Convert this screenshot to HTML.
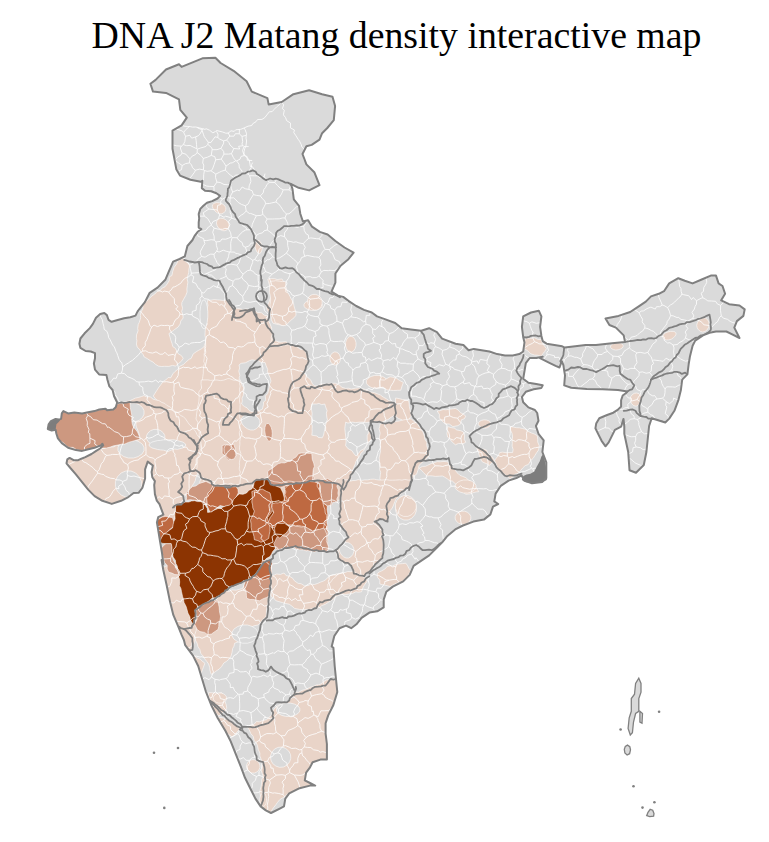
<!DOCTYPE html>
<html><head><meta charset="utf-8"><style>
html,body{margin:0;padding:0;background:#fff;width:769px;height:842px;overflow:hidden}
#t{position:absolute;width:769px;text-align:center;font-family:"Liberation Serif",serif;font-size:37.8px;line-height:1;color:#000;top:16.5px;left:12px;white-space:nowrap}
svg{position:absolute;left:0;top:0}
</style></head><body>
<svg width="769" height="842" viewBox="0 0 769 842">
<defs><clipPath id="ind"><path d="M176.4,169.6 L172.5,148.8 L172.5,130.6 L181.6,125.4 L186.8,117.6 L180.3,109.8 L179,99.4 L166,92.9 L153,91.6 L150.4,83.8 L155.6,79.9 L166,69.5 L179,64.3 L181.6,66.9 L202.4,58.3 L215.4,57.8 L220.6,63 L233.6,70.8 L246.6,81.2 L251.8,91.6 L267.4,98.1 L268.7,104.6 L281.7,102 L293.4,94.2 L309.1,90.3 L322.1,94.2 L332.5,96.8 L335.1,105.9 L333.8,120.2 L327.3,128 L322.1,133.2 L319.5,139.7 L311.7,144.9 L306.4,146.2 L302.5,154 L306.4,164.4 L314.3,172.2 L319.5,185.2 L309.1,190.4 L298.6,187.8 L290.8,183.9 L292.5,189 L293.8,199.4 L299,205.9 L300.3,213.7 L302.9,221.5 L308.1,220.2 L312,226.7 L319.8,231.9 L327.6,234.5 L335.4,241 L344.5,247.5 L353.6,252.7 L348.4,259.2 L340.6,265.7 L335.4,273.5 L335.4,282.6 L331.5,291.7 L338,295.6 L343.2,296.9 L348.4,300.8 L356.2,306 L364,309.9 L371.8,312.5 L377,316.4 L384.8,319.1 L395.2,323 L401.7,328.2 L410.8,329.5 L421.2,330.8 L429.1,328.2 L436.9,332.1 L442.1,338.6 L455.6,343.7 L463.4,345 L468.6,350.2 L473.8,348.9 L481.6,350.2 L489.4,351.5 L497.2,354.1 L505,355.4 L512.8,355.4 L519.3,354.1 L523.2,351.5 L524.5,342.4 L523.2,337.2 L521.9,326.8 L523.2,316.4 L531,312.5 L538.8,310.7 L541.4,316.4 L540.1,326.8 L541.4,335.9 L542.7,341.1 L546.6,343.7 L554.4,345 L562.2,346.3 L564.8,347.6 L575.2,346.3 L585.6,345 L596,345 L612,343.2 L625,341.9 L623.7,335.4 L615.9,327.6 L609.4,325 L605.5,318.5 L612,317.2 L618.5,315.9 L630.2,312 L638,306.8 L645.8,301.6 L651,296.4 L658.8,293.8 L664,291.2 L669.2,283.4 L678.3,278.2 L684.8,280.8 L692.6,283.4 L701.7,279.5 L710.8,275.6 L716,275.6 L718.6,283.4 L722.5,286 L725.1,293.8 L721.2,300.3 L729.1,304.2 L739.5,305.5 L744.7,309.4 L743.4,315.9 L736.9,321.1 L734.3,327.6 L739.5,338 L731.7,334.1 L726.4,331.5 L716,331.5 L709.5,332.8 L703,335.4 L695.2,340.6 L692.6,345.8 L690,356.2 L688.7,364 L687.4,374.4 L682.2,379.6 L680.9,390 L678.3,400.4 L674.4,410.8 L669.2,418.6 L665.3,422.5 L651.7,418.2 L649.1,426 L646.4,452 L643.8,465 L636,472.8 L629.5,470.2 L628.2,452 L624.3,433.8 L624.3,426.7 L623.5,418.9 L621.1,426.7 L614.9,429.9 L611.8,436.1 L608.7,442.4 L605.5,446.3 L601.6,440.8 L598.5,434.6 L595.4,428.3 L596.2,423.6 L599.3,418.2 L607.1,415 L613.3,412.7 L618,409.6 L621.1,406.5 L621.1,400.2 L622.7,395.5 L625.8,393.2 L627.4,391.6 L618,390.1 L602.4,389.3 L586.8,389 L571.2,387.7 L564.2,385.4 L565,375.3 L564.2,370.6 L563.4,365.1 L561.8,361.2 L559.5,367.5 L555.6,365.9 L549.4,362.8 L540,358.1 L542.7,356.7 L536.2,358 L529.7,358 L525.8,363.2 L524.5,371 L523.2,378.8 L528.4,382.7 L536.2,384 L542.7,385.3 L541.4,387.9 L533.6,389.2 L525.8,391.8 L521.9,397 L523.2,402.2 L528.4,407.4 L534.9,410 L537.2,413 L538.5,420.8 L535.9,426 L538.5,433.8 L543.7,440.3 L542.4,452 L546.3,462.4 L546.3,478 L542.4,481.9 L532,483.2 L524.2,480.6 L521.6,475.4 L516.4,478 L508.6,480.6 L500.8,485.8 L495.6,493.6 L494.3,501.4 L498.2,504 L493,506.6 L490.4,514.4 L483.9,519.6 L473.4,521.6 L463,525.5 L455.2,529.4 L447.4,535.9 L442.2,542.4 L437,547.6 L429.2,555.4 L421.4,560.6 L413.6,565.8 L409.7,574.9 L403.2,581.4 L392.8,586.6 L386.3,591.8 L383.7,599.6 L383.7,607.4 L377.2,611.3 L369.4,612.6 L361.6,617.8 L356.4,624.3 L351.2,628.2 L346,625.6 L339.5,628.2 L334.3,636 L331.7,646.4 L333.4,647.8 L334.7,666 L336,679 L337.3,692 L333.4,705 L328.2,715.4 L325.6,723.2 L325.6,733.6 L326.9,744 L326.9,759.6 L320.4,759.6 L312.6,762.2 L310,767.4 L306.1,772.6 L304.8,780.4 L310,783 L315.2,785.6 L310,785.6 L299.6,788.2 L289.2,793.4 L285.3,798.6 L284,806.4 L278.8,809.1 L271,813 L265.8,810.4 L260.6,806.4 L255.4,798.6 L250.2,788.2 L245,777.8 L241.1,767.4 L235.9,754.4 L230.7,741.4 L225.5,731 L217.7,718 L211.2,705 L206,692 L202.1,679 L198.2,666 L193,655.6 L189.1,650.4 L185.2,645.2 L183.9,640 L181.6,634.9 L178.3,626.6 L173.3,614.9 L170,601.6 L166.6,585 L163.3,570 L161.6,560 L163.4,564 L162.1,553.6 L160.8,545.8 L159.5,538 L158.2,530.2 L156.9,522.4 L158.2,517.2 L163.4,514.6 L159.5,504.2 L156.8,500.6 L154.9,494.1 L154.2,485 L154.9,481.1 L152.3,477.2 L151.6,472 L152.9,465.5 L147.7,461.6 L145.1,469.4 L145.1,478.5 L142.5,487.6 L138.6,492.8 L133.6,493 L127.4,497.7 L121.1,500.8 L111.8,503.9 L102.4,500.8 L94.6,496.1 L88.4,489.9 L82.1,482.1 L75.9,474.3 L70.4,468 L66.5,463.3 L67.3,459.4 L69.6,457.9 L73.6,460.2 L78.2,460.2 L81.4,458.7 L85.3,457.1 L91.5,454 L96.2,450.9 L100.1,448.5 L103.2,445.4 L102.4,443.8 L100.9,445.4 L94.6,447.7 L88.4,449.3 L82.1,450.9 L75.9,450.1 L68.1,447.7 L61.8,443.1 L57.9,438.4 L56.4,433.7 L55.6,429.8 L51.7,430.6 L47.8,429 L48.6,424.3 L50.9,421.2 L55.6,418.9 L58.7,419.6 L61.1,418.9 L61.8,413.4 L63.4,411.1 L68.1,413.4 L74.3,412.6 L82.1,413.4 L86.8,412.6 L94.6,411.1 L99.3,409.5 L105.5,408.7 L107.1,410.3 L113.3,409.5 L115.7,407.2 L117.2,402.5 L114.1,396.2 L112.6,390 L109.4,386.4 L107.5,380 L106.4,374.9 L99.1,374.4 L95,369.7 L93.9,363.5 L95,358.3 L95,353.1 L90.8,351.5 L85.6,351 L80.4,347.9 L79.4,343.7 L80.4,338.5 L84.6,333.3 L89.8,328.1 L92.9,323.9 L96,317.7 L100.2,314 L104.3,313 L106.9,315.1 L108.5,319.8 L111.6,321.8 L116.8,320.3 L124.1,318.2 L130.3,317.2 L135.5,315.6 L137.6,311.4 L140.7,307.3 L144.9,302.1 L149.7,292.8 L157.5,287.6 L165.3,279.8 L169.2,270.7 L173.1,261.6 L179.6,259 L184.8,256.4 L187.4,246 L192.5,240 L194.6,235.9 L197.7,231.8 L201.3,229.2 L198.7,227.6 L198.7,222.4 L199.2,218.3 L198.7,214.1 L200.3,208.9 L203.4,205.8 L207,202.7 L212.2,201.1 L217.5,198.5 L220.1,195.9 L216.4,193.3 L211.2,191.2 L205,190.7 L201.8,188.1 L202.4,180.8 L200.8,181.8 L190.4,179.8 L180,175.6Z"/></clipPath></defs>
<path d="M176.4,169.6 L172.5,148.8 L172.5,130.6 L181.6,125.4 L186.8,117.6 L180.3,109.8 L179,99.4 L166,92.9 L153,91.6 L150.4,83.8 L155.6,79.9 L166,69.5 L179,64.3 L181.6,66.9 L202.4,58.3 L215.4,57.8 L220.6,63 L233.6,70.8 L246.6,81.2 L251.8,91.6 L267.4,98.1 L268.7,104.6 L281.7,102 L293.4,94.2 L309.1,90.3 L322.1,94.2 L332.5,96.8 L335.1,105.9 L333.8,120.2 L327.3,128 L322.1,133.2 L319.5,139.7 L311.7,144.9 L306.4,146.2 L302.5,154 L306.4,164.4 L314.3,172.2 L319.5,185.2 L309.1,190.4 L298.6,187.8 L290.8,183.9 L292.5,189 L293.8,199.4 L299,205.9 L300.3,213.7 L302.9,221.5 L308.1,220.2 L312,226.7 L319.8,231.9 L327.6,234.5 L335.4,241 L344.5,247.5 L353.6,252.7 L348.4,259.2 L340.6,265.7 L335.4,273.5 L335.4,282.6 L331.5,291.7 L338,295.6 L343.2,296.9 L348.4,300.8 L356.2,306 L364,309.9 L371.8,312.5 L377,316.4 L384.8,319.1 L395.2,323 L401.7,328.2 L410.8,329.5 L421.2,330.8 L429.1,328.2 L436.9,332.1 L442.1,338.6 L455.6,343.7 L463.4,345 L468.6,350.2 L473.8,348.9 L481.6,350.2 L489.4,351.5 L497.2,354.1 L505,355.4 L512.8,355.4 L519.3,354.1 L523.2,351.5 L524.5,342.4 L523.2,337.2 L521.9,326.8 L523.2,316.4 L531,312.5 L538.8,310.7 L541.4,316.4 L540.1,326.8 L541.4,335.9 L542.7,341.1 L546.6,343.7 L554.4,345 L562.2,346.3 L564.8,347.6 L575.2,346.3 L585.6,345 L596,345 L612,343.2 L625,341.9 L623.7,335.4 L615.9,327.6 L609.4,325 L605.5,318.5 L612,317.2 L618.5,315.9 L630.2,312 L638,306.8 L645.8,301.6 L651,296.4 L658.8,293.8 L664,291.2 L669.2,283.4 L678.3,278.2 L684.8,280.8 L692.6,283.4 L701.7,279.5 L710.8,275.6 L716,275.6 L718.6,283.4 L722.5,286 L725.1,293.8 L721.2,300.3 L729.1,304.2 L739.5,305.5 L744.7,309.4 L743.4,315.9 L736.9,321.1 L734.3,327.6 L739.5,338 L731.7,334.1 L726.4,331.5 L716,331.5 L709.5,332.8 L703,335.4 L695.2,340.6 L692.6,345.8 L690,356.2 L688.7,364 L687.4,374.4 L682.2,379.6 L680.9,390 L678.3,400.4 L674.4,410.8 L669.2,418.6 L665.3,422.5 L651.7,418.2 L649.1,426 L646.4,452 L643.8,465 L636,472.8 L629.5,470.2 L628.2,452 L624.3,433.8 L624.3,426.7 L623.5,418.9 L621.1,426.7 L614.9,429.9 L611.8,436.1 L608.7,442.4 L605.5,446.3 L601.6,440.8 L598.5,434.6 L595.4,428.3 L596.2,423.6 L599.3,418.2 L607.1,415 L613.3,412.7 L618,409.6 L621.1,406.5 L621.1,400.2 L622.7,395.5 L625.8,393.2 L627.4,391.6 L618,390.1 L602.4,389.3 L586.8,389 L571.2,387.7 L564.2,385.4 L565,375.3 L564.2,370.6 L563.4,365.1 L561.8,361.2 L559.5,367.5 L555.6,365.9 L549.4,362.8 L540,358.1 L542.7,356.7 L536.2,358 L529.7,358 L525.8,363.2 L524.5,371 L523.2,378.8 L528.4,382.7 L536.2,384 L542.7,385.3 L541.4,387.9 L533.6,389.2 L525.8,391.8 L521.9,397 L523.2,402.2 L528.4,407.4 L534.9,410 L537.2,413 L538.5,420.8 L535.9,426 L538.5,433.8 L543.7,440.3 L542.4,452 L546.3,462.4 L546.3,478 L542.4,481.9 L532,483.2 L524.2,480.6 L521.6,475.4 L516.4,478 L508.6,480.6 L500.8,485.8 L495.6,493.6 L494.3,501.4 L498.2,504 L493,506.6 L490.4,514.4 L483.9,519.6 L473.4,521.6 L463,525.5 L455.2,529.4 L447.4,535.9 L442.2,542.4 L437,547.6 L429.2,555.4 L421.4,560.6 L413.6,565.8 L409.7,574.9 L403.2,581.4 L392.8,586.6 L386.3,591.8 L383.7,599.6 L383.7,607.4 L377.2,611.3 L369.4,612.6 L361.6,617.8 L356.4,624.3 L351.2,628.2 L346,625.6 L339.5,628.2 L334.3,636 L331.7,646.4 L333.4,647.8 L334.7,666 L336,679 L337.3,692 L333.4,705 L328.2,715.4 L325.6,723.2 L325.6,733.6 L326.9,744 L326.9,759.6 L320.4,759.6 L312.6,762.2 L310,767.4 L306.1,772.6 L304.8,780.4 L310,783 L315.2,785.6 L310,785.6 L299.6,788.2 L289.2,793.4 L285.3,798.6 L284,806.4 L278.8,809.1 L271,813 L265.8,810.4 L260.6,806.4 L255.4,798.6 L250.2,788.2 L245,777.8 L241.1,767.4 L235.9,754.4 L230.7,741.4 L225.5,731 L217.7,718 L211.2,705 L206,692 L202.1,679 L198.2,666 L193,655.6 L189.1,650.4 L185.2,645.2 L183.9,640 L181.6,634.9 L178.3,626.6 L173.3,614.9 L170,601.6 L166.6,585 L163.3,570 L161.6,560 L163.4,564 L162.1,553.6 L160.8,545.8 L159.5,538 L158.2,530.2 L156.9,522.4 L158.2,517.2 L163.4,514.6 L159.5,504.2 L156.8,500.6 L154.9,494.1 L154.2,485 L154.9,481.1 L152.3,477.2 L151.6,472 L152.9,465.5 L147.7,461.6 L145.1,469.4 L145.1,478.5 L142.5,487.6 L138.6,492.8 L133.6,493 L127.4,497.7 L121.1,500.8 L111.8,503.9 L102.4,500.8 L94.6,496.1 L88.4,489.9 L82.1,482.1 L75.9,474.3 L70.4,468 L66.5,463.3 L67.3,459.4 L69.6,457.9 L73.6,460.2 L78.2,460.2 L81.4,458.7 L85.3,457.1 L91.5,454 L96.2,450.9 L100.1,448.5 L103.2,445.4 L102.4,443.8 L100.9,445.4 L94.6,447.7 L88.4,449.3 L82.1,450.9 L75.9,450.1 L68.1,447.7 L61.8,443.1 L57.9,438.4 L56.4,433.7 L55.6,429.8 L51.7,430.6 L47.8,429 L48.6,424.3 L50.9,421.2 L55.6,418.9 L58.7,419.6 L61.1,418.9 L61.8,413.4 L63.4,411.1 L68.1,413.4 L74.3,412.6 L82.1,413.4 L86.8,412.6 L94.6,411.1 L99.3,409.5 L105.5,408.7 L107.1,410.3 L113.3,409.5 L115.7,407.2 L117.2,402.5 L114.1,396.2 L112.6,390 L109.4,386.4 L107.5,380 L106.4,374.9 L99.1,374.4 L95,369.7 L93.9,363.5 L95,358.3 L95,353.1 L90.8,351.5 L85.6,351 L80.4,347.9 L79.4,343.7 L80.4,338.5 L84.6,333.3 L89.8,328.1 L92.9,323.9 L96,317.7 L100.2,314 L104.3,313 L106.9,315.1 L108.5,319.8 L111.6,321.8 L116.8,320.3 L124.1,318.2 L130.3,317.2 L135.5,315.6 L137.6,311.4 L140.7,307.3 L144.9,302.1 L149.7,292.8 L157.5,287.6 L165.3,279.8 L169.2,270.7 L173.1,261.6 L179.6,259 L184.8,256.4 L187.4,246 L192.5,240 L194.6,235.9 L197.7,231.8 L201.3,229.2 L198.7,227.6 L198.7,222.4 L199.2,218.3 L198.7,214.1 L200.3,208.9 L203.4,205.8 L207,202.7 L212.2,201.1 L217.5,198.5 L220.1,195.9 L216.4,193.3 L211.2,191.2 L205,190.7 L201.8,188.1 L202.4,180.8 L200.8,181.8 L190.4,179.8 L180,175.6Z" fill="#dadada"/>
<g clip-path="url(#ind)">
<path d="M183.2,258.2 L185.4,261.5 L188.1,263.1 L189.7,266 L188.9,269 L188.7,272.5 L188.1,274.8 L187.1,279 L187.9,282.2 L187.4,285.4 L186.9,289 L187.1,292 L185.8,295.4 L183.6,299.3 L181.9,302.4 L181.7,304.8 L182.6,308.3 L181.7,311.4 L182.7,314.3 L183.2,318 L180.7,321.1 L180.2,324 L178,327.1 L174.6,329.5 L172.3,331.3 L168.9,333.6 L170.1,337.4 L170.7,339.7 L172,343.5 L172.8,346.6 L175.4,348.3 L176.6,350.9 L178.2,353.7 L181.4,355.6 L183.2,358.3 L181.3,361.3 L178.3,363.7 L175.4,366.1 L172.5,365.4 L168.9,366.4 L164.4,366.3 L161.8,366.5 L158.5,366.1 L155.4,364.3 L153,362 L150.2,360.6 L147.3,358.6 L144.2,357 L143.2,354.7 L141,352.1 L140.1,350.1 L137.2,347 L136.4,344 L136.9,340.8 L136.4,338.4 L136.5,334.9 L138.1,330.7 L137.7,328.4 L138.2,324.5 L139.1,322.7 L140.7,317.8 L140.3,315.4 L140.9,312.3 L142.8,308.7 L142.9,305 L144.8,302.9 L147.4,300.3 L149.4,298.4 L152,295.9 L154.8,294 L157.1,291.6 L159.6,291 L162.3,287.9 L165,286.8 L167.2,283.9 L169.2,280.6 L169.4,276.7 L171.9,275.6 L172.8,271.2 L174.1,267.4 L176.6,263.9 L178,260.8Z" fill="rgb(233, 212, 200)" stroke="#fff" stroke-opacity="0.7" stroke-width="0.8"/>
<path d="M205.3,308.9 L208.6,308.3 L212.3,308.6 L215.7,307.6 L218.1,310.1 L220.2,311.9 L221.7,313.1 L225.5,315.6 L227.4,318 L230.7,319.1 L234.1,320.1 L236.5,320.6 L240,317.9 L242.2,315 L245.6,312.8 L248.3,313.5 L251.2,315.4 L254.5,316.5 L257.3,318 L259,320.2 L262.7,323.1 L265.5,324.5 L267.8,327.1 L268.7,331.4 L270.8,334.5 L272.8,336.4 L273,340.1 L276.8,341.3 L280.4,342.3 L283.8,343.1 L287.3,344 L287.5,346.8 L288.9,349.9 L290,353.1 L291.2,355.7 L288.6,358 L285.3,360.1 L282.1,362.2 L278.7,362.6 L275.6,363.4 L272.7,364.1 L268.9,364.7 L266.4,364.8 L263.4,366.4 L261.1,368.4 L258.7,370.4 L256,372.6 L257.1,375.4 L259.9,379.1 L260.3,382.4 L262.5,385.6 L263,390 L264.3,392.8 L266.4,396 L264.1,396.9 L261.4,399.7 L258.8,401 L256,402.5 L254.4,405.5 L252,408.2 L250.1,410.7 L248.1,413.8 L245.6,416.9 L243.8,420.5 L243.8,424.3 L241.7,427.3 L242.4,430.8 L243.4,433.6 L244.7,435.7 L245.6,440 L242.6,439.5 L239.1,439.3 L235.6,439.5 L233.7,440.8 L230.2,440.5 L227,439 L224.2,440.2 L220.8,440.2 L218.2,439.6 L214.1,439.9 L211.7,439.8 L209.2,440.9 L205.4,440.3 L203.1,440.4 L200,439.8 L196.8,441 L193.8,439.7 L190.6,440.6 L187.4,439.7 L184.9,439.4 L181.3,440 L178,440 L175.7,437.7 L174.8,433.6 L173.3,431 L170.4,427.9 L169.8,425.7 L168.1,422.5 L166.3,419.5 L165.5,416.5 L164.8,413.8 L163.3,411.1 L161.6,407.6 L161.1,405.1 L159.3,402.2 L155.8,399.2 L153.3,396 L155,393.2 L156.9,390.3 L158.4,387.9 L161.1,384.3 L163.2,381.4 L165.7,380 L168.2,377.5 L170.7,377.8 L172.8,373.9 L174.8,371.7 L177.8,369.3 L179.7,366.3 L183.4,364.5 L185.8,362.2 L189.2,359.2 L191.1,358.5 L193.2,353.9 L196.2,351.8 L198.8,350.2 L201.8,348.6 L203.6,347 L206.6,345.3 L210.5,343.3 L210.4,340 L214.4,337.5 L212.3,335.2 L211.1,333.3 L210,330.1 L207.9,327.1 L206.7,324 L205.5,321.7 L204,318 L204.7,314.8 L205.5,312Z" fill="rgb(233, 212, 200)" stroke="#fff" stroke-opacity="0.7" stroke-width="0.8"/>
<path d="M267.8,279 L271.3,278.6 L274.7,278.7 L277.1,279.5 L282.1,279 L283.7,282.1 L285.2,285.7 L286.2,287.5 L287.3,292 L285.9,295.2 L285.5,298.8 L284.1,300.2 L282.1,303.7 L283.1,306.8 L286.3,309.9 L288.3,312.4 L289.7,315.4 L292.5,318 L289.2,320.8 L286.7,323.1 L283.4,325.8 L280.1,324.9 L276.8,324.3 L273,323.2 L271.4,319.8 L271.2,316.9 L269.5,314 L267.4,310.3 L266.4,307.6 L267.8,304.8 L269.4,301.1 L270.1,298.8 L271.7,295.9 L271.7,291.3 L270.4,288.9 L269.6,285.5 L268.8,283.2Z" fill="rgb(233, 212, 200)" stroke="#fff" stroke-opacity="0.7" stroke-width="0.8"/>
<path d="M207.8,300 L211,300.2 L214.1,299.6 L217.2,299.9 L219.5,300 L222.9,300.4 L226,300 L228.6,302.3 L231.9,305.7 L233.8,307.8 L237.5,308.5 L239.8,308.5 L242.8,309.6 L246,308.8 L248.9,309.3 L252,310.4 L255.2,310.8 L257.6,312.5 L261.3,312.7 L264.9,315.6 L267.6,315.6 L267.7,319.5 L269,321.4 L270.1,324 L271.7,328 L271.6,330.6 L272.8,333.8 L271.2,337.1 L271.5,339.9 L270.2,344.2 L273.1,343.8 L277,343.8 L279.3,342.3 L282.9,341.9 L285.8,341.6 L288.7,343.4 L292.7,344.3 L294.8,345.8 L297,346.8 L300.4,349.3 L304,349.4 L306.1,352.9 L307.4,355.1 L309.2,359.8 L308.3,363.9 L306.2,366.6 L305.7,368.8 L304,372.8 L306.5,376.1 L308.3,378 L310.6,379.8 L312.4,383.7 L314.4,385.8 L317.2,385.9 L321.1,383.9 L324.7,384 L328.4,383.5 L332.3,383.3 L335.2,383.2 L338.8,384.6 L342,387.3 L345.6,388.4 L348.8,388.2 L351.2,389 L355.3,388.2 L358.2,387.9 L361.2,388.4 L363.8,389 L367.7,390.6 L370.2,391.9 L374.2,392.6 L376.9,393.6 L380.5,395 L383.1,397 L386.2,398.7 L388.8,400.6 L392.5,401.4 L393.4,404.6 L394.4,408.2 L397,411.7 L397.7,414.4 L395,415.2 L391.1,417.3 L387.9,419.6 L385.3,420.6 L382.1,422.2 L379.1,421.7 L375.1,421.8 L372.6,422.4 L369.1,422.2 L369.9,425.9 L369.5,428.2 L370.7,430.9 L370.9,435.2 L371.7,437.8 L370.5,440.9 L368.2,442.9 L366.4,445.6 L365.2,448 L363.1,451.5 L361,453.1 L359.5,456.3 L358,458.7 L356,461.2 L355.4,463.5 L353.8,467.4 L352.9,469.7 L351.9,472.9 L351.6,475.9 L350.8,479.5 L349.4,483.3 L347.8,486 L346.5,487.7 L344.7,490.7 L343.8,493.6 L342.5,497.4 L340.4,500 L336.3,500.4 L335.1,499.6 L331.7,499.1 L328.3,499.2 L325.4,499.1 L320.8,500.2 L320.2,499.7 L316.4,500.1 L312.8,500.3 L310.7,499.4 L307.1,500.2 L303.1,500.8 L301.7,499.5 L298.5,500 L294.5,500.8 L291.7,500.2 L289.3,500.6 L285.9,499.3 L281.6,500.6 L278.9,500.1 L275.8,499.9 L272.6,500.8 L269.7,499.9 L267.1,500.6 L263.4,500 L260.9,500.3 L258.2,499.8 L255.1,499.8 L252.1,499.9 L248.5,500 L246,501.1 L242.5,500.2 L240.4,499 L235.8,499.4 L233.5,501.2 L230.7,500.6 L227.4,498.8 L223.3,500.5 L221.5,499.4 L218.9,499.2 L215.8,500.7 L211.8,499.4 L209.6,499.5 L206.5,499.4 L203.5,500 L200,500 L199.8,496.5 L200.1,493 L199.9,490.8 L200.3,487.3 L200.9,484.8 L199.4,482.6 L200.8,478.9 L199.6,475.9 L199.7,472.8 L200.8,470.1 L200.1,467.1 L200,464.3 L200.4,460.7 L200.1,459.1 L200.2,454.8 L201,451.9 L199.5,449.2 L199.6,445.6 L200.2,442.8 L199.6,439.6 L199.7,437.4 L199.6,433.5 L201,430.5 L200.7,428.5 L200,424.8 L200.1,421 L200.6,419 L201.1,415.7 L201.4,413.3 L200.4,410.3 L201.2,406.3 L201.2,404.4 L202,399.6 L201.8,397.3 L201.8,394.1 L201.4,391.7 L201.8,388.1 L202.2,384.9 L203,382.4 L202.5,378.7 L202.8,376.6 L203.3,373.2 L203.3,369.9 L203.7,366 L204.6,363.5 L203.7,361.5 L204.3,357.9 L204.1,354 L204.7,352.3 L204.3,349.4 L204.4,345.3 L205.4,342.6 L205.7,339.2 L205,335.6 L205.1,332.9 L205.2,330.6 L205.8,326.4 L207.5,323.9 L205.8,321.9 L207.2,317.7 L206.1,314.7 L207.6,312 L206.8,309.1 L208,305.4 L207.4,302.4Z" fill="rgb(233, 212, 200)" stroke="#fff" stroke-opacity="0.7" stroke-width="0.8"/>
<path d="M304,304.2 L305.4,302.3 L308.1,300.8 L311.3,300 L314.9,300 L318.1,300.8 L320.8,302.3 L322.2,304.2 L322.2,306.2 L320.8,308.1 L318.1,309.6 L314.9,310.4 L311.3,310.4 L308.1,309.6 L305.4,308.1 L304,306.2Z" fill="rgb(233, 212, 200)" stroke="#fff" stroke-opacity="0.7" stroke-width="0.8"/>
<path d="M345.6,342.6 L346.4,339.9 L347.9,337.6 L349.8,336.4 L351.8,336.4 L353.7,337.6 L355.2,339.9 L356,342.6 L356,345.8 L355.2,348.5 L353.7,350.8 L351.8,352 L349.8,352 L347.9,350.8 L346.4,348.5 L345.6,345.8Z" fill="rgb(233, 212, 200)" stroke="#fff" stroke-opacity="0.7" stroke-width="0.8"/>
<path d="M330,357.2 L330.8,354.9 L332.3,353 L334.2,352 L336.2,352 L338.1,353 L339.6,354.9 L340.4,357.2 L340.4,359.8 L339.6,362.1 L338.1,364 L336.2,365 L334.2,365 L332.3,364 L330.8,362.1 L330,359.8Z" fill="rgb(233, 212, 200)" stroke="#fff" stroke-opacity="0.7" stroke-width="0.8"/>
<path d="M366.4,380.6 L368,378.3 L371.1,376.4 L374.8,375.4 L378.9,375.4 L382.6,376.4 L385.7,378.3 L387.3,380.6 L387.3,383.2 L385.7,385.5 L382.6,387.4 L378.9,388.4 L374.8,388.4 L371.1,387.4 L368,385.5 L366.4,383.2Z" fill="rgb(233, 212, 200)" stroke="#fff" stroke-opacity="0.7" stroke-width="0.8"/>
<path d="M380,379.8 L384.3,380.1 L387,378.4 L390.1,376.8 L393,377.2 L396.6,378.3 L399.3,380.3 L403.4,382.4 L401.9,386.6 L400.8,390.2 L397.7,390.3 L393.4,390.5 L390.4,390.2 L386.9,389.9 L383,387.1 L380,387.6 L379.8,384.8Z" fill="rgb(233, 212, 200)" stroke="#fff" stroke-opacity="0.7" stroke-width="0.8"/>
<path d="M395.6,398 L399.1,398.6 L402.5,399.6 L405.6,399.7 L408.6,400.6 L409.2,403.8 L409.3,406.3 L410.2,410.4 L411,413.3 L411.2,416.2 L408.9,419.2 L406.1,420.2 L403.4,421.4 L401.8,419.7 L398.3,418.5 L395.6,416.2 L396.4,413.3 L395.8,410.2 L395,407.7 L395.5,403.2 L395.5,400.2Z" fill="rgb(233, 212, 200)" stroke="#fff" stroke-opacity="0.7" stroke-width="0.8"/>
<path d="M380,424 L382.6,423.5 L385.8,423.5 L388.6,422.6 L392.8,422.7 L395.6,421.4 L399.2,421 L401.9,420.3 L405.5,419.5 L408.3,419.3 L411.2,418.8 L413.9,421.3 L417.5,423.7 L419.1,426.7 L421.6,429.2 L423.2,432.7 L424.4,436.2 L424.8,439 L426.8,442.2 L426.8,445.6 L427.5,448.2 L428.7,452.7 L429.4,455.2 L427.1,458 L424.9,459.9 L421.6,463 L419,465.4 L418.3,468.8 L418,470.1 L416.6,474.2 L413.8,476 L412.7,478.8 L411.9,481.3 L408.9,483.9 L406.9,486.7 L406,489.1 L403.4,491.9 L401,493.8 L398.9,496.4 L395.6,499.5 L394.9,501.6 L393.6,505 L392.3,508 L390.1,510.7 L390.1,514.5 L388.2,516 L387.8,520 L383.5,519.9 L380,520 L379.7,516.6 L380.4,514.5 L380.4,510.5 L380,507.9 L379.3,505.4 L380.1,501.8 L380.7,499.4 L380.4,496.6 L380.4,492.4 L379.8,490.5 L379.6,487 L380.2,484.7 L380.7,481.5 L379.9,478.5 L380.3,474.9 L380.7,472.3 L379.6,469.6 L379.9,466.3 L379.2,463 L379.5,459.5 L379.1,458.1 L379.9,454.1 L380.6,450.9 L380.3,447.3 L380.1,444.8 L380.3,442.1 L379.3,438.1 L379.5,436.4 L380.2,433.2 L379,428.7 L379.7,426.8Z" fill="rgb(233, 212, 200)" stroke="#fff" stroke-opacity="0.7" stroke-width="0.8"/>
<path d="M437.2,411 L439.9,410.7 L443.2,409.5 L445.9,409.8 L449.4,409.2 L453.5,408.7 L455.4,408.4 L458.1,409.9 L460.4,412.6 L463.5,414.2 L465.8,416.2 L464.3,418.8 L461.4,419.8 L460.6,424 L457.9,425.7 L452.8,426.6 L449.3,424 L445.2,423.8 L442.4,421.4 L439.3,417.8 L439.4,414.5Z" fill="rgb(233, 212, 200)" stroke="#fff" stroke-opacity="0.7" stroke-width="0.8"/>
<path d="M447.6,426.6 L451.1,427.6 L455,428.2 L456.3,429.9 L460.8,430.7 L463.2,431.8 L464.6,435 L464.3,439.4 L465.8,442.2 L463.1,443.8 L458.6,443.4 L455.4,444.8 L452.2,442.1 L450.5,439.9 L447.6,437 L446.9,433.6 L447.6,430.1Z" fill="rgb(233, 212, 200)" stroke="#fff" stroke-opacity="0.7" stroke-width="0.8"/>
<path d="M478.3,424.5 L478.3,423 L479.5,421.4 L481.4,420.4 L484,419.8 L486.5,420 L488.8,420.8 L490.2,421.9 L490.8,423.5 L490.4,425 L489.3,426.6 L487.6,427.6 L485.6,428.2 L483.3,428 L481,427.2 L479.3,426.1Z" fill="rgb(233, 212, 200)" stroke="#fff" stroke-opacity="0.7" stroke-width="0.8"/>
<path d="M510,426.6 L513.1,427 L516.5,427.7 L519.5,427.8 L522.7,428.6 L525.6,429.2 L527.5,431.1 L531.3,432.9 L534.3,434 L537.3,435.7 L537.7,439.3 L537.7,442 L539.2,445.6 L538.6,450 L536.5,452.9 L534.9,455.5 L533.1,458.4 L530.8,460.4 L528.3,464.5 L525.1,465.7 L522.8,467.9 L520.4,470.8 L517.9,473.5 L514.8,474.3 L513,476.9 L510,478.6 L508.4,477.2 L504.9,474.5 L502.3,472.7 L499.6,470.8 L497.2,467.3 L496,463.8 L494.4,460.4 L495.9,458.6 L498.2,455.7 L499.6,452.6 L502.5,452.1 L506,452.7 L509.2,452.5 L512.6,452.6 L513.1,449.6 L512.1,446.1 L512.3,443.3 L512,440 L512.6,437 L512.1,433.5 L510.4,429.8Z" fill="rgb(233, 212, 200)" stroke="#fff" stroke-opacity="0.7" stroke-width="0.8"/>
<path d="M476.2,447.4 L479.7,448.5 L483.6,449.1 L486.6,450 L487.9,453.3 L490.6,455.4 L492.6,457.3 L494.4,460.4 L491.6,463.1 L489.2,465.6 L487.1,463.9 L482.4,462 L481.4,460.4 L480.3,457.8 L479.2,455.1 L478.2,451.3Z" fill="rgb(233, 212, 200)" stroke="#fff" stroke-opacity="0.7" stroke-width="0.8"/>
<path d="M419,468.2 L422.5,466.4 L425.5,466.3 L427.8,465.2 L431.3,463.6 L434.1,462.7 L437.2,461.7 L440.6,461.8 L444,461.4 L446.8,461.8 L450.2,463 L451.9,465.9 L454.1,468.1 L456.1,471.6 L458,473.4 L460,475.4 L462.4,476.3 L465.9,477.7 L468.5,480 L471,481.2 L472.4,483.8 L474.7,485.5 L476.8,488.7 L478.8,491.7 L476.2,491.9 L473.1,492.7 L470,493.9 L465.8,494.3 L463.4,492.1 L461.1,489.8 L458.9,486.3 L455.4,483.8 L452.2,480.9 L450,481.1 L447.8,479.2 L444.8,477.2 L442.4,476 L439.1,476.2 L435.3,476.4 L432.3,475.9 L429.6,475.8 L426.8,476 L423.7,472.8 L421.5,470.3Z" fill="rgb(233, 212, 200)" stroke="#fff" stroke-opacity="0.7" stroke-width="0.8"/>
<path d="M395.6,506.1 L397.2,502.1 L400.3,498.6 L403.9,496.9 L408.1,496.9 L411.7,498.6 L414.8,502.1 L416.4,506.1 L416.4,510.8 L414.8,514.8 L411.7,518.3 L408.1,520 L403.9,520 L400.3,518.3 L397.2,514.8 L395.6,510.8Z" fill="rgb(233, 212, 200)" stroke="#fff" stroke-opacity="0.7" stroke-width="0.8"/>
<path d="M525.6,338.2 L529.9,338.2 L531.5,338.4 L534.4,337.7 L537.9,339.4 L541.2,339.5 L542.2,342.5 L544.1,345.5 L546.4,348.6 L544.8,351.4 L543.1,353.4 L541.2,356.4 L538.2,355.3 L534.4,355 L530.8,353.8 L527.4,350.6 L524.3,348.6 L525,344.6 L524.7,341.1Z" fill="rgb(233, 212, 200)" stroke="#fff" stroke-opacity="0.7" stroke-width="0.8"/>
<path d="M190.4,622.4 L192.6,618.8 L192.7,615.8 L195.6,612 L199.7,611.6 L201.4,609.4 L204.9,608.5 L207.7,606.2 L211.1,605.8 L213.8,604.2 L214.7,601.4 L217,599 L218.7,596.8 L220.3,593.7 L221.6,591.2 L224.4,591.1 L229.2,591.3 L232,589.9 L236.2,590.2 L239.1,589.4 L242.4,588.6 L245,583.4 L247.6,582.4 L250.6,580.7 L254,579.3 L256.1,577.8 L260.3,576.9 L263.2,575.6 L265.6,578.4 L268.7,581.2 L271,583.4 L270.2,586.4 L270,589 L268.9,592.4 L268.8,596.6 L268.8,598.4 L268.4,601.6 L267.7,605.6 L266.9,607.8 L266.4,610.9 L266.3,614.6 L265.8,617.2 L262.5,619.8 L261.4,622.1 L258,625 L254,625.8 L250.2,627.6 L247.1,631 L247.3,634.3 L245,638 L240.6,639.9 L238.1,642 L234.6,643.2 L234,646.2 L232.7,648.5 L232,652.6 L231,656.2 L229.4,658.8 L226.6,661.3 L223.8,663 L221.5,666.7 L219,669.2 L215.8,671.3 L213.8,672.9 L211.2,674.4 L209.9,670 L209.8,667.8 L208.6,664 L206.6,661.2 L204.6,658.7 L202.5,655.2 L200.8,653.6 L199.9,649.6 L198,646.9 L197,643 L195.6,640.6 L195.3,637.9 L194.2,635.2 L192.6,629.9 L192.3,629.1 L191.8,625.2Z" fill="rgb(233, 212, 200)" stroke="#fff" stroke-opacity="0.7" stroke-width="0.8"/>
<path d="M271,575.6 L274.2,575.1 L276.6,574 L280.4,574.4 L284,573 L286.3,575.7 L289.2,576.1 L292.9,578.4 L294.4,580.8 L298.2,583.4 L301.1,583.7 L304.8,586 L308.6,585.4 L310.7,584.2 L314.4,584.5 L317.8,583.4 L320.3,582.2 L323.8,580.9 L326.3,579.3 L327.4,577.8 L330.8,575.6 L334.1,575 L336.5,573.8 L339.6,574 L342.7,573.1 L346.4,573 L349.2,573.3 L352.5,572.9 L356.5,572.8 L359.3,572.5 L362.1,573 L364,575.7 L365.7,578 L367.3,580.8 L364.2,583.3 L361.9,586.5 L360,588 L356.9,591.2 L354.2,591.7 L351.2,592.4 L347.2,593.9 L345.2,593.6 L341,594.6 L338.4,595.5 L336,596.4 L333.7,599.1 L330.6,601 L328.8,602 L325.6,604.2 L321.6,605.7 L319.7,607.5 L317,607.7 L314,607.8 L310,609.4 L306.6,609.3 L303.9,609.7 L299.6,609.4 L294.6,608.4 L292.2,606.3 L289.2,604.2 L285.5,603.5 L282.6,602.6 L278.8,601.6 L275.7,600.6 L273.8,598.1 L271,596.4 L271.4,592.7 L272,589.6 L271.2,586.2 L270.6,582 L271.1,579.3Z" fill="rgb(233, 212, 200)" stroke="#fff" stroke-opacity="0.7" stroke-width="0.8"/>
<path d="M208.6,692.6 L212.5,692.8 L214.6,692.9 L218.8,693.1 L221.6,692.6 L222.8,695.1 L224.3,698.5 L225,701.2 L226.2,704.7 L226.8,708.2 L224.8,711.7 L222.2,712.8 L219,716 L215.9,713.8 L214.1,712.7 L211.2,710.8 L210.9,707.9 L210.6,705.1 L210.8,701.7 L209.6,697.7 L208.4,695.3Z" fill="rgb(233, 212, 200)" stroke="#fff" stroke-opacity="0.7" stroke-width="0.8"/>
<path d="M216.4,716 L218.9,717.2 L223.2,717.9 L225.5,718.9 L228.9,719.9 L232,721.2 L234.8,724 L237.4,726.9 L239.8,729.1 L237.2,731.8 L235.5,734.3 L232,736.9 L229.8,735.2 L226.6,733.2 L224.2,731.7 L222.2,728.6 L220.8,725.2 L220.1,722.2 L218.5,719.3Z" fill="rgb(233, 212, 200)" stroke="#fff" stroke-opacity="0.7" stroke-width="0.8"/>
<path d="M343.4,480 L346.9,479.7 L349.6,481.3 L353,480.5 L355.8,480.4 L358.2,479.6 L362,480.4 L364.7,479.9 L367.8,479.9 L370.5,479.3 L374.1,479.1 L376.7,479.7 L379.7,480.1 L383.1,480 L385.9,479.6 L389.7,480.2 L392.3,480.2 L395.7,480.1 L399.5,479.8 L402,480.2 L404.7,479.4 L408.3,480.1 L411,480 L409.7,483.9 L408.4,487.8 L405.8,489.3 L403.3,490.8 L400.6,492.9 L398,495.6 L393.9,497.2 L390.2,498.2 L388.1,501.8 L386.3,506 L386.8,509 L386.6,512 L387.8,515.7 L387.6,517.9 L387.6,521.6 L384,519.6 L379.8,519 L374.6,521.6 L377.4,523.6 L380.7,525.9 L382.4,529.4 L383.2,532.9 L382,535.5 L383.9,539.3 L382.6,541.6 L383.7,545 L382.8,547.7 L382.7,552.4 L382.8,554.6 L382.4,558 L379.6,560.9 L377.5,562.7 L375.3,565.2 L372,568.4 L369.2,571.2 L367.6,573.4 L364.2,576.2 L360.8,576 L357.5,575 L353.8,573.6 L353,569.8 L351.2,565.8 L348.9,564.7 L346,563.4 L342.4,560.6 L341.5,559.7 L338.2,558 L336.5,554.3 L335.6,550.2 L338.7,547.3 L341.2,544.9 L343.4,542.4 L345.9,539.7 L348.6,537.2 L346,532 L344.4,528.8 L341.5,527.1 L339.5,524.2 L339,520.2 L340,517.8 L339.8,514.7 L339.6,512.9 L339.7,508.1 L339.6,504.9 L341.2,501.9 L340.9,498.5 L340.8,495.6 L342.2,492.5 L341.2,489.7 L342.1,486.5 L342.9,483.2Z" fill="rgb(233, 212, 200)" stroke="#fff" stroke-opacity="0.7" stroke-width="0.8"/>
<path d="M395.4,503.9 L397,500.3 L400.1,497.2 L403.7,495.6 L407.9,495.6 L411.5,497.2 L414.6,500.3 L416.2,503.9 L416.2,508.1 L414.6,511.7 L411.5,514.8 L407.9,516.4 L403.7,516.4 L400.1,514.8 L397,511.7 L395.4,508.1Z" fill="rgb(233, 212, 200)" stroke="#fff" stroke-opacity="0.7" stroke-width="0.8"/>
<path d="M455.2,485.2 L456.8,482.9 L459.9,481 L463.5,480 L467.7,480 L471.3,481 L474.4,482.9 L476,485.2 L476,487.8 L474.4,490.1 L471.3,492 L467.7,493 L463.5,493 L459.9,492 L456.8,490.1 L455.2,487.8Z" fill="rgb(233, 212, 200)" stroke="#fff" stroke-opacity="0.7" stroke-width="0.8"/>
<path d="M455.2,516.4 L456.4,514.1 L458.7,512.2 L461.4,511.2 L464.6,511.2 L467.3,512.2 L469.6,514.1 L470.8,516.4 L470.8,519 L469.6,521.3 L467.3,523.2 L464.6,524.2 L461.4,524.2 L458.7,523.2 L456.4,521.3 L455.2,519Z" fill="rgb(233, 212, 200)" stroke="#fff" stroke-opacity="0.7" stroke-width="0.8"/>
<path d="M377.2,573.6 L379.8,571.6 L381.6,570.9 L384.9,569 L387.3,566.3 L390.2,565.8 L392.6,565.9 L396,564.5 L398.8,563.9 L402.5,563.6 L405.8,563.2 L407.5,565.5 L408.9,568.4 L411,571 L409.2,573.5 L407.9,576.3 L405.2,578.4 L403.2,581.4 L400.4,582.2 L395.9,583.5 L393.7,584.7 L390.2,586.6 L387.3,585.7 L382.5,584.7 L379.8,584 L379.8,580.1 L377.4,577.3Z" fill="rgb(233, 212, 200)" stroke="#fff" stroke-opacity="0.7" stroke-width="0.8"/>
<path d="M327.8,584 L331,581.9 L332.8,578.9 L335.7,576.8 L338.2,573.6 L342.4,573 L345.1,572.4 L347.8,571.5 L350.3,571.7 L353.8,571 L355.9,573 L358.7,574.1 L361.5,575.5 L364.2,577.7 L366.8,578.8 L367,581.4 L364.3,585.2 L362.4,588.7 L361.6,591.8 L358,592.2 L355.9,591.8 L352.3,593.5 L348.6,594.1 L346,594.4 L343,594.2 L340.3,593.7 L336.9,594.2 L333,594.3 L330.4,594.4 L329.3,591.3 L327.9,587.3Z" fill="rgb(233, 212, 200)" stroke="#fff" stroke-opacity="0.7" stroke-width="0.8"/>
<path d="M45.2,452.8 L47.9,452.4 L50.5,451.1 L53.2,449.6 L57,448.5 L59.7,446.2 L62.2,446.7 L66,445 L69,445.3 L72.3,446.2 L74.4,446.8 L78.2,449.2 L80.1,449.2 L84,450.9 L85.2,450.7 L89.4,451.5 L92.6,450.1 L95.5,450.3 L98.6,449.3 L101.4,448.6 L104.5,448.4 L107,447 L110.2,447.1 L114,446.8 L116.6,445.2 L118.9,445.5 L122.5,443.5 L125.1,443.2 L128,441.9 L131.7,441.9 L134,440 L136.8,440 L140.1,439.3 L139.7,436.1 L139,433.4 L137.3,429 L136.3,426.7 L136,424.6 L136,421.5 L133.9,419.7 L133.8,415.4 L132.7,411.9 L132.4,409.8 L132.1,407.2 L130.9,404.4 L129.7,400.8 L132.4,399.5 L135.4,398.1 L138.2,397.5 L141.4,396.6 L144,395.6 L146,396.7 L150.6,396.9 L152.5,398.9 L155.2,399.8 L158.9,400.5 L161.9,402.5 L164.8,403.4 L166.7,405.3 L170.5,407.2 L172.8,409.5 L175.1,411.7 L178,412.6 L180.6,415.5 L183.4,416.7 L185.6,419 L187.8,422.3 L189.6,424.8 L192.1,426.8 L193.7,429.2 L195.9,431.9 L197,434.6 L199.2,437.4 L201.2,439.8 L201.4,442.5 L200.9,446.5 L201.4,449.6 L202.5,453.3 L201.2,456.4 L201.9,459.5 L200.3,462.6 L201.2,465.8 L199.9,469.8 L197.7,472.4 L197.2,475 L195.9,477.6 L195.3,480.5 L193.9,483.3 L191.9,486.2 L190.8,489.2 L188.5,491.7 L187.3,493.8 L183.7,497 L183.3,500.1 L180.4,502.2 L180.2,505.9 L178.3,508.3 L176.5,511 L177.2,513.6 L175,516.7 L175.2,520.4 L171.9,521 L169.6,521.1 L164.1,519.3 L161.4,520.9 L157.1,520.2 L154.4,520.4 L153.2,517.3 L152.3,514.4 L151.8,511.1 L150.6,508.9 L149.2,504.8 L145.3,503.4 L142.6,504 L138.8,502.2 L136.3,504.4 L133.5,505.9 L130.7,507.4 L128.6,508.9 L126.5,510.9 L122.9,512.4 L119.8,514.1 L118,515.2 L116.5,514.6 L112.5,513.5 L109.8,512.4 L106.8,511.7 L103.4,511 L100.7,509.2 L98.9,509.3 L94.1,508.9 L92,507.4 L89.9,505.4 L88.1,502.7 L84.2,501 L83.6,499.4 L81,496.6 L79.4,494.5 L76.9,492.6 L74.4,491.1 L72.3,488.2 L70.5,485.7 L68.8,484.4 L67.1,482.1 L64,480.1 L61.4,477.5 L60.2,475.6 L57.2,472.5 L55.6,471 L54.8,467.8 L51.4,464.4 L50.5,462.5 L48.7,459.5 L47.1,456.1Z" fill="rgb(233, 212, 200)" stroke="#fff" stroke-opacity="0.7" stroke-width="0.8"/>
<path d="M201.2,380 L205,379.9 L207.9,379.9 L210.6,380.4 L213.8,380.1 L217,380 L220.4,380.6 L223.9,380.1 L227.9,378.6 L229.8,378.7 L233.6,380.2 L237.1,380.2 L240,380 L239.6,384 L240.2,386 L239.5,389.4 L239.8,392 L240.1,395.4 L239.6,399 L239.5,400.9 L240.2,404.5 L240,407.3 L240,410.3 L239.2,414 L239.5,416.6 L240.4,419.8 L241.4,422.1 L239.6,425.9 L240.7,428.8 L239.3,432.6 L239.5,435 L240.4,437.8 L239.8,441.4 L239.9,444.4 L239.5,447.2 L239.5,449.6 L240.9,453.6 L240.5,456 L240,459.4 L239.3,462.9 L239.6,465.5 L239.2,469.2 L240.4,472 L239.5,474.6 L240.6,477.7 L240.1,481 L240,484 L236.4,484.8 L232.9,484.1 L230.8,483.2 L227.9,484.3 L224.8,483.6 L221.9,484.6 L218.7,484.9 L216,484.4 L213.2,483.7 L209.2,484.3 L206.4,484 L204.6,482.2 L202.8,478.9 L200.3,476.1 L197.9,473.4 L196,471 L197.1,467.5 L197.1,464.6 L197.7,461.1 L197.5,458.2 L199.1,454.9 L200.1,450.6 L201.8,448.4 L201.2,445 L200.7,440.9 L200.2,438.7 L199.1,435.4 L199.3,431.9 L197.6,429.5 L197.5,425.5 L197.9,422.4 L196,419 L196.4,416.2 L196.7,413.2 L197.3,409.7 L197.5,407.2 L198.3,404.4 L198.9,401.2 L199.1,397.9 L199.1,395.6 L198.7,392.2 L201.6,388.1 L201.2,385.2 L201,383.9Z" fill="rgb(233, 212, 200)" stroke="#fff" stroke-opacity="0.7" stroke-width="0.8"/>
<path d="M212.3,206.8 L212.5,204.8 L214.1,203.3 L216.4,202.6 L219.6,202.9 L222.3,203.9 L224.6,205.6 L225.8,207.6 L225.8,209.6 L225,211.5 L223.5,213 L221.6,213.8 L219.6,213.8 L217.4,212.9 L215,211.2 L213.3,209.1Z" fill="rgb(233, 212, 200)" stroke="#fff" stroke-opacity="0.7" stroke-width="0.8"/>
<path d="M216.4,222.9 L217,220.7 L218.5,219 L220.6,218.2 L223.2,218.5 L225.6,219.6 L227.7,221.5 L228.9,223.7 L229.2,226 L228.5,228.1 L227,229.8 L225,230.7 L222.7,230.7 L220.4,229.7 L218.3,227.8 L217,225.5Z" fill="rgb(233, 212, 200)" stroke="#fff" stroke-opacity="0.7" stroke-width="0.8"/>
<path d="M254.9,245 L255.3,242.8 L256.3,241.1 L257.5,240.3 L259.1,240.6 L260.4,241.8 L261.6,243.9 L262.2,246.3 L262.2,248.9 L261.7,251.1 L260.7,252.8 L259.6,253.6 L258.3,253.3 L257.1,252.1 L255.9,250 L255.2,247.6Z" fill="rgb(233, 212, 200)" stroke="#fff" stroke-opacity="0.7" stroke-width="0.8"/>
<path d="M270,281.4 L273.9,281 L275.6,280.7 L279.8,281.2 L282.5,281.6 L285.6,281.4 L285.8,285.2 L285.7,287.6 L285.6,291.8 L288.3,293.1 L290.1,296.7 L291.4,299.4 L293.4,302.2 L293.9,305.5 L294.6,308.2 L295.8,311.7 L296,315.2 L294.1,317.7 L290.5,320.6 L288.7,322.6 L285.6,325.6 L282,325.5 L278.2,323.5 L275.2,323 L274.4,319.4 L272.3,316.1 L272.8,314.2 L272,311.1 L270.3,308.2 L270,304.8 L270.6,301.1 L270.5,297.9 L270.1,295 L269.3,292.2 L269.6,288.1 L269.8,285Z" fill="rgb(233, 212, 200)" stroke="#fff" stroke-opacity="0.7" stroke-width="0.8"/>
<path d="M307.5,300.6 L308.2,297.9 L310.1,295.6 L312.7,294.4 L315.8,294.4 L318.6,295.6 L320.9,297.9 L322.1,300.6 L322.1,303.8 L321.1,306.5 L319.2,308.8 L316.9,310 L314.3,310 L311.8,308.8 L309.5,306.5 L308,303.8Z" fill="rgb(233, 212, 200)" stroke="#fff" stroke-opacity="0.7" stroke-width="0.8"/>
<path d="M246.6,726.4 L250.2,725.3 L254,724.3 L256.4,721.6 L259.7,721.8 L262.8,720.4 L266.5,719.7 L268.8,717.6 L271.5,715 L272.2,711.9 L273.8,709.4 L276.5,706.4 L280,704.5 L283.1,703 L286.2,702.1 L289.8,699.8 L293,696.9 L293.1,693.1 L296.5,692.3 L298.7,692.3 L301.5,690.5 L304.5,689.6 L307.4,688.7 L309.6,687.4 L313.1,686.5 L316.7,684.8 L318.5,684.8 L321.9,683.5 L323.4,681.8 L326.8,679.8 L330.5,679.9 L333.1,678.1 L334.6,680.1 L337.3,683.1 L339.1,686.8 L342.3,687.9 L343.9,691.8 L346.4,693.1 L346.8,695.8 L345.1,699.7 L343.6,701.7 L344.1,704.6 L342.5,707.2 L341.6,711.2 L340.8,713.1 L340.1,717.6 L339.7,719.7 L339.5,722.5 L339.3,726.1 L339,728 L338.8,731.9 L338.9,734.4 L338.7,737.9 L337.1,741.9 L337.4,744.5 L337.3,747.9 L337.7,751 L337.3,752.7 L335.8,756.7 L336.4,759.7 L333.5,762.3 L331.7,763.7 L328.8,766.2 L326.5,769.1 L324.9,772.2 L321.7,773.6 L319.8,776.3 L318.9,780.1 L316.6,781.8 L314.3,786.4 L313.1,789.6 L309.5,791.1 L306.5,790.7 L302.6,790.5 L299.4,791.2 L296.3,792.1 L293.2,792.9 L289.8,792.9 L286.6,794.7 L284.9,797.1 L282.2,798.1 L279.8,799.6 L277.4,802.5 L276,804.6 L273.6,807.6 L272.2,809.7 L269.9,812.9 L267,813.8 L264.2,815.8 L259.9,816.2 L259.7,812.6 L261.1,809.9 L260.2,806 L259.8,803.3 L260.2,799.1 L260.5,796.4 L259.9,792.9 L260.1,790.1 L261.1,786.7 L261.6,783.1 L261.7,779.8 L263.2,776.3 L262,773.1 L261,769.6 L262.1,766.6 L261.9,762.4 L261.6,760.5 L259.8,755.9 L259.9,753 L258.3,749.7 L257.3,745.1 L256.2,742.9 L254,740.2 L253.2,736.4 L250.8,733.6 L249.1,729.6Z" fill="rgb(233, 212, 200)" stroke="#fff" stroke-opacity="0.7" stroke-width="0.8"/>
<path d="M213.3,697.1 L214.3,695.4 L216.3,693.9 L218.6,693.1 L221.3,693.1 L223.6,693.9 L225.6,695.4 L226.6,697.1 L226.6,699.1 L225.6,700.9 L223.6,702.4 L221.3,703.1 L218.6,703.1 L216.3,702.4 L214.3,700.9 L213.3,699.1Z" fill="rgb(233, 212, 200)" stroke="#fff" stroke-opacity="0.7" stroke-width="0.8"/>
<path d="M246.6,765 L247.6,762.7 L249.6,760.7 L251.9,759.7 L254.6,759.7 L256.9,760.7 L258.9,762.7 L259.9,765 L259.9,767.7 L258.9,770 L256.9,772 L254.6,773 L251.9,773 L249.6,772 L247.6,770 L246.6,767.7Z" fill="rgb(233, 212, 200)" stroke="#fff" stroke-opacity="0.7" stroke-width="0.8"/>
<path d="M259.9,798.3 L260.4,795.9 L261.4,793.9 L262.5,792.9 L263.9,792.9 L265,793.9 L266,795.9 L266.5,798.3 L266.5,800.9 L266,803.3 L265,805.3 L263.9,806.3 L262.5,806.3 L261.4,805.3 L260.4,803.3 L259.9,800.9Z" fill="rgb(233, 212, 200)" stroke="#fff" stroke-opacity="0.7" stroke-width="0.8"/>
<path d="M610.6,346 L611.5,344.7 L613.4,343.6 L615.6,342.9 L618.1,342.7 L620.3,343.1 L622.2,344.1 L623.1,345.2 L623.1,346.7 L622.2,348 L620.3,349.1 L618.1,349.8 L615.6,350 L613.4,349.6 L611.5,348.6 L610.6,347.5Z" fill="rgb(233, 212, 200)" stroke="#fff" stroke-opacity="0.7" stroke-width="0.8"/>
<path d="M663,337.7 L662.9,336.1 L663.8,334.3 L665.5,332.9 L668,331.9 L670.6,331.4 L673.2,331.4 L675,331.9 L676,332.9 L676,334.3 L675.1,336.1 L673.5,337.7 L671.3,339.2 L668.8,339.9 L666.2,339.9 L664.3,339.2Z" fill="rgb(233, 212, 200)" stroke="#fff" stroke-opacity="0.7" stroke-width="0.8"/>
<path d="M696.7,325.3 L697.3,322.8 L698.9,320.3 L700.9,318.7 L703.4,317.8 L705.7,318.2 L707.7,319.8 L708.9,322 L709.1,324.9 L708.5,327.6 L706.9,330.1 L705,331.5 L702.6,332 L700.5,331.4 L698.4,329.8 L697.2,327.8Z" fill="rgb(233, 212, 200)" stroke="#fff" stroke-opacity="0.7" stroke-width="0.8"/>
<path d="M630.1,399 L630.7,396.7 L632.3,394.6 L634.3,393.3 L636.8,393 L638.9,393.7 L640.6,395.4 L641.3,397.6 L641.1,400.3 L640.2,402.7 L638.6,404.8 L636.9,406 L635.1,406.1 L633.3,405.4 L631.6,403.6 L630.6,401.5Z" fill="rgb(233, 212, 200)" stroke="#fff" stroke-opacity="0.7" stroke-width="0.8"/>
<path d="M160,566.7 L163.9,567.1 L166.4,565.9 L169.7,567 L173.2,567.6 L176.8,566.8 L180,566.7 L181,569.4 L181.6,572.7 L181.3,575.3 L183.7,579.1 L184.1,581.8 L184.7,586.1 L185.9,588.6 L187.4,591.9 L187.3,595.7 L188.3,598.3 L188.3,601.7 L189.6,604.2 L190.7,607.8 L192,611 L193,614.7 L194.7,617.5 L195.1,620.1 L195.1,623.8 L196.6,626.6 L196.2,630.4 L194.8,634.6 L194.7,636.6 L194.9,639.9 L194.6,642.5 L193,645.5 L191.7,648.9 L191.6,653.2 L194.3,655.3 L196.8,657.8 L200.3,659.2 L202.1,661.1 L204.9,663.2 L203.4,667.2 L202.5,669.7 L201,673.4 L199.9,676.5 L196.4,676.7 L193.2,677.2 L190.5,675.8 L186.5,676.9 L183.3,676.5 L182.3,674 L181.9,670.9 L180.9,667.8 L180.4,664 L178.9,661.3 L179.5,659 L178,656 L176.8,652.6 L176.7,649.9 L176.3,647.2 L174.7,644.1 L173.9,641.3 L173.9,639.5 L171.8,635.5 L171.9,632 L170.5,629.3 L170,626.6 L168.3,623.9 L169,620.6 L168.5,617.7 L169.2,614.7 L167.9,611.4 L167.2,608.5 L166.4,605.2 L165.6,602.9 L165.9,599.9 L164.7,596.8 L163.2,594.1 L164,590.8 L164.1,587.5 L163.5,584.5 L162.8,581.5 L162.2,579.4 L161.2,575.4 L160.8,572.9 L161.9,569.4Z" fill="rgb(233, 212, 200)" stroke="#fff" stroke-opacity="0.7" stroke-width="0.8"/>
<path d="M246.9,370 L249.3,369.2 L252.9,368.7 L257.1,368 L260.1,367 L263.8,367.4 L265.2,370.3 L267,374.4 L267.4,377 L269.1,380.4 L268.5,384 L266.9,386.9 L268,390.1 L266.4,393.4 L263.1,395.2 L258.9,397.4 L256,398.6 L254.2,396.1 L252.5,393.8 L249.2,391.1 L248.2,388.2 L247.7,385.3 L247.4,381.7 L248,379.1 L247.2,375.9 L247.2,373Z" fill="rgb(218, 218, 218)" stroke="#fff" stroke-opacity="0.7" stroke-width="0.8"/>
<path d="M239,365 L241.1,363.3 L245.4,362.8 L249.5,360.7 L252,359.8 L256.3,360.5 L258.8,360.9 L261.5,362.5 L265,362.4 L266,365.5 L267.7,369.5 L267.4,371.7 L269.2,375.8 L270.2,378 L271,381.1 L269.4,384.7 L269.3,387.2 L268.6,390.2 L267.6,393.6 L265.3,396.1 L265.7,400.3 L263.4,402.1 L263.5,404.4 L262.4,409.2 L259.3,410.6 L254,411.4 L252,411.8 L249.4,410.6 L247,407.8 L244.3,406.5 L241.6,404 L242.3,401 L242,398.1 L243.2,395.6 L243.7,391.5 L244.2,388.4 L242.2,385.4 L240.7,381.2 L239,378 L239.9,375.7 L238.8,371.1 L239.6,367.9Z" fill="rgb(218, 218, 218)" stroke="#fff" stroke-opacity="0.7" stroke-width="0.8"/>
<path d="M241.1,420.6 L241.7,417.9 L244.1,415.6 L247.3,414.4 L251.5,414.4 L255.1,415.6 L258.2,417.9 L259.8,420.6 L259.8,423.8 L258.6,426.5 L256.3,428.8 L253.6,430 L250.4,430 L247.3,428.8 L244.2,426.5 L242.1,423.8Z" fill="rgb(218, 218, 218)" stroke="#fff" stroke-opacity="0.7" stroke-width="0.8"/>
<path d="M311.8,404 L316.5,404 L318.9,403.4 L321.6,404.6 L324.8,404 L325.6,406.9 L327.1,410.7 L326.3,413.1 L326.8,417.2 L327.4,419.6 L326.2,422.7 L325.3,426.4 L324.8,429.2 L324.3,431.5 L323.5,435.3 L322.2,437.8 L318.2,437.4 L317.1,436 L311.8,435.2 L312.2,431.5 L312.1,428.7 L312.3,425.9 L311.3,423.4 L311.8,419.2 L311.9,416.1 L312.1,413.4 L311.7,410.7 L311.2,407.7Z" fill="rgb(218, 218, 218)" stroke="#fff" stroke-opacity="0.7" stroke-width="0.8"/>
<path d="M345.6,422.2 L348,423.1 L352.5,422.1 L355.4,422.6 L359,422.2 L363,422.1 L365.7,422.5 L369.1,422.2 L369.3,425.5 L368.5,429 L368.4,433.1 L367.2,435.6 L367.2,439.3 L367.6,442.3 L366.4,445.6 L364,448.9 L360.6,450.5 L358.4,453.5 L356,456 L353.6,453.2 L351.8,450.5 L348.2,448.8 L345.6,445.6 L346.1,442.3 L345.9,439.4 L345.7,436 L345.2,432.3 L344.8,428.5 L345.1,426.2Z" fill="rgb(218, 218, 218)" stroke="#fff" stroke-opacity="0.7" stroke-width="0.8"/>
<path d="M200,311.4 L200.6,306.4 L201.8,302.1 L203.1,300 L204.7,300 L206,302.1 L207.2,306.4 L207.8,311.4 L207.8,317.2 L207.2,322.2 L206,326.5 L204.7,328.6 L203.1,328.6 L201.8,326.5 L200.6,322.2 L200,317.2Z" fill="rgb(218, 218, 218)" stroke="#fff" stroke-opacity="0.7" stroke-width="0.8"/>
<path d="M232,632.3 L233.9,629.1 L237.9,626.4 L242.4,625 L247.6,625 L252.1,626.4 L256.1,629.1 L258,632.3 L258,635.9 L256.1,639.1 L252.1,641.8 L247.6,643.2 L242.4,643.2 L237.9,641.8 L233.9,639.1 L232,635.9Z" fill="rgb(218, 218, 218)" stroke="#fff" stroke-opacity="0.7" stroke-width="0.8"/>
<path d="M123.2,410.7 L124.8,407.5 L127.9,404.8 L131.5,403.4 L135.7,403.4 L139.3,404.8 L142.4,407.5 L144,410.7 L144,414.3 L142.4,417.5 L139.3,420.2 L135.7,421.6 L131.5,421.6 L127.9,420.2 L124.8,417.5 L123.2,414.3Z" fill="rgb(218, 218, 218)" stroke="#fff" stroke-opacity="0.7" stroke-width="0.8"/>
<path d="M146.6,435.6 L148,432.9 L150.7,430.6 L153.9,429.4 L157.5,429.4 L160.7,430.6 L163.4,432.9 L164.8,435.6 L164.8,438.8 L163.4,441.5 L160.7,443.8 L157.5,445 L153.9,445 L150.7,443.8 L148,441.5 L146.6,438.8Z" fill="rgb(218, 218, 218)" stroke="#fff" stroke-opacity="0.7" stroke-width="0.8"/>
<path d="M118,447.1 L120,443.9 L123.8,441.2 L128.4,439.8 L133.6,439.8 L138.1,441.2 L142.1,443.9 L144,447.1 L144,450.7 L142.1,453.9 L138.1,456.6 L133.6,458 L128.4,458 L123.8,456.6 L120,453.9 L118,450.7Z" fill="rgb(218, 218, 218)" stroke="#fff" stroke-opacity="0.7" stroke-width="0.8"/>
<path d="M115.4,481.4 L117.4,476.9 L121.2,472.9 L125.8,471 L131,471 L135.6,472.9 L139.4,476.9 L141.4,481.4 L141.4,486.6 L139.4,491.1 L135.6,495.1 L131,497 L125.8,497 L121.2,495.1 L117.4,491.1 L115.4,486.6Z" fill="rgb(218, 218, 218)" stroke="#fff" stroke-opacity="0.7" stroke-width="0.8"/>
<path d="M149.2,444 L151.9,442.1 L157.4,440.6 L160.4,440.4 L163.8,439.8 L167,439.8 L171,439.8 L174.2,439.8 L177.4,440.6 L182.9,442.1 L185.6,444 L185.6,446 L182.9,447.9 L177.4,449.4 L174.7,449 L171,450.2 L167.8,451.6 L163.8,450.2 L160.2,449.9 L157.4,449.4 L151.9,447.9 L149.2,446Z" fill="rgb(218, 218, 218)" stroke="#fff" stroke-opacity="0.7" stroke-width="0.8"/>
<path d="M339.2,548.6 L340,545.9 L341.9,543.6 L344.4,542.4 L347.6,542.4 L350.3,543.6 L352.6,545.9 L353.8,548.6 L353.8,551.8 L352.8,554.5 L350.9,556.8 L348.6,558 L346,558 L343.5,556.8 L341.2,554.5 L339.8,551.8Z" fill="rgb(218, 218, 218)" stroke="#fff" stroke-opacity="0.7" stroke-width="0.8"/>
<path d="M270.5,756 L271.8,752.4 L274.5,749.1 L277.9,747.4 L281.8,747 L285.4,748.3 L288.7,751 L290.5,754.4 L290.8,758.3 L289.6,761.9 L286.9,765.2 L283.5,767 L279.5,767.3 L275.9,766.1 L272.6,763.4 L270.9,760Z" fill="rgb(218, 218, 218)" stroke="#fff" stroke-opacity="0.7" stroke-width="0.8"/>
<path d="M276.5,708.4 L278.2,706.1 L281.7,704.1 L285.8,703.1 L290.5,703.1 L294.6,704.1 L298.1,706.1 L299.8,708.4 L299.8,711.1 L298.1,713.4 L294.6,715.4 L290.5,716.4 L285.8,716.4 L281.7,715.4 L278.2,713.4 L276.5,711.1Z" fill="rgb(218, 218, 218)" stroke="#fff" stroke-opacity="0.7" stroke-width="0.8"/>
<path d="M267.4,483.8 L267.7,480.7 L268.7,477.9 L270.3,473.6 L271,470.6 L272.6,468.2 L275.6,467.6 L278.7,465.6 L281.6,465.2 L283.9,464.4 L288.2,463 L291,460.2 L294,459.1 L295.9,458.9 L297.8,455.8 L301.2,455.2 L304.2,455.5 L308.2,456.7 L311.7,457.8 L311.9,461 L312.5,464.3 L313.2,468.2 L312.9,472.6 L313.2,475.5 L314.3,478.6 L309.1,481.2 L305.5,482.1 L302.8,483 L300,482.7 L296,483.8 L293.6,484.9 L287.8,484.9 L284.3,486.4 L280.4,487.7 L278.2,487.3 L273.5,485.5 L270,483.8Z" fill="rgb(205, 152, 128)" stroke="#fff" stroke-opacity="0.7" stroke-width="0.8"/>
<path d="M316.9,481.2 L321.1,480.4 L323.7,479.5 L327.3,478.6 L331.2,480.4 L333.6,482.5 L337.7,483.8 L336.9,486.5 L338.4,490 L337.9,493 L338.3,495.9 L336.7,499.1 L337.7,502 L332.7,502.3 L331.6,505.2 L327.3,505.9 L324.5,503.9 L322.1,502 L321.7,499.5 L320.9,495.5 L320.5,493 L320.5,489.7 L320.4,486.3 L319.5,483.8Z" fill="rgb(205, 152, 128)" stroke="#fff" stroke-opacity="0.7" stroke-width="0.8"/>
<path d="M288.2,525.4 L291.7,525.9 L294.7,527.8 L298.6,528 L302,527.5 L305.7,527.5 L309.1,528 L312.5,528.5 L315.7,527.5 L318.2,529 L321.2,528.7 L325.1,527.3 L327.3,528 L328,531.8 L327.8,535.6 L327.6,538.1 L327.7,541.2 L327.6,543.7 L328.2,547.8 L327.3,551.4 L324.5,551.6 L321.2,551.5 L318,550.6 L314.6,552 L311.7,551.4 L308.1,550.4 L306.5,551 L303.1,549.9 L299.3,549.7 L296,548.8 L293.7,546.8 L290.1,544.6 L287.5,543.8 L285.6,541 L283.5,537.7 L281.7,534.5 L285.6,530.6Z" fill="rgb(205, 152, 128)" stroke="#fff" stroke-opacity="0.7" stroke-width="0.8"/>
<path d="M246.6,574.8 L250.7,573.5 L254.4,572.2 L257.3,574.5 L258.9,578.3 L262.2,580 L264.9,578.9 L267.9,578 L271.3,577.4 L271.1,580.8 L270.4,583.6 L270.3,587.1 L269.8,589.6 L270.6,591.9 L270,595.6 L266.6,597.4 L262.7,599 L259.6,600.8 L256.9,600.3 L252.9,599.4 L250.1,599.5 L246.6,598.2 L246.4,595.3 L246.1,590.9 L243.9,587.3 L244,585.2 L245.3,580.6 L245.7,578.7Z" fill="rgb(205, 152, 128)" stroke="#fff" stroke-opacity="0.7" stroke-width="0.8"/>
<path d="M197.2,603.4 L200,601.3 L204,600.3 L207.6,598.2 L210.3,599.2 L214.9,600 L218,600.8 L218.6,604.6 L219.2,607 L219.4,610.5 L219.9,613.6 L220.6,616.4 L220,620.2 L218.9,623 L218.8,626.4 L218,629.5 L215.1,631.4 L211.5,634 L207.6,634.7 L204.6,632.4 L200,631.6 L197.2,629.5 L194.6,624.3 L197.2,619.1 L196.4,615.3 L195.9,611.2 L196.5,608Z" fill="rgb(205, 152, 128)" stroke="#fff" stroke-opacity="0.7" stroke-width="0.8"/>
<path d="M166,543.6 L171.2,543.6 L172.2,546.5 L172.2,550.4 L172.5,554 L172.5,557.6 L173.7,560.7 L175.7,564.4 L175.1,567 L177.6,570.7 L179,574.8 L174.9,574.6 L171.9,573.1 L168.6,572.2 L167.1,569 L167.2,565.5 L164.6,562.6 L163.4,559.2 L162.7,555.1 L160.8,552 L160.8,548.8 L163.3,545.8Z" fill="rgb(205, 152, 128)" stroke="#fff" stroke-opacity="0.7" stroke-width="0.8"/>
<path d="M55.6,416.4 L57.7,414.2 L60.6,412.9 L63.4,411.2 L65.7,411.2 L69.8,411.6 L72.1,411.8 L75.9,412.6 L79,412.5 L81.3,412.6 L85,412.1 L88.7,411.3 L91.1,411.4 L94.6,411.2 L98.4,410 L100.8,409.1 L105,408.6 L108.6,407.9 L111.7,405.8 L115.4,404.7 L118.9,403.6 L122.1,402.5 L126.2,401.8 L129.7,400.8 L130.1,403.7 L130.3,407.4 L131,411.2 L131.8,415.2 L131.8,418.5 L131.8,420.8 L132.3,424.2 L133.4,426.9 L135.5,429.4 L137.5,432 L139,435.5 L140.1,439.3 L136.6,440 L134.2,440.8 L131.6,441.5 L128.4,442.4 L124.8,444.1 L122,444.1 L118,445 L113.6,445.8 L110.2,447.1 L106.5,448 L102.4,448.1 L100.3,448.8 L96,449.6 L92.7,450.5 L89.4,451.5 L85.6,451.5 L83,451.2 L79.4,450.3 L76.4,449.7 L73.3,447.4 L68.8,447.3 L66,445.5 L63.4,442.7 L60.4,441.2 L58.2,439.8 L56,438 L54,435.6 L52.2,431.6 L50.4,429.4 L52.5,426.6 L53.7,423.9 L54.8,420.3Z" fill="rgb(205, 152, 128)" stroke="#fff" stroke-opacity="0.7" stroke-width="0.8"/>
<path d="M264.7,430.8 L264.9,427.6 L265.6,424.9 L266.8,423.5 L268.4,423.5 L269.8,424.8 L271.2,427.3 L272,430.3 L272.3,433.6 L272,436.7 L271.2,439.4 L270.2,440.9 L268.9,441.2 L267.6,440 L266.2,437.5 L265.3,434.4Z" fill="rgb(205, 152, 128)" stroke="#fff" stroke-opacity="0.7" stroke-width="0.8"/>
<path d="M222.1,445.6 L225.2,444.8 L230.1,444.8 L233.8,444.3 L235,448 L236.1,453.1 L236.4,456 L232.8,458.4 L228.6,459.9 L226.7,458.2 L224.4,455.3 L222.1,453.4 L222.2,449.6Z" fill="rgb(205, 152, 128)" stroke="#fff" stroke-opacity="0.7" stroke-width="0.8"/>
<path d="M267.6,471.7 L269.5,469.9 L272.8,467.9 L275.2,466 L278,463.8 L281.6,462.8 L284.7,462.9 L288.1,461.4 L291,461.2 L293.1,458.6 L295.7,457.3 L298.8,453.4 L301.7,453 L305.6,453.2 L307.4,453.3 L311.8,453.4 L312,456.4 L312.3,459.4 L313.7,463.1 L314.4,466.4 L313.3,469.2 L312.9,472.7 L312.7,475.2 L312.6,478.6 L311.8,482.1 L308.7,481.6 L305.4,482 L302.1,482.3 L298.8,482.1 L295.5,482.2 L291.9,481.4 L288.3,481 L283.8,481.9 L281.3,482.8 L278,482.1 L274.8,481.8 L270.9,480.6 L267.6,479.5 L268.1,475.8Z" fill="rgb(205, 152, 128)" stroke="#fff" stroke-opacity="0.7" stroke-width="0.8"/>
<path d="M224.2,451.2 L224.1,448.5 L224.8,446.2 L226.3,445 L228.3,445 L230.6,446 L232.9,447.9 L234.6,450.2 L235.6,452.8 L235.8,455.3 L235,457.6 L233.5,459 L231.5,459.6 L229.2,458.8 L226.9,456.9 L225.2,454.4Z" fill="rgb(205, 152, 128)" stroke="#fff" stroke-opacity="0.7" stroke-width="0.8"/>
<path d="M155.6,520.2 L159.2,518.9 L162.1,517.1 L166,516.3 L168.5,517.1 L172.5,517.6 L173.6,521.1 L175.1,525.4 L172,527.7 L168.6,530.6 L166.5,533.5 L163.4,534.5 L161.7,538 L159.5,542.3 L157.4,540 L156.9,535.8 L156.9,532.1 L156.9,528.7 L155.9,526.3 L155.7,522.7Z" fill="rgb(190, 105, 65)" stroke="#fff" stroke-opacity="0.7" stroke-width="0.8"/>
<path d="M284.3,486.4 L289.4,485.3 L292.3,484.7 L296,483.8 L298.5,482.9 L302.6,483 L305.6,482 L309.1,481.2 L312.4,482.3 L314.8,483.2 L319.5,483.8 L319.6,486.5 L318.9,489.3 L321.1,494 L320.9,495.6 L321.9,499.1 L322.1,502 L324.4,503.9 L327.3,505.9 L327.1,509.4 L327.7,513.1 L327.8,515.7 L327.4,519 L326.8,522.8 L327.4,525.5 L327.3,528 L323.4,529.4 L320.6,529.6 L316.9,530.6 L312.7,528.9 L309.1,528 L306.5,528.6 L302.2,528.1 L298.6,528 L294.8,526.2 L290.8,526 L288.2,525.4 L287.3,521.8 L286.9,519.6 L285.6,516.3 L282.2,515 L278.6,515.4 L275.2,515 L272.6,511.1 L275.2,505.9 L278.5,504.2 L283,504.6 L284.6,501.7 L284.3,498.1 L284.1,495 L284.9,490.5Z" fill="rgb(190, 105, 65)" stroke="#fff" stroke-opacity="0.7" stroke-width="0.8"/>
<path d="M255.7,568.3 L258,566.5 L260.8,564 L262.2,561.8 L266,560.8 L270,559.2 L272.6,564.4 L270.9,567.7 L271.7,570.9 L271.5,574.3 L271.3,577.4 L268.3,578.3 L265.2,579.4 L262.2,580 L259.3,577.9 L256.2,574.9 L254.4,572.2Z" fill="rgb(190, 105, 65)" stroke="#fff" stroke-opacity="0.7" stroke-width="0.8"/>
<path d="M186.2,492.9 L189.6,489.1 L192.5,486.6 L195.7,486 L199.2,483.6 L201.1,482.9 L206,481.4 L209.7,483.3 L213.3,484.6 L212.2,487.7 L211.2,490.3 L208.1,492.9 L207.8,496.4 L207.3,500.5 L207,504.3 L203.9,502.2 L199.8,500.2 L196.8,500.5 L192.6,500 L190.3,499.7 L186.2,500.2 L186.6,497.4Z" fill="rgb(205, 152, 128)" stroke="#fff" stroke-opacity="0.7" stroke-width="0.8"/>
<path d="M213.3,485.6 L217.8,486 L221.6,486.1 L225.9,486.4 L228.9,486.2 L233.1,486.8 L236.2,486.6 L238,489.6 L238.3,492.9 L236.2,497 L234.5,501 L233.1,505.4 L230.1,505.3 L226.8,505.9 L224.2,506.6 L220.1,505.5 L217.5,507.5 L212.9,510.8 L210.2,512.7 L208.6,509.1 L207,505.4 L207.1,502.5 L206.6,498.1 L207,496.1 L208.1,492.9 L210.5,490.5 L212.2,487.7Z" fill="rgb(190, 105, 65)" stroke="#fff" stroke-opacity="0.7" stroke-width="0.8"/>
<path d="M159.5,542.3 L161.4,537.8 L163.4,534.5 L166.8,532.2 L169.5,530.1 L172.5,528 L173.1,524.6 L173.9,521.3 L175.1,518.9 L174.9,515.6 L175,511.5 L174.7,509.1 L173.8,505.9 L176.6,504.5 L179.2,503.2 L183,502.9 L185.5,502 L188.9,502 L191.3,501 L194.6,500.7 L197.5,501.6 L200.7,501.6 L203.7,502 L205.4,505.4 L207.3,508.5 L207.6,512.4 L211.7,511.8 L214,510.2 L218,508.5 L221.1,508.1 L223.2,506.9 L226.3,505.8 L229.7,505.1 L232.4,502.2 L233.6,499.4 L237.5,495.5 L239.4,493.9 L243,494.3 L246.6,492.9 L248.9,490.2 L251.8,489 L253.7,485.2 L254.4,481.2 L258.5,479.5 L262.2,478.6 L266.2,478.5 L268.7,478.6 L270,483.8 L272.5,484.5 L276.5,486.3 L280.4,487.7 L283,492.9 L284.3,498.1 L284,501 L283,504.6 L278.8,506.4 L275.2,505.9 L272.6,511.1 L275.2,515 L278.7,515.2 L282.1,515.2 L285.6,516.3 L286.7,519.8 L287,522.9 L288.2,525.4 L285.6,530.6 L281.7,534.5 L277.8,538.4 L276.8,542 L275.7,544.9 L275.2,548.8 L272.7,551.5 L271.6,553.9 L270,556.6 L266.2,558.6 L263.6,561.8 L261.2,565.2 L259.6,567.7 L257.4,571.2 L254.4,575.2 L251.1,577.5 L247.3,580.1 L243.3,580.6 L240.4,583.6 L237.1,585.3 L232.9,586.6 L229.3,586.8 L226.2,591.5 L221.5,594.6 L217.8,596.3 L215.3,597.7 L212,598.3 L209,600.9 L205.7,603 L204,604.6 L201.2,605.5 L198.2,606.4 L195,610.2 L195.5,613.8 L195.7,618 L194.3,621.3 L193.4,625 L191.5,621.8 L190.3,619.6 L189.9,616.7 L187.9,613.1 L187.2,610.2 L186.1,606.5 L184,602.4 L183.3,598.7 L182.5,596.2 L181.5,591.7 L180.9,588.4 L179.4,585.7 L179.7,581.9 L179.4,579 L178.4,576.3 L179.4,573.1 L177.8,569.7 L177.2,565.9 L175.8,563.5 L175.4,560.3 L173.1,557.1 L172.5,554 L171.8,551.3 L172,547.2 L171.2,543.6 L166,543.6 L162.8,543.4Z" fill="rgb(140, 52, 2)" stroke="#fff" stroke-opacity="0.7" stroke-width="0.8"/>
<path d="M251.8,491.6 L255,490.3 L257.8,490.5 L262.2,489 L266.3,491.3 L270,492.9 L270.9,496.8 L271.2,499.6 L272.6,502 L271.7,505.2 L271.1,509 L271.3,512.4 L269.2,515.2 L267.4,517.6 L268,520.4 L269.4,525.2 L270,528 L269.9,531.4 L269.3,534.1 L268.7,538.4 L264.6,540.9 L260.9,542.3 L257.9,540.6 L254.4,539.7 L254,536.6 L253,532.9 L251.8,530.6 L251.1,527.3 L251.1,523.9 L250.5,520.2 L251.8,517.1 L253.3,514.6 L254.4,511.1 L252.8,507.9 L252.6,505.1 L251.8,502 L252.3,497.9 L252.1,494.2Z" fill="rgb(190, 105, 65)" stroke="#fff" stroke-opacity="0.7" stroke-width="0.8"/>
<path d="M276.8,537.4 L279.6,535.9 L283.1,535 L285.3,531.9 L287.5,529.2 L290.1,526.5 L293.7,525.6 L296.8,526.3 L301.5,527 L304.9,526.5 L308.9,528.1 L309.7,529.6 L312.7,531.1 L316.7,530.1 L319.4,529 L323.6,528 L325.2,530.4 L326.8,534.3 L326.5,538 L326.3,540.6 L327.6,544.3 L328.3,546.3 L328.3,549.9 L325.5,549.9 L322.4,551.3 L317.9,551.2 L314.6,550.6 L311.1,551.4 L308.5,550.7 L305.3,550.1 L302.4,549.1 L298.6,547.8 L295.5,546.8 L292.6,547.3 L289.1,548.8 L286.4,549.3 L282.6,548.8 L279.7,549.2 L276.8,549.9 L275.1,546.7 L273.7,543.6 L275,541.4Z" fill="rgb(205, 152, 128)" stroke="#fff" stroke-opacity="0.7" stroke-width="0.8"/>
<path d="M272.1,503.8 L275.6,502.8 L278.1,502.9 L281.7,501.6 L285,500.6 L287.7,500.7 L286.7,498.6 L284.9,494.7 L285.9,491.9 L284.6,489 L287.7,485.9 L291.6,483.6 L293.8,482.5 L298.2,482.4 L301.4,482.1 L304.9,480.9 L308,481.2 L311,481.6 L314.1,481.8 L317.4,482.8 L317.1,486.2 L319.4,490.2 L320.1,493 L320.5,495.3 L321.8,498.7 L322.8,502 L323.6,506.2 L324.8,509.2 L325.2,513 L326.8,515.5 L326.6,518.9 L325.6,522.6 L324.3,524.2 L323.6,528 L319.5,529.4 L316.4,529.3 L312.7,531.1 L310.8,529.7 L308.3,528.6 L304.9,526.5 L301.6,526.2 L298.3,525.4 L295.4,525.8 L293.1,524.8 L289.3,524.9 L286.5,524.9 L282.9,525.5 L279.9,524.9 L275.8,527.1 L272.1,528 L269.6,525.2 L267.5,523.3 L269.4,519.9 L270,517.8 L272.2,515 L273.7,512.4 L271.9,507.5Z" fill="rgb(190, 105, 65)" stroke="#fff" stroke-opacity="0.7" stroke-width="0.8"/>
<path d="M276.8,523.3 L281,523.6 L284.6,523.3 L286.9,525 L290.1,526.5 L287.7,531.1 L285.5,533.6 L283.1,535 L279.9,538.2 L276,535 L274.9,532.2 L274.5,528Z" fill="rgb(140, 52, 2)" stroke="#fff" stroke-opacity="0.7" stroke-width="0.8"/>
<g fill="none" stroke="#fff" stroke-opacity="0.8" stroke-width="1">
<path d="M267.7,811.4 L267.8,807 L267.2,805.3 L268.1,801.1 L268.3,798.5 L268.8,796.5 L268,792.2"/><path d="M252.5,792.8 L255.6,792.8 L258.2,792.6 L260.3,791.4 L264.3,792.8 L268,792.2"/><path d="M285.8,798 L283.1,794.7"/><path d="M283.1,794.7 L278.8,793.5 L274.5,792.8 L272.9,793.2 L268.5,791.8"/><path d="M268,792.2 L268.5,791.8"/><path d="M294.4,775 L300,775.4 L302.4,775 L306,772.9"/><path d="M300,788.1 L299.2,785.1 L298.2,782 L296.5,779 L294.4,775"/><path d="M203.3,128.7 L202.1,129.9"/><path d="M197.3,127.7 L202.1,129.9"/><path d="M175.7,128.8 L182.3,131 L183.7,132.4"/><path d="M189.4,126.5 L185.8,129.6 L183.7,132.4"/><path d="M250.5,788.8 L252.2,787.5 L252.3,783.3 L255.5,780.1 L256.4,776.4"/><path d="M269.5,780.1 L270.4,782.9 L268.7,787.4 L268.5,791.8"/><path d="M269.5,780.1 L265.5,779 L262.7,776.6 L259,775.3"/><path d="M256.4,776.4 L259,775.3"/><path d="M175.1,160.1 L174.6,160.1"/><path d="M175.1,160.1 L177.8,157 L180.9,155.1 L182.1,153"/><path d="M172.5,144.8 L176.7,145.8 L181.4,146.1"/><path d="M181.4,146.1 L180.3,148 L182.1,153"/><path d="M202.1,129.9 L202,130.4"/><path d="M202,130.4 L203.6,134.7 L204.2,136.7 L205.7,138.7 L208.3,142.3"/><path d="M216.4,131.3 L218,134.1 L217.8,137.5"/><path d="M208.3,142.3 L210.8,142.6 L215.1,136.8 L217.8,137.5"/><path d="M256.4,776.4 L252.7,774.6 L250.7,772.8 L247.8,769.8"/><path d="M247.8,769.8 L242.9,772.1"/><path d="M326.9,752.9 L322.8,751.6 L320.1,752.2 L318.2,750.5 L313.5,749.8 L310.8,747.5 L307.4,747.4 L304.2,746.9"/><path d="M311,765.5 L308.8,762.4 L306.4,759.9 L304.7,757.3 L302.7,755.9 L301.9,752.9"/><path d="M304.2,746.9 L301.9,749.4"/><path d="M301.9,752.9 L301.9,749.4"/><path d="M230.2,198 L230.9,195.1 L232.7,192.1"/><path d="M245.4,205.8 L241.5,204.4 L238.3,202.5 L236,200 L233.7,197.8 L230.2,198"/><path d="M253.4,194.6 L251.3,197.9 L249.8,200.3 L248.3,203.8 L245.4,205.8"/><path d="M253.4,194.6 L252.2,190.8 L248.9,189.4"/><path d="M248.9,189.4 L245.4,188.8 L242.2,187 L239.4,190.8 L237.3,190 L232.7,192.1"/><path d="M195.6,136.9 L191.7,138.2 L189.8,135.3 L185.5,136.3"/><path d="M195.6,136.9 L196.1,140.4 L196.5,144.4 L196.9,148.8"/><path d="M196.9,148.8 L193.3,147.1 L190.1,145.4 L186.7,145.7 L183.3,144.6"/><path d="M185.5,136.3 L184.8,141.6 L183.3,144.6"/><path d="M183.7,132.4 L185.5,136.3"/><path d="M202,130.4 L199.8,134.2 L198.4,135.7 L195.6,136.9"/><path d="M197.3,149.2 L200.2,148.1 L205.9,146.5 L207.8,144.3"/><path d="M208.3,142.3 L207.8,144.3"/><path d="M197.3,149.2 L196.9,148.8"/><path d="M181.4,146.1 L183.3,144.6"/><path d="M247.8,769.8 L247.1,766.7 L249.4,763.6 L249.4,760.4"/><path d="M249.4,760.4 L246.1,760.3 L243.3,757.6 L240,759.2 L236.7,756.4"/><path d="M242.4,727.4 L241.9,723.2 L240.4,720.9 L241.1,719 L235.8,716.4 L237.6,713"/><path d="M242.4,727.4 L240,729.5 L237.6,733.9"/><path d="M237,733.8 L237.6,733.9"/><path d="M237,733.8 L235,733.9 L230.7,729.7 L230.3,726.2 L227.2,725 L226.7,723.9 L223.9,720.6"/><path d="M237.6,713 L233.4,714.4 L230.1,713.3 L227.3,715.4"/><path d="M223.9,720.6 L225.3,718.7 L227.3,715.4"/><path d="M242.6,741.9 L240.1,746 L240.1,749.4 L236.6,750.8 L235.8,754.2"/><path d="M228.8,737.7 L231.5,737.2 L235.1,735.3 L237,733.8"/><path d="M242.6,741.9 L240.6,739.6 L239.5,735.6 L237.6,733.9"/><path d="M220.2,722.1 L223.9,720.6"/><path d="M212.3,707.2 L215.8,705.4 L219,705.5 L222.4,705.2"/><path d="M222.4,705.2 L224,707.9 L227.4,711.6 L227.3,715.4"/><path d="M301.9,752.9 L299.7,753.7 L297.8,758.3 L297.9,762.7 L294.5,762.9 L292.9,765.8 L290.6,768.3 L289.6,770.6"/><path d="M301.9,749.4 L299.5,749.9 L295.6,748.2 L291.6,748.5 L289.5,747.3 L285.4,745.6 L283.3,746.2"/><path d="M283.3,746.2 L280.5,748.8 L278,752.8"/><path d="M278,752.8 L280.7,754 L281.8,757.4 L282.6,760 L287,763.2 L286.9,765 L288.8,768.2 L289.6,770.6"/><path d="M283.1,794.7 L283.2,789.9 L282.9,788.8 L283.9,785 L282,782.1 L285.5,778.4 L285.3,775.4"/><path d="M269.5,780.1 L274,776.9 L276.5,775.1"/><path d="M276.5,775.1 L282.1,774.7 L285.3,775.4"/><path d="M294.4,775 L289.6,772.6"/><path d="M285.3,775.4 L289.6,772.6"/><path d="M289.6,772.6 L289.6,770.6"/><path d="M724.3,301.8 L720.6,305.4"/><path d="M736,323.3 L732.9,322.6 L730.1,321.4 L727.7,319.4 L723.4,318.2 L721.3,315.9"/><path d="M720.6,305.4 L720.5,310.3 L720.9,313.3 L721.3,315.9"/><path d="M711.4,327.4 L713.9,325 L715.1,323.5 L717.5,321.7 L719.7,317.2 L721.3,315.9"/><path d="M692.6,318.4 L694.7,319 L699.9,321 L702.2,322.6 L703.8,324.8 L709.4,325.5 L711.4,327.4"/><path d="M692.6,318.4 L693.9,315.9 L692,312.4 L694.4,309 L695.1,306.3 L696.5,304.2 L696.5,300.7"/><path d="M720.6,305.4 L717.3,303.9 L715.6,301.3 L711.5,301 L707.8,300.9 L705.7,299.3 L702.9,297.8"/><path d="M702.9,297.8 L701.2,298.2 L696.5,300.7"/><path d="M702.9,297.8 L701.1,293.2 L703.4,291.5 L703.9,287.2 L705.5,284.9 L706.8,282.2 L706.1,277.6"/><path d="M696.5,300.7 L693.1,297.5 L691.6,299.6 L688.7,295.7 L683.1,294.6 L682,294"/><path d="M692.6,318.4 L687.9,321"/><path d="M670.6,315.6 L673.1,315.8 L677.1,317.6 L678.2,317.2 L681,319.4 L684.7,320 L687.9,321"/><path d="M670.6,315.6 L669.4,311.3 L667.7,307.7"/><path d="M667.7,307.7 L670.7,304.6 L671.9,304.3 L674.7,302 L679.1,297.5 L680.1,296.9 L682,294"/><path d="M682,294 L681.1,291.2 L681,288.5 L679.6,286.4 L679,281.1 L678,278.4"/><path d="M667.7,307.7 L664,305.5 L662.2,305.1"/><path d="M662.2,305.1 L661.4,302.8 L659,297.6 L658.3,294"/><path d="M230.1,198 L230.2,198"/><path d="M230.7,185.2 L231.3,188.4 L232.7,192.1"/><path d="M216.9,182.1 L213.9,186.5"/><path d="M213.9,186.5 L214.1,191.4 L214.5,192.5"/><path d="M230.1,198 L226.1,197.2 L222.3,199.1"/><path d="M230.7,185.2 L227.6,184.7 L224,184.5 L220.2,182.5 L216.9,182.1"/><path d="M222.3,199.1 L218.8,197.2"/><path d="M202.7,184.3 L202.1,184.8"/><path d="M202.7,184.3 L206.8,186.1 L209.8,186.4 L213.9,186.5"/><path d="M265,173.6 L264.3,176.5"/><path d="M252.7,162.6 L251.7,164.4 L251.2,167.8 L249.4,170.1 L248.1,174"/><path d="M264.3,176.5 L260.3,177.8 L257.3,175.8 L254.7,175.8 L249.6,175.7"/><path d="M249.6,175.7 L248.1,174"/><path d="M248.9,189.4 L249.2,185.8 L250.9,181.6 L250.6,178.9 L249.6,175.7"/><path d="M233.5,177.3 L235.5,175.1 L241.3,174.9 L242.7,172.9"/><path d="M242.7,172.9 L248.1,174"/><path d="M230.7,185.2 L232.5,178.4 L233.5,177.3"/><path d="M216.9,182.1 L215.5,177.4 L215.8,174.1"/><path d="M233.5,177.3 L230.3,175.1 L227.6,172.4 L225.3,170.1"/><path d="M225.3,170.1 L221.7,171.2 L219.4,172.3 L215.8,174.1"/><path d="M197.3,149.2 L197.1,152.5"/><path d="M182.1,153 L185.9,154.2 L189.2,158.1 L190,158.8"/><path d="M197.1,152.5 L195.5,154.6 L192.2,156.1 L190,158.8"/><path d="M182.2,165.5 L177.9,162.5 L175.1,160.1"/><path d="M182.2,165.5 L185.6,163.6 L189.4,162.9"/><path d="M189.4,162.9 L190,158.8"/><path d="M182.2,165.5 L181.5,169.7 L178.7,170.9 L179.7,175.1"/><path d="M188.6,179.1 L191.1,176.9 L194.5,172.2 L195.4,170.2"/><path d="M189.4,162.9 L191.5,164.7 L192.5,167.8 L195.4,170.2"/><path d="M254.7,757.5 L254.1,754.2 L255.2,750.4 L253.9,747.9 L254.3,744"/><path d="M254.7,757.5 L257.8,758.5 L258.9,759.1 L263.4,762"/><path d="M274.4,753.8 L272.3,756.6 L269.3,757.4 L267.6,761.1"/><path d="M274.4,753.8 L271.3,752.2 L269.6,750.1 L265.5,746.8 L264.8,744 L260.8,742.4 L259.4,740.2"/><path d="M259.4,740.2 L256.7,741.9 L254.3,744"/><path d="M263.4,762 L267.6,761.1"/><path d="M249.4,760.4 L251.8,757.9 L254.7,757.5"/><path d="M242.6,741.9 L245.5,743.7 L249.2,742.8 L254.3,744"/><path d="M259,775.3 L259,771.8 L261.8,768.6 L261.9,764.2 L263.4,762"/><path d="M278,752.8 L274.4,753.8"/><path d="M276.5,775.1 L273.8,772.8 L273.1,768.1 L270.9,768.1 L270.8,765.7 L267.6,761.1"/><path d="M252.3,725.1 L248.6,725.6 L245.2,725.3 L242.4,727.4"/><path d="M252.3,725.1 L256.7,727.2"/><path d="M256.7,727.2 L259.2,731 L259.7,733.1 L260.7,737.1"/><path d="M260.7,737.1 L259.4,740.2"/><path d="M237.6,713 L239.1,711.2"/><path d="M252.3,725.1 L251.9,722.9 L251.5,717 L251.5,717.4 L250.9,712.7"/><path d="M250.9,712.7 L248.8,711.7 L243.3,710.5 L239.1,711.2"/><path d="M222.4,705.2 L224.4,699.6"/><path d="M208.6,698.6 L212,697.2 L212.9,694 L215.4,691.7"/><path d="M224.4,699.6 L220.4,698.6 L219.6,695.3 L215.4,691.7"/><path d="M238.9,694.3 L239.6,698.1 L239.5,701.3 L239.7,703.9 L239.7,708 L239.1,711.2"/><path d="M238.9,694.3 L238.1,694.1"/><path d="M224.4,699.6 L228.2,697.9 L230.5,697.7 L233.8,698.5 L238.1,694.1"/><path d="M687.9,321 L685.8,325.9 L687.9,328.3 L685.2,332 L686.3,334.7 L685.4,338.1"/><path d="M711.4,327.4 L711.5,332.4"/><path d="M685.4,338.1 L688.8,339.7 L691.3,340.3 L694.5,342"/><path d="M639.1,313 L641.1,311.1 L643.5,310.9 L647,308.6 L650.9,307.1 L655.3,309.1 L656.5,306.7 L659.7,306.7 L662.2,305.1"/><path d="M639.1,313 L638.7,312.4 L634.1,309.4"/><path d="M204.4,216.2 L203.2,212.8 L208.9,209"/><path d="M204.4,216.2 L207.7,218.5 L210.3,222.9 L211.3,224.8"/><path d="M211.3,224.8 L213,221.5 L216.2,220.3 L218.5,218.6 L219.6,214.8"/><path d="M208.9,209 L212.9,209.5 L217.2,210"/><path d="M217.2,210 L219.6,214.8"/><path d="M198.9,216.1 L204.4,216.2"/><path d="M206.3,203.3 L206.3,206.8 L208.9,209"/><path d="M222.3,199.1 L220.7,201.2 L220.9,204.5 L217.6,205.4 L217.2,210"/><path d="M230.1,198 L229.9,202.6 L230.9,204.4 L230.3,207.7 L230.2,212.5 L231.1,214.9 L231.5,218.1"/><path d="M219.6,214.8 L224,217.3 L225.6,216.2 L230.2,217.5 L231.4,218.3"/><path d="M231.5,218.1 L231.4,218.3"/><path d="M170.2,602.6 L173.9,603 L176.3,600.2 L180.5,602.1 L182.4,599.1 L185.2,598.8 L189.8,598.2 L192.5,598.9"/><path d="M167.1,587.2 L169.7,586.4 L171.8,581.3 L171.8,577.9 L175.8,578.2 L179.2,576 L180.1,573.3"/><path d="M180.1,573.3 L185.7,573.2"/><path d="M185.7,573.2 L184.9,575.3 L189.4,578.3 L190,580.9 L191.7,584 L193.4,586.4 L193.9,587.9 L196.5,591.3"/><path d="M196.5,591.3 L195.5,595.1 L192.5,598.9"/><path d="M175.8,620.9 L177.7,621.5 L184.6,621.9 L186.6,622.9"/><path d="M192.5,598.9 L193.8,602.7 L196.9,604.3 L197.7,607.3 L199,610.8 L201.1,613"/><path d="M201.1,613 L198.3,616.8 L196.1,616.7 L192.4,618.4 L190.6,620.4 L186.6,622.9"/><path d="M202.4,552.6 L201,556.5 L199.5,558.1 L199.2,560.3 L197.7,564.5"/><path d="M202.4,552.6 L207.1,554.3 L207,555.1 L210.8,555.2 L213.7,555.8 L217.6,556.3 L220.2,557.5 L222.1,558.8 L225.4,558.7 L227.1,560 L231.8,559.9"/><path d="M197.7,564.5 L200.8,566.7 L202.7,568.2 L202.8,571.8 L206,575.1 L207.9,576.8 L210.2,577.1 L213.2,580.9"/><path d="M231.8,559.9 L230.7,562.7 L229.2,565.4 L227.3,567.2 L225.3,570.7 L224.4,573.5 L223.8,576.4 L222,578.5"/><path d="M213.2,580.9 L215.9,579.1 L219.6,578.4 L222,578.5"/><path d="M196.5,591.3 L200.8,592.7 L203.4,589.8 L208.1,589.1"/><path d="M208.1,589.1 L210.7,586.8 L211.9,584.1 L213.2,580.9"/><path d="M185.7,573.2 L189.7,571.9 L191.9,568.4 L193.7,568.3 L197.7,564.5"/><path d="M66.7,463.5 L69.3,464.2 L75.1,461.4 L75.6,460.2"/><path d="M81.4,458.7 L83.5,461.9 L85.8,462.6 L89.4,465.1 L92.9,467.6 L95,470.1 L97.4,471.6"/><path d="M97.4,471.6 L97.7,473.1"/><path d="M97.7,473.1 L96.4,475 L93.6,479 L92.4,480.9 L90.7,483 L88.3,486.2 L87.6,488.9"/><path d="M97.7,473.1 L101.4,474.2 L103.9,474.6 L105.5,476.3 L110.5,478.2 L114.6,478.7 L115.7,479.8 L119.9,480 L122.7,481.4"/><path d="M104.2,501.4 L105.8,498.6 L109.1,497.3 L111.3,494.4 L112.9,491.4 L116.1,488.1 L118.9,488.8 L118.6,486.2 L122.5,483.5"/><path d="M122.7,481.4 L122.5,483.5"/><path d="M239.4,129.3 L239.3,133.8"/><path d="M228.1,132.6 L229.8,136.1"/><path d="M239.3,133.8 L235.4,133.7 L233.9,136.2 L229.8,136.1"/><path d="M245.9,135.4 L242,136.4"/><path d="M239.3,133.8 L242,136.4"/><path d="M203.3,158.4 L202.7,163 L203.8,165 L203.4,169.9"/><path d="M203.3,158.4 L207.4,157.2 L211.3,155.4"/><path d="M211.3,155.4 L214.8,156.7 L215.7,159.8"/><path d="M215.7,159.8 L214.2,164.4 L212.5,169 L211,170.8"/><path d="M211,170.8 L207.1,171.3 L204.4,170.5"/><path d="M204.4,170.5 L203.4,169.9"/><path d="M197.1,152.5 L200.9,155.4 L203.3,158.4"/><path d="M195.4,170.2 L199.7,169.1 L203.4,169.9"/><path d="M207.8,144.3 L211.9,148 L212.1,149.7"/><path d="M212.1,149.7 L211.3,155.4"/><path d="M202.7,184.3 L203.3,181 L203.6,178.9 L203.7,174.8 L204.4,170.5"/><path d="M215.8,174.1 L211,170.8"/><path d="M666.2,401.6 L669.5,403.7 L673.4,400.4 L673.5,398.1 L678.4,400.1"/><path d="M666.2,401.6 L665.7,405.3 L666.9,407 L665.6,412 L665.2,413.6 L668.2,416.2 L668.2,419.6"/><path d="M666.2,401.6 L662.5,398.2"/><path d="M681.6,384.5 L678.8,385.2 L675.2,387.2 L672.6,386.9 L666.6,386.8 L665.1,389"/><path d="M665.1,389 L665,392.8 L664.3,396.2 L662.5,398.2"/><path d="M639.1,313 L640.8,316.4 L642.6,319.3 L642.1,321.9 L644.9,325.6 L644.7,327.9"/><path d="M622.2,314.7 L621.3,317.8 L620,320.9 L617.2,324.7 L616.3,328"/><path d="M644.7,327.9 L642.8,330.9 L639.7,332.8 L637.2,335.4 L635.1,336.3 L631.2,337.2 L628.9,340.4"/><path d="M628.9,340.4 L626.4,338.5 L624,336.7"/><path d="M670.6,315.6 L669.1,319.1 L667.2,321.5 L666.8,323.8 L665.8,325.3 L662.4,329.6 L661.1,331.2 L659.7,335.4"/><path d="M685.4,338.1 L683.2,340.6 L678.6,343 L677.5,344.5 L673.1,345"/><path d="M659.7,335.4 L664.3,337.2 L664.1,340.2 L667.6,343 L669.9,342.7 L673.1,345"/><path d="M644.7,327.9 L648,328.7 L651.4,330.6 L653.5,331.3 L655.8,333.6 L657.9,335.6"/><path d="M659.7,335.4 L657.9,335.6"/><path d="M689.3,360.4 L685.5,361.2 L683,360.2 L680.7,359 L677.8,356.8 L674.3,356.1"/><path d="M673.1,345 L674,347.9 L673.6,352.1 L674.3,356.1"/><path d="M253.4,194.6 L256.6,195.4 L260.3,195.9"/><path d="M264.3,176.5 L265.4,178.5 L269.4,182.3"/><path d="M260.3,195.9 L263.2,192.9 L263.8,189.6 L265.6,187.5 L266.9,184.5 L269.4,182.3"/><path d="M624.4,434.2 L630,436.5 L631.4,436.8 L635.7,436.5"/><path d="M636.2,447 L633.1,447.7 L632.6,451.8 L628.4,454.2"/><path d="M636.2,447 L634.6,443.3 L635.7,440.2 L635.7,436.5"/><path d="M642.4,466.4 L640.7,465.3 L636,463.4 L634.7,462.5 L630.5,458.9 L628.7,458.3"/><path d="M646.7,449 L643.1,449.6 L640.3,447.7 L636.2,447"/><path d="M641.6,431.7 L644.4,433.8 L648.3,433.5"/><path d="M641.6,431.7 L637.4,433.1 L635.7,436.5"/><path d="M546.3,466.6 L543.3,466.1 L539.6,468.6 L534,468.2 L532.7,468.9"/><path d="M536.3,482.7 L535.4,480.7 L534.9,476.2 L534.2,472 L532.7,468.9"/><path d="M458.3,512.1 L460.6,511.4 L463.9,509 L466.3,507.6 L470.6,505 L471.9,503"/><path d="M471.9,503 L474.5,505.8 L476.2,507.5 L478,509.1 L482.7,509.2 L485.1,510.8 L487.2,514.6 L489.4,515.2"/><path d="M462.1,526 L461.1,523 L460.5,519.9 L460.8,516.4 L458.3,512.1"/><path d="M231.4,218.3 L228.3,221.7 L229.9,224.6 L228.2,228.6"/><path d="M211.3,225.2 L211.3,224.8"/><path d="M211.3,225.2 L214.2,228.1"/><path d="M214.2,228.1 L217.9,229.1 L222.7,229.3 L224.8,228.4 L228.2,228.6"/><path d="M229.4,252.1 L228.6,255.8 L228.6,256.6 L226.3,261.9 L227.9,264.7"/><path d="M236.9,265.2 L231,264.1 L227.9,264.7"/><path d="M236.9,265.2 L238.9,263 L240.8,257.5 L242.3,255.3"/><path d="M229.4,252.1 L229.6,252"/><path d="M229.6,252 L234.6,252.1 L235.8,253.6 L237.7,253.6 L242.3,255.3"/><path d="M260.3,195.9 L262.3,198.6 L264.9,201.1 L265.6,203.7"/><path d="M245.4,205.8 L246.2,211"/><path d="M262.8,214.2 L262.3,210.2 L264.2,206.7 L265.6,203.7"/><path d="M262.8,214.2 L260.9,215.4 L256.4,215.7"/><path d="M256.4,215.7 L250.6,213.4 L249.4,213.5 L246.2,211"/><path d="M231.5,218.1 L235.2,219.4 L237.7,217.9"/><path d="M246.2,211 L243.6,213.8 L241.4,215 L237.7,217.9"/><path d="M211.3,225.2 L208.4,227 L206.1,230.2 L204,231 L199.2,231.7 L197.1,233.5"/><path d="M197.1,233.5 L196.5,233.4"/><path d="M238.1,694.1 L234.6,690.8 L233.2,687.3 L230.3,687.6 L230.3,684.2 L228.7,681.7 L226.1,678.5"/><path d="M215.4,691.7 L215.4,690.3 L215.5,685.4 L214.7,682.5 L215,679.3"/><path d="M226.1,678.5 L220.6,679.5 L219.6,680.1 L215,679.3"/><path d="M84.4,450.3 L84.5,446.9 L87.3,444.4 L90,443.3 L89.9,438.1"/><path d="M97.4,471.6 L99.3,469.5 L101,464.6 L101.5,463.4 L103.3,461.7 L105.5,456.3 L106.9,455.4"/><path d="M106.9,455.4 L103.9,453.6 L102.2,451 L100.1,448.5"/><path d="M98.1,446.4 L94.7,443.9 L95.1,440.6 L89.9,438.1"/><path d="M86.5,412.7 L87.9,415.3"/><path d="M89.9,438.1 L89.8,433.7 L88.3,432.6 L89,429.5 L87.2,425.5 L87.4,422.1 L86.2,418.4 L87.9,415.3"/><path d="M258.6,532 L256.7,531.3 L251.9,531.9 L249.4,532.1 L246.3,531.2"/><path d="M249.6,516.2 L248.6,519.9 L248.2,522.2 L248.1,524.8 L248.2,528.2 L246.3,531.2"/><path d="M249.6,516.2 L253.9,516.2 L257.5,518.7 L259,517.8 L262.3,520.2 L265.7,521.3"/><path d="M258.6,532 L258,529.1 L261.9,527.1 L265.9,524.7 L266.1,522.3"/><path d="M266.1,522.3 L265.7,521.3"/><path d="M180.1,573.3 L178.6,569.8 L175.7,566.3 L175.1,565.6 L170.7,561.9 L170.6,558.5"/><path d="M162.8,559 L166.8,558.8 L170.6,558.5"/><path d="M217.8,137.5 L219.7,139.1 L223.6,140.9"/><path d="M212.1,149.7 L217,149.7 L221,148.3"/><path d="M223.6,140.9 L223.7,143.2 L221,148.3"/><path d="M229.8,136.1 L226.6,140.1"/><path d="M223.6,140.9 L226.6,140.1"/><path d="M260.7,737.1 L263.8,735 L266.8,733.6 L271.4,733.6 L273.2,734 L276.4,732.4"/><path d="M283.3,746.2 L283.7,743.1 L283.9,739.8 L281.1,735.8"/><path d="M281.1,735.8 L276.4,732.4"/><path d="M304.2,746.9 L305.4,743.4 L303.6,740.6 L306,737.6"/><path d="M306,737.6 L303.4,734.3 L302,732.6 L301,728 L297.7,725.5"/><path d="M281.1,735.8 L285,735.6 L287.1,732 L288.2,730.5 L292,729 L295.4,727.4 L297.7,725.5"/><path d="M256.7,727.2 L258.3,726.3 L261.8,724.5 L264.3,717.5 L266.3,717.5"/><path d="M276.4,732.4 L275.6,730 L275.5,726.7 L274.5,723 L274.9,720.8 L274.3,717.5"/><path d="M266.3,717.5 L270.6,718.8 L274.3,717.5"/><path d="M250.9,712.7 L254,710.8 L256.8,708.1"/><path d="M266.3,717.5 L262.9,715 L261.4,713.9 L258.4,710.6 L256.8,708.1"/><path d="M238.9,694.3 L243.2,694.1 L243.4,692 L247.6,691.1"/><path d="M247.6,691.1 L251.3,693.9 L251.8,695.9 L253.9,696.3 L258.2,698.8"/><path d="M256.8,708.1 L258.7,706 L258.4,701.5 L258.2,698.8"/><path d="M458.3,512.1 L453.5,510.3 L450.1,509.3"/><path d="M450.1,509.3 L448,511 L444,513.7 L440.9,517 L438.1,517.9"/><path d="M444.1,540 L443.2,538.5 L442.6,533.6 L442.6,530 L439.7,527.6 L441.1,524.4 L439.1,520.8 L438.1,517.9"/><path d="M444.2,493.3 L445.5,491.7 L448.7,488.5 L451.1,486.3"/><path d="M444.2,493.3 L445.7,495.2 L445.7,498.4 L448.7,502.7 L448.2,506.3 L450.1,509.3"/><path d="M471.9,503 L471.6,499.1 L473.2,497.3 L471.2,492.5 L472.3,488.7"/><path d="M451.1,486.3 L455.5,486.1 L457.3,488.2 L460.7,485.8 L462.5,487.6 L465.9,488.4 L469.7,489.2 L472.3,488.7"/><path d="M414.1,452.7 L413.6,448.9 L412.1,445.3 L413,444.3 L412.5,440.7 L410.8,435.7 L409.9,433.7 L408.9,429.9"/><path d="M414.1,452.7 L418.6,452.2 L419.7,452.8 L425,453.1"/><path d="M425,453.1 L428.4,449.7 L430.2,447 L431.2,443.3 L433.3,441.2"/><path d="M410.3,428.1 L408.9,429.9"/><path d="M410.3,428.1 L412.9,427.9 L416.5,429 L417.5,429.3 L423.5,430.3 L427.4,431.3 L429.1,431.9"/><path d="M429.1,431.9 L429.2,435.6 L431.8,438.4 L433.3,441.2"/><path d="M616,410.9 L617.2,415.3 L619.3,419.2 L619,420.5 L619.1,421.7 L621.3,426"/><path d="M618.6,409 L622.4,409.5 L624.9,407.8 L628.2,407.4"/><path d="M624.1,424.5 L627.4,422.3 L630.3,419.2 L634.3,418.7"/><path d="M628.2,407.4 L630.2,410.5 L631.3,413.9 L634,415.9 L634.3,418.7"/><path d="M621.2,426.3 L621,426.7"/><path d="M641.6,431.7 L640,428.1 L638.8,424.7 L638.8,422.3 L637.5,419.5"/><path d="M634.3,418.7 L637.5,419.5"/><path d="M657.4,420 L655,419.2 L653.2,415.6 L650.6,414.7 L647.8,412.2"/><path d="M637.5,419.5 L641.1,417.5 L641.3,414.7 L643.9,413.2 L647.8,412.2"/><path d="M662.5,398.2 L657,399"/><path d="M657,399 L654.1,400.5 L651.9,404.7 L648,407.8 L647.9,409.4"/><path d="M647.8,412.2 L647.9,409.4"/><path d="M647.9,409.4 L645.5,407.4 L642,405.6 L639.9,401.6 L637.2,399.6"/><path d="M647,389.8 L649.1,393.9 L652.9,396 L654.6,395.5 L657,399"/><path d="M647,389.8 L642.4,389.7 L641.2,391.4"/><path d="M641.2,391.4 L640.1,394.9 L638.3,397.2 L637.2,399.6"/><path d="M628.2,407.4 L627.7,404.4 L631.5,401.1"/><path d="M631.5,401.1 L637.2,399.6"/><path d="M652.5,361 L653.7,360 L659.4,360.7 L663.2,361.3 L666.1,358.2 L669.5,360.1 L672.7,358.7"/><path d="M652.5,361 L653.7,363.5 L651.7,365.2 L651.2,371 L649.6,372.6"/><path d="M659.3,377.9 L656.6,377.2 L652.8,376.4"/><path d="M659.3,377.9 L661.8,376 L663.6,374.5 L667.9,372.9 L670.2,371.3 L671.8,369.6"/><path d="M671.8,369.6 L672.8,366.2 L671.4,362.6 L672.7,358.7"/><path d="M649.6,372.6 L652.8,376.4"/><path d="M657.9,335.6 L655.6,338.5 L656.4,341.2 L652.6,344.3 L650.8,347.5 L649.5,349.5 L647.9,352.3"/><path d="M647.9,352.3 L649.6,355.3 L651.2,356.7 L652.5,361"/><path d="M674.3,356.1 L672.7,358.7"/><path d="M647,389.8 L648.4,388.6 L649.7,382.9 L649.8,379.1 L652.8,376.4"/><path d="M665.1,389 L663.2,386.3 L661.9,383.6 L661.3,380.6 L659.3,377.9"/><path d="M682.1,380.6 L680.4,377 L678.4,376.1 L676.8,372.5 L672.6,371.5 L671.8,369.6"/><path d="M639.2,372.3 L639,375.5 L635.4,379.8 L633.6,381.5 L633.6,383.3"/><path d="M639.2,372.3 L642.5,371.9 L646.1,373.2 L649.6,372.6"/><path d="M633.6,383.3 L635.3,385.3 L636.9,389.4 L641.2,391.4"/><path d="M283.3,189.8 L280.3,188.3 L277.4,185.4 L274.8,182.5"/><path d="M283.3,189.8 L289,189.8"/><path d="M289,189.8 L291,184.5"/><path d="M274.8,182.5 L277.1,178.3"/><path d="M265.6,203.7 L269.3,203.5 L271.3,203 L275.9,202"/><path d="M275.9,202 L277,199.2 L279.5,197.2 L281.5,194 L283.3,189.8"/><path d="M269.4,182.3 L274.8,182.5"/><path d="M286.5,213.9 L289,213.8 L292.6,210.9 L296.7,206.5 L298.7,205.5"/><path d="M293,192.9 L289,189.8"/><path d="M275.9,202 L278.5,203.8 L280.5,206.3 L282.6,209.6 L284.4,212.1 L286.5,213.9"/><path d="M286.5,213.9 L285,218"/><path d="M303.8,226.3 L299.5,226.5 L297.7,227.5 L294.1,226.6 L291.6,226.1 L287.9,227.8"/><path d="M303.8,226.3 L305.7,223.4 L307.2,220.4"/><path d="M287.9,227.8 L287.9,223.9 L286.9,221.5 L285,218"/><path d="M262.8,214.2 L265.3,216.9 L267.2,219"/><path d="M285,218 L282.8,217.9 L279.3,218.8 L274.7,218.9 L272.2,219 L267.2,219"/><path d="M267.2,230 L269.1,231.3 L272.6,233.9 L274,235.8 L277.1,237.3"/><path d="M267.2,219 L265.6,222 L267.8,226 L267.2,230"/><path d="M287.9,227.8 L287.2,229.3 L284.4,233 L284.6,236.7"/><path d="M284.6,236.7 L280.7,235.6 L277.1,237.3"/><path d="M304.8,256.3 L303.8,253.2 L303.7,250.5 L305.3,247.4 L303.2,243.7"/><path d="M304.8,256.3 L301.4,257.7 L300.4,260.7 L297.9,263.8"/><path d="M297.9,263.8 L296.5,261.7 L293.6,259.3 L291.7,257.4 L288.5,254.8 L286.3,253.2"/><path d="M303.2,243.7 L298.9,242.9 L296.1,241.8 L293.5,242.3 L290.9,241.6 L287.6,241"/><path d="M287.6,241 L287.7,245.7 L288.1,247.2 L288.6,249.6 L286.3,253.2"/><path d="M284.6,236.7 L287.6,241"/><path d="M308.7,238.4 L306.2,240.4 L303.2,243.7"/><path d="M308.7,238.4 L308.3,234.9 L306.2,233.9 L304.3,230.6 L303.8,226.3"/><path d="M268.3,248 L269,253 L270.6,253.4 L272.7,256.8"/><path d="M276.3,258.5 L272.7,256.8"/><path d="M277.1,237.3 L273.9,240.2 L271.8,242.5 L270,245.6 L268.3,248"/><path d="M276.3,258.5 L279.5,257.9 L283.3,255.5 L286.3,253.2"/><path d="M297.4,270.5 L293.1,272.2 L290,273.7"/><path d="M297.4,270.5 L296.3,266.4 L297.9,263.8"/><path d="M276.3,258.5 L275.3,261.8 L278.3,266.3 L278.4,269.8"/><path d="M278.4,269.8 L281.2,270 L283.9,272.1 L287.7,273.3 L290,273.7"/><path d="M546.8,344.8 L543,344.1 L538.7,343.8 L538.2,343.1 L534.5,341.7"/><path d="M546.8,344.8 L547.6,343.9"/><path d="M540.6,322.6 L536.3,323.3 L531.9,321.8 L529.4,323.3"/><path d="M534.5,341.7 L533,338.5 L532.4,332.9 L533.4,333 L531.7,330.1 L530.4,326.6 L529.4,323.3"/><path d="M596.6,430.7 L599,430.3 L605,427.6 L605.3,427.9"/><path d="M605.3,427.9 L605.5,425.5 L605.8,421.6 L605,418.4 L605.5,415.7"/><path d="M614.1,431.5 L611.7,431.4 L608.9,428.1 L605.3,427.9"/><path d="M532.7,468.9 L531.7,468.2"/><path d="M531.7,468.2 L529.2,469.4 L524.7,471.5 L522.8,471.3 L519.6,472.6"/><path d="M519.6,472.6 L518.2,477.1"/><path d="M472.4,488.6 L472.3,488.7"/><path d="M472.4,488.6 L476.3,488.7 L478.7,488.6 L483.4,488.9 L486.3,488.6 L489.2,490.5 L492.5,490.6 L494.7,489.9 L498.5,489.3"/><path d="M440.5,400.1 L441.1,395.9 L441.7,390.9 L440.7,389.7 L442.6,385.8"/><path d="M447.1,384.4 L442.6,385.8"/><path d="M448.7,406 L453.3,402.6 L454.6,401.5 L456.7,398.7"/><path d="M448.7,406 L446.9,404.2 L444.2,403.3 L440.5,400.1"/><path d="M447.1,384.4 L450.3,386.6 L454.6,386.8"/><path d="M456.7,398.7 L456.7,397.7 L455.7,391.8 L456.2,390.4 L454.6,386.8"/><path d="M245.3,247.2 L243.1,246.1 L242.2,242.6 L238.7,240.1 L237.2,237.8"/><path d="M245.3,247.2 L248.7,246.2 L251.3,243 L252.5,243.1 L256.4,241.4"/><path d="M237.2,237.8 L238.8,235.5 L242.7,231.7 L245.8,229.9 L247.1,229.8"/><path d="M256.4,235.4 L255.4,238.7 L256.4,241.4"/><path d="M256.4,235.4 L254.5,232.4 L250,229.8"/><path d="M250,229.8 L247.1,229.8"/><path d="M232.2,237.6 L237.2,237.8"/><path d="M232.2,237.6 L231,241.4 L230.7,243.8 L230.9,250.6 L229.6,252"/><path d="M244.2,254.5 L242.3,255.3"/><path d="M244.2,254.5 L246.8,251.1 L245.3,247.2"/><path d="M237.7,217.9 L238.5,220.1 L241.4,223.3 L242.6,225.7 L245.7,227.4 L247.1,229.8"/><path d="M231.3,236.9 L230.6,232.6 L228.2,228.6"/><path d="M231.3,236.9 L232.2,237.6"/><path d="M267.2,230 L264.1,230.8 L262.4,232.9 L259.3,233.6 L256.4,235.4"/><path d="M261.3,247.1 L264.6,246.6 L268.3,248"/><path d="M261.3,247.1 L257.3,243.5 L256.4,241.4"/><path d="M256.4,215.7 L254.4,219.6 L253.9,220.7 L252.3,224.3 L251.9,226.6 L250,229.8"/><path d="M218.2,280.6 L220.4,278.7 L222.4,278.1 L226.4,276.3"/><path d="M224.7,267.3 L226.3,268.8 L225.3,273.6 L226.4,276.3"/><path d="M218.2,280.6 L215.5,278.9 L211.5,275.1 L209.1,274.8 L207.3,273.2"/><path d="M224.7,267.3 L220,265.8"/><path d="M220,265.8 L216.6,268.5 L215.6,269.8 L212.3,271 L207.3,273.2"/><path d="M221.7,621.8 L222.2,616.9 L224.8,616.8 L227.5,614.3 L228.1,609.5 L227.4,606 L230.4,604"/><path d="M221.7,621.8 L217.7,621.9 L215.8,624 L210.7,623.1"/><path d="M203,613.4 L204.6,617 L207.6,619.1 L210.3,620.1 L210.7,623.1"/><path d="M203,613.4 L206.3,610.4 L208.1,608.7 L211.3,606.3 L213.8,604 L215.2,601.7"/><path d="M215.2,601.7 L219.3,602.2 L220.5,601.8 L223.2,603.4 L226,602.9 L230.4,604"/><path d="M232.8,634.4 L231.8,632.6 L227.5,628.6 L224.6,627.2 L223.7,625.3 L221.7,621.8"/><path d="M232.8,634.4 L229.5,636.1 L229.5,638.1 L225.9,638.9 L221.7,640.7 L220.6,640.6 L215,642.6 L214,644.2"/><path d="M214,644.2 L210.8,641.9 L210.2,637.9 L206.8,636.2"/><path d="M206.8,636.2 L208.1,634.1 L208.1,630.7 L209.6,625.5 L210.7,623.1"/><path d="M201.1,613 L203,613.4"/><path d="M206.8,636.2 L202,638.3 L199.3,637.1 L195.1,637.4"/><path d="M186.6,622.9 L188.7,627.8 L189.6,628.8 L190.8,631.7 L193.3,634.4 L195.1,637.4"/><path d="M208.1,589.1 L208.5,590.9 L212.1,594.6 L213.2,598.5 L215.2,601.7"/><path d="M222,578.5 L224.3,581.6 L225.6,584.7 L229.3,586.9 L229.8,589.8 L232.9,593.2 L234.3,595.2"/><path d="M230.4,604 L231.4,603.5"/><path d="M234.3,595.2 L234.3,598.3 L231.4,603.5"/><path d="M237,635.3 L232.8,634.4"/><path d="M237,635.3 L237.5,633.3 L239.9,630.4 L240.1,628 L243.1,623.8 L243.1,622.1 L245.4,619.3 L246.5,616.3"/><path d="M231.4,603.5 L233.4,602.9 L234.8,607.3 L239.1,610.5 L241.2,611.1 L245.2,615.8 L246.5,616.3"/><path d="M211.4,677 L213.5,671.9 L212.4,669.2 L212.3,666.9 L210.8,663.9 L210.9,661.3 L211.5,657.7"/><path d="M211.4,677 L209.1,679.7 L204.9,677.6 L202.2,679.2"/><path d="M211.5,657.7 L208.4,657.1 L204.8,657.5 L200.7,656.6 L200.5,657.2 L196.2,656.1 L193.5,656.6"/><path d="M226.1,678.5 L228.3,676.5 L229.3,673.4 L234,672.5 L234.1,669.1"/><path d="M234.1,669.1 L233.6,664.1 L233.8,661.4 L232.5,658.5"/><path d="M232.5,658.5 L228.9,658 L227.5,657.7 L222.2,657.3 L220.1,658 L217.7,655.3 L214.1,654.7"/><path d="M215,679.3 L211.4,677"/><path d="M214.1,654.7 L211.5,657.7"/><path d="M214,644.2 L213.1,647.9 L214,651.8 L214.1,654.7"/><path d="M195.1,637.4 L193.1,639.3 L192.1,642.9 L191.7,646.3 L187.6,648.4"/><path d="M132.2,433.4 L130.8,435.6 L126.5,436.6 L123.6,436.8"/><path d="M132.2,433.4 L135.4,436.7 L138.3,437.3 L141.8,438.7 L143.9,440.6"/><path d="M123.6,436.8 L123.4,440.8 L123.2,443.1 L121.4,446.7 L120.4,450 L119.6,453.7"/><path d="M143.9,440.6 L145.3,442.4 L145.9,446.5 L146,451.4 L146,454.4"/><path d="M146,454.4 L143.4,456.2 L138.9,459.1 L138.7,459.9 L134.2,460.6 L130,462.4 L127.7,464.6"/><path d="M127.7,464.6 L123.3,462.1 L123.2,461 L120.4,457.1 L119.6,453.7"/><path d="M108.7,384.1 L110.8,387.7 L111.9,388.9 L115.1,392.6 L114.9,394.4 L117.6,398 L118.4,400.7 L121.2,402.7 L123.3,404.3 L123.7,406.6 L128.3,409.1 L127.3,412 L128.9,415.1 L133.6,417.7 L131.8,419.4 L135.7,421.9"/><path d="M135.7,421.9 L133.8,426.7 L132.5,430 L132.2,433.4"/><path d="M87.9,415.3 L90.8,416.8 L93.2,419.7 L97.1,420.1 L98,420.8 L102.6,423.7 L105.3,423.8 L107.8,427.7 L108.5,426.9 L112.4,429.8 L114.5,431.6 L118.7,433 L121,435.9 L123.6,436.8"/><path d="M153.7,413.2 L156,414.1"/><path d="M153.7,413.2 L151.6,415.2 L146.7,417 L145.5,417.1 L143.4,419.6 L138.7,421.7 L135.7,421.9"/><path d="M158.3,434.2 L156.7,434.7 L152.5,437.2 L148.8,438.3 L146.9,437.2 L143.9,440.6"/><path d="M156,414.1 L155.1,418.3 L156.6,420.6 L157.6,425.4 L157.8,427.2 L157.9,429.8 L158.3,434.2"/><path d="M106.9,455.4 L110.4,455 L112.4,454.4 L117.7,454.5 L119.6,453.7"/><path d="M127.5,475.5 L126.9,479.8 L122.7,481.4"/><path d="M127.5,475.5 L127.1,473.5 L128.4,468 L127.7,464.6"/><path d="M221.8,478.7 L221.7,478.7"/><path d="M221.7,478.7 L220.8,474.1 L221.8,473.1 L218.6,467.4 L217.4,465.2 L218.3,461.9"/><path d="M240.4,475.5 L236,476.6 L234.4,476.4 L232.2,477.1 L228.2,478.3 L224.9,478.2 L221.8,478.7"/><path d="M247,461.2 L244,460.1 L241.9,456.3 L239.8,454.2 L236.6,453.4 L233.8,449.4 L231.2,449"/><path d="M240.4,475.5 L242.4,473.4 L243.5,470.1 L245.2,466.2 L245.5,464.2 L247,461.2"/><path d="M218.3,461.9 L219.1,460 L223.8,455.9 L225.2,455.7 L227.3,452.6 L228.7,450.8 L231.2,449"/><path d="M220.3,421 L218.8,424.2 L219.9,429.6 L220.1,431.5 L219,435.6"/><path d="M202.4,418 L205,417.5 L209,418.8 L210.6,419.3 L215.3,421.4 L216.1,422 L220.3,421"/><path d="M219,435.6 L216.3,436.6 L213.5,438.4 L210.2,440.3 L208.7,440.6 L205.4,442.1"/><path d="M202.4,418 L200.5,420.6 L198.6,423.3 L197.7,424.7 L196.9,428.7"/><path d="M196.9,428.7 L200.6,431.5 L200.6,433.3 L202.3,437.8 L203.9,439.8 L205.4,442.1"/><path d="M231.2,449 L231.2,445.4"/><path d="M219,435.6 L222.6,438.1 L224.3,440.4 L226.7,441 L229.5,443.2 L231.2,445.4"/><path d="M218.3,461.9 L214.6,460.1 L213.3,459.2 L210.9,456.1 L208.1,455.1 L203.8,454.1 L202.6,452.7"/><path d="M205.4,442.1 L204.7,446.2 L201.1,449.4 L202.6,452.7"/><path d="M265.7,521.3 L265.7,519 L267.7,515.4 L269.7,511.5 L269.4,508.7 L268.9,505 L271.1,502"/><path d="M244.8,505.5 L247.2,508.4 L248.2,511 L249.6,516.2"/><path d="M244.8,505.5 L247,505.2 L248.5,501.4 L250.1,499.7 L254.6,496.2 L254.4,491.8 L257.7,492.9"/><path d="M271.1,502 L266.5,499.7 L266.3,499.1 L262.6,496.9 L260.1,493.9 L257.7,492.9"/><path d="M240.4,475.5 L241.4,477.5 L246.9,479.7 L247.1,481 L250.8,483.9 L252.8,485.4 L253,487.7 L255.5,489.3 L257.7,492.2"/><path d="M233.7,506.1 L232.1,503.9 L232.1,500.4 L228.4,497.3 L229.1,493.1 L227.3,489.9 L225.4,486.2 L223.9,484.8 L223.5,480.5 L221.8,478.7"/><path d="M244.8,505.5 L240.5,504.8 L237.8,505.2 L233.7,506.1"/><path d="M257.7,492.9 L257.7,492.2"/><path d="M232.5,658.5 L233.6,655.8 L236.8,654.1 L239.9,650.4"/><path d="M237,635.3 L239.1,638.3"/><path d="M239.1,638.3 L240.1,642.2 L240.2,643.5 L239.9,647.6 L239.9,650.4"/><path d="M175.4,511.1 L175.6,505.8 L173.2,503.3 L173.4,499.3"/><path d="M175.4,511.1 L173.2,514.9 L170.3,514.2 L168.1,518 L165.5,521 L161.7,521.3 L162.7,525.3 L157.6,526.8"/><path d="M156.4,499.2 L159.1,496.6 L162,499.1 L164.4,495.9 L169.6,496.7"/><path d="M169.6,496.7 L173.4,499.3"/><path d="M145,478.8 L142.1,478.1 L139.3,477.5 L134,476 L131,476.5 L127.5,475.5"/><path d="M122.5,483.5 L124.9,486.8 L126,490.4 L128.7,492.3 L129.7,496"/><path d="M177.6,540.9 L174.2,538.9 L171.1,539.4 L169.9,534.8 L167,534 L163.4,533.7 L161,530.9 L158.1,529.8"/><path d="M170.6,558.5 L171.6,555.5 L173.1,553.2 L173.5,549.3 L175.9,547 L176.5,543.6 L177.6,540.9"/><path d="M233.7,506.1 L231.6,508.9 L227.8,511.4"/><path d="M214.8,482 L218,478 L221.7,478.7"/><path d="M214.8,482 L213.5,484.5 L214.4,486.7 L212.4,491.1 L209.1,494.5 L207.7,496.9 L205.1,497.5 L203.8,501.5 L203.1,503.5"/><path d="M203.1,503.5 L203.3,504.6"/><path d="M203.3,504.6 L207.4,504.2 L210.6,506.2 L212.6,505.8 L216.7,507.2 L218.9,507.9 L222,508.7 L224.2,511.3 L227.8,511.4"/><path d="M237.1,539.6 L239.6,538.6 L241.4,536.2 L244.2,534.9 L246.3,531.2"/><path d="M237.1,539.6 L234.6,538.2 L233.7,536.5 L230.7,532.6 L226.6,531.6 L225.5,528.8"/><path d="M225.5,528.8 L225.2,526.4 L226.7,521.4 L227.4,517.5 L227.8,516.4 L227.8,511.4"/><path d="M225.3,170.1 L226,166.1"/><path d="M215.7,159.8 L221.3,159.1"/><path d="M226,166.1 L223.9,162.7 L221.3,159.1"/><path d="M221,148.3 L223.7,151.5 L223.9,154.1"/><path d="M221.3,159.1 L223.9,154.1"/><path d="M233.8,148.5 L231.5,153.7"/><path d="M233.8,148.5 L239.7,149 L238.6,146.3 L243.1,145.7"/><path d="M244.2,155.6 L242.5,150.6 L244,146.6"/><path d="M244.2,155.6 L241.1,156.4 L240,159.2 L236.6,160.9"/><path d="M231.5,153.7 L233.5,157.9 L235.8,160.7"/><path d="M244,146.6 L243.1,145.7"/><path d="M236.6,160.9 L235.8,160.7"/><path d="M226.6,140.1 L228.8,142.4 L230,145 L233.8,148.5"/><path d="M223.9,154.1 L228.6,154.1 L231.5,153.7"/><path d="M242,136.4 L242.7,141.5 L241.9,144.1 L243.1,145.7"/><path d="M252.2,160.6 L247.3,160.2 L247.1,156.5 L244.2,155.6"/><path d="M248.7,146.6 L244,146.6"/><path d="M242.7,172.9 L241,169.4 L239.3,168.1 L239,164.1 L236.6,160.9"/><path d="M226,166.1 L230.2,163.1 L232.3,162.8 L235.8,160.7"/><path d="M306,737.6 L308.6,735.8 L312.8,734.4 L316.5,733.5 L317,732.9 L321.6,731.3"/><path d="M321.6,731.3 L325.6,732.6"/><path d="M274.3,717.5 L275.3,716 L278.7,712.4"/><path d="M278.7,712.4 L282.8,713.2 L285.8,713.5 L290.7,716.8 L293.2,716.5"/><path d="M297.7,725.5 L297.8,723.3"/><path d="M293.2,716.5 L297,718.7 L297.8,723.3"/><path d="M438.1,517.9 L433.8,517.8 L431.1,516.7 L429.9,517 L425.3,515.4"/><path d="M440.1,544.5 L436.9,542.9 L434.4,542.7 L430.5,541.3 L428.9,540.6 L425.2,540.5"/><path d="M425.3,515.4 L423.1,518.4 L419.6,522.3"/><path d="M425.2,540.5 L424.5,536.8 L422.2,534.5 L424.1,533.3 L420.6,526.8 L423,526 L419.6,522.3"/><path d="M357.8,465.7 L360.6,464.6 L363.2,462.5 L366.7,464 L371.1,463.6 L374.1,461.1 L376.2,460.4"/><path d="M357.8,465.7 L354.7,470.4"/><path d="M354.7,470.4 L357.6,473 L358.7,474.9 L360.5,479.1 L360.8,481.5"/><path d="M360.8,481.5 L363.4,482.9 L366.8,483.3 L372.1,482.6 L373.4,484.2 L377.1,484.7 L380.4,486.1 L383.4,485.4"/><path d="M376.2,460.4 L379.9,462.7 L380,467.2 L385.2,467.2 L387.2,470.1"/><path d="M387.2,470.1 L386.7,473.9 L386.9,476.7 L384.3,482.1 L384.7,484.7"/><path d="M383.4,485.4 L384.7,484.7"/><path d="M363,505.7 L366.7,506.7 L370.6,506.3 L375,506 L377.5,506.9"/><path d="M355,498.1 L355.9,501.4 L361.5,504.1 L363,505.7"/><path d="M355,498.1 L355,495.9 L355.7,491.2 L358.8,488.4 L360.5,484.8 L360.8,481.5"/><path d="M383.4,485.4 L382.7,487.3 L381.1,491.6 L380.9,494.2 L379,498.1 L378.9,500.3 L379.4,503.6 L377.5,506.9"/><path d="M422.7,505.4 L420.3,503.6 L417.4,501.2 L415.5,502 L411.5,498.3 L407.9,497.9 L406.1,495.9"/><path d="M422.7,505.4 L424.3,503 L426.5,500.1 L427.9,498 L430.6,495.7 L431.8,494.4 L435.8,492"/><path d="M435.8,492 L434.1,489.7 L432,486.2 L428,484.9 L428.3,481.4 L426,478.5"/><path d="M406.1,495.9 L405.1,492.2"/><path d="M405.1,492.2 L407.6,489.6 L409.1,486.5 L411.5,483.9 L411.6,481.3 L414.3,479.2"/><path d="M426,478.5 L423.8,478.3 L419.3,479.5 L414.3,479.2"/><path d="M396.1,515.1 L398.8,512.7 L398.8,510.3 L400,507.2 L402.6,503.2 L403,501.1 L404.2,497.6 L406.1,495.9"/><path d="M399.2,524.5 L398.2,520.8 L397.3,520.3 L396.1,515.1"/><path d="M399.2,524.5 L402.4,523.7 L406,524.6 L409.7,522.7 L413.5,523 L417,521.7 L419.6,522.3"/><path d="M425.3,515.4 L425.5,513.1 L425.2,508.9 L422.7,505.4"/><path d="M444.2,493.3 L439.4,492.4 L435.8,492"/><path d="M449,464.8 L449.8,467.8 L449.8,469.6 L448.7,471.7 L450.5,477 L450.2,479.8 L450.5,482.8 L451.1,486.3"/><path d="M435.1,465.8 L439.2,465.9 L442.9,466.5 L444.7,465.7 L449,464.8"/><path d="M435.1,465.8 L431.8,469 L431.5,470.3 L428.2,472.9 L426.5,475.8 L426,478.5"/><path d="M377.5,506.9 L378.3,508.1"/><path d="M396.1,515.1 L392.4,514.6 L389.7,511.6 L388.7,511.4 L383.4,509.2 L382,509.9 L378.3,508.1"/><path d="M384.7,484.7 L387.3,484.9 L390,485.8 L393.7,488.2 L397.8,490.6 L399,489.4 L402,489.3 L405.1,492.2"/><path d="M405.3,460.8 L401.7,460.5"/><path d="M405.3,460.8 L407.8,463.6 L408.8,467.4 L408.9,469.9 L409.9,473.1 L414.3,475.8 L414.3,479.2"/><path d="M401.7,460.5 L398.5,463.3 L395.3,462.9 L393.4,466.1 L390.7,469.3 L387.2,470.1"/><path d="M435.1,465.8 L432.8,462.8 L432.1,460 L430,458.9 L427.1,455.2 L425,453.1"/><path d="M405.3,460.8 L408.9,457.6 L412.2,454.5 L414.1,452.7"/><path d="M435.5,346.6 L433.9,348.7 L433.2,353.6 L430.9,356.1 L426.8,358.2 L427.1,361"/><path d="M435.5,346.6 L434.1,343.4"/><path d="M434.1,343.4 L430.8,342.7 L429.3,343.9 L425.3,342.5 L423,345.7 L418.9,345.5"/><path d="M418.9,345.5 L418.5,349 L416.1,351.6 L416.5,354.6"/><path d="M427.1,361 L424.4,361.8 L421.1,360.6 L418,358.9"/><path d="M416.5,354.6 L418,358.9"/><path d="M442.7,350.4 L442,354.2 L443.7,358.6 L444.6,361.4 L445.7,364.2"/><path d="M432.9,368 L435.8,367.1 L439.2,364.7 L443.7,366 L445.7,364.2"/><path d="M442.7,350.4 L439.2,348.1 L435.5,346.6"/><path d="M432.9,368 L430.1,366 L431,362.8 L427.1,361"/><path d="M414.8,338 L419.1,335 L419.8,330.6"/><path d="M435.8,331.6 L433.7,335.1 L435.6,339.4 L434.1,343.4"/><path d="M414.8,338 L417,341.8 L418.9,345.5"/><path d="M401.2,403.6 L403.8,400.7 L408,400.1 L409.7,397.8 L411.5,396.1"/><path d="M401.2,403.6 L400.5,406.1 L403.8,410.2 L403.6,411.1 L405.9,416.1 L407.2,420.3 L407.5,421.5 L410.5,425.3"/><path d="M411.5,396.1 L415.9,396.3 L418.2,397.4 L421.4,397.9 L423.6,399.8"/><path d="M410.5,425.3 L412,423.7 L416.2,422.4 L417.9,418.7 L421.4,417.8 L422.7,415.2 L424,412.5 L427.5,410.6"/><path d="M423.6,399.8 L427,403.2"/><path d="M427.5,410.6 L427,405.9 L427,403.2"/><path d="M437.4,421 L434.9,425.1 L433.9,426 L431,427.6 L429.1,431.9"/><path d="M437.4,421 L434.5,417.9 L432.9,416.2 L429.6,414.6 L427.5,410.6"/><path d="M410.3,428.1 L410.5,425.3"/><path d="M440.5,400.1 L437.2,402.3 L432.8,401.8 L430.7,402.1 L427,403.2"/><path d="M433.8,381.9 L430.2,384.1 L431,386.3 L428.3,390.4 L425.7,392.8 L425,395.8 L423.6,399.8"/><path d="M442.6,385.8 L439.7,384 L436,383.3 L433.8,381.9"/><path d="M449.7,415.9 L444.7,417.1 L444.5,420.2"/><path d="M437.4,421 L440.1,419.9 L444.5,420.2"/><path d="M448.7,406 L449.8,408.8 L449.2,409.7 L449.7,415.9"/><path d="M401.9,377.6 L404.4,380.1 L406.1,384.2 L407.9,385.6 L408,390.5 L411.5,391.6"/><path d="M401.9,377.6 L404.6,374.4 L408.3,373.2 L409.1,372.1 L413,370.1"/><path d="M411.5,391.6 L412.5,387.4 L415.3,386.7 L417.1,384.1 L417.6,380.9 L420.2,378.8"/><path d="M413,370.1 L415.9,373 L418.1,375 L420.2,378.8"/><path d="M413.4,364.2 L413,370.1"/><path d="M413.4,364.2 L409.4,363.8 L406.4,363.8 L405.8,363.2 L400.7,363.3 L397.7,361.6"/><path d="M397.7,376.2 L399,372.9 L398.9,369.4 L397.1,366.3 L397.7,361.6"/><path d="M397.7,376.2 L401.9,377.6"/><path d="M430.7,377.1 L427.7,376.2 L423,376.7 L420.2,378.8"/><path d="M433.8,381.9 L430.7,377.1"/><path d="M411.5,396.1 L411.5,391.6"/><path d="M413.4,364.2 L414.6,362.4 L418,358.9"/><path d="M432.9,368 L430.7,370.9 L430.6,375 L430.7,377.1"/><path d="M341.3,410.7 L344.3,413.6 L346.1,415.8 L347.9,416.9 L349.4,420.3 L351,423.2 L352.8,424.7"/><path d="M341.3,410.7 L337.8,413.7 L336.3,414.2 L332.6,416.6 L330.4,418.3 L329.5,420 L326.3,422.1 L323.8,424.6"/><path d="M352.8,424.7 L350.3,427.3 L350.9,430.2 L348.2,432.3 L348,436.5 L346.4,439.2"/><path d="M323.8,424.6 L325.7,426.9 L325.6,431 L327.5,432.8 L329.1,437 L328.3,439.1 L331.6,442.2"/><path d="M346.4,439.2 L342,439.5 L340.5,439.5 L336.8,440.5 L334.8,442.3 L331.6,442.2"/><path d="M351.2,470.3 L354.7,470.4"/><path d="M326.8,452.5 L329.3,448.3 L328.7,444.9 L331.6,442.2"/><path d="M326.8,452.5 L329.7,454 L331,456.4 L334.1,458.6 L335.6,461.1 L338.8,461.2 L341,463.1 L344.1,465 L347.2,466.9 L348.7,467.8 L351.2,470.3"/><path d="M357.1,446.9 L356.7,449.7 L357.6,453.9 L358.4,457.6 L357.2,459.5 L357.6,461.9 L357.8,465.7"/><path d="M357.1,446.9 L354.8,445.2 L351.1,442.5 L349,442.5 L346.4,439.2"/><path d="M352.8,424.7 L355.2,426.2 L360.8,423.2 L363.2,423.2"/><path d="M357.1,446.9 L358.5,446.7 L363.5,443.9 L365.7,443.2 L368.5,442 L372.1,439.6 L374.4,438.6"/><path d="M363.2,423.2 L365.3,426.5 L365.9,430 L369.6,429.4 L370.6,433.5 L373.5,436.8 L374.4,438.6"/><path d="M376.2,460.4 L376.2,458.8 L377.8,453.8 L377.8,452.7 L380.7,447.2 L380.2,445.1 L380.8,440.1"/><path d="M374.4,438.6 L378,438.3 L380.8,440.1"/><path d="M401.7,460.5 L399.3,458.8 L399.2,457 L396.3,452.7 L393.5,450.2 L392.7,447.4 L390,445.8 L388.3,444 L386.9,442.6 L385,438.7"/><path d="M380.8,440.1 L385,438.7"/><path d="M408.9,429.9 L405.8,431.3 L403,431.5 L400,431.6 L395.5,433.1 L395.3,434.1 L391.9,434.1 L387.8,435.1"/><path d="M387.8,435.1 L385,438.7"/><path d="M308.7,238.4 L310.8,237.9 L316.6,238.7 L318.9,238.9"/><path d="M318.9,238.9 L321.9,235.4 L322.1,232.7"/><path d="M315,331.5 L318.6,329.8 L320.1,326.6 L323.1,325.5"/><path d="M315,331.5 L310.8,330.1 L308.6,329.6 L304.6,326"/><path d="M323.1,325.5 L319.9,323.6 L320,319.7 L318.1,316.7"/><path d="M318.1,316.7 L315.1,316.5 L310.7,315.5 L308.4,314.1"/><path d="M304.6,326 L306.6,322.6 L307.5,319 L306.3,317.9 L308.4,314.1"/><path d="M326.3,344.9 L324.1,343.9 L319.9,343.5 L315.3,345 L313.2,342.4"/><path d="M313.2,342.4 L313.6,337.2 L316.2,336 L315,331.5"/><path d="M330.6,340.7 L330,337.9 L329,333.7 L328.9,330.6 L329.1,329.9 L327,326.1"/><path d="M327,326.1 L323.1,325.5"/><path d="M326.3,344.9 L330.6,340.7"/><path d="M313.2,342.4 L312.5,343.1"/><path d="M291.8,330.2 L290.8,334 L291.4,336.9 L291.1,341.7 L291.7,343.5"/><path d="M291.8,330.2 L294.9,329.8 L297.2,328.6 L301.7,327.6 L304.6,326"/><path d="M312.5,343.1 L309.6,343 L305.1,343 L299.7,342.6 L298.8,342.3 L294.7,346 L291.7,343.5"/><path d="M288.7,311.2 L291.9,312.2 L295.1,311 L295.3,311.8 L302.1,312.6 L305,311.2 L307.1,312.1"/><path d="M288.7,311.2 L286.4,314.9 L282.4,316.3"/><path d="M291.8,330.2 L288.8,326.1 L285.9,324.3 L286.1,322.2 L282.8,319.9 L282.4,316.3"/><path d="M307.1,312.1 L308.4,314.1"/><path d="M597.6,354.5 L597.3,356.8 L594.3,360.6 L593.2,363 L592.2,366.9"/><path d="M592.2,366.9 L594.8,370.4"/><path d="M607.6,351.5 L603.6,352.8 L602.1,354.5 L597.6,354.5"/><path d="M607.6,351.5 L610.4,354 L613,356.1"/><path d="M613,356.1 L612.6,359.6 L610.3,362 L607.7,365.7 L607.5,367 L605.2,370.6"/><path d="M605.2,370.6 L600.9,370.2 L597,369.1 L594.8,370.4"/><path d="M578.6,386.9 L580.2,387.2 L584.3,383.8 L587.2,381.8 L589.5,379.4 L592.5,378.9"/><path d="M572.9,376.4 L575,380 L577.1,384.7 L578.6,386.9"/><path d="M592.2,366.9 L587.8,365 L584,364.6"/><path d="M572.9,376.4 L574.5,374 L576.3,371.9 L578.4,369.7 L581.6,366.6 L584,364.6"/><path d="M594.8,370.4 L594.8,375.9 L592.5,378.9"/><path d="M617.9,356.5 L620.3,358 L620.6,363 L622,364.9 L623.7,368.5"/><path d="M617.9,356.5 L621.9,355.4 L624,351.4 L626.4,349.7 L629.3,347.8"/><path d="M636.9,352.9 L635.5,352.1 L631.4,349.8 L629.3,347.8"/><path d="M636.9,352.9 L635.7,354.8 L636.3,359.2 L637,362.6 L634.2,366.9 L635.2,368.5"/><path d="M635.2,368.5 L630.8,368.3 L627.7,369.6 L623.7,368.5"/><path d="M613,356.1 L617.9,356.5"/><path d="M607.6,351.5 L605.1,348.1 L606.9,343.8"/><path d="M628.9,340.4 L629.8,346.6 L629.3,347.8"/><path d="M647.9,352.3 L644.9,353.3 L640.1,352.3 L636.9,352.9"/><path d="M639.2,372.3 L635.2,368.5"/><path d="M499.9,487.1 L498.8,481.6 L497.7,481.2 L497.7,478.6 L497.4,474.8"/><path d="M473.8,475 L471.7,477.7 L474.2,481.7 L473.3,486.5 L472.4,488.6"/><path d="M473.8,475 L479.6,473.6 L481.4,471.9 L482.7,469.7 L486.8,468"/><path d="M486.8,468 L487.2,470.2 L491.7,471 L495.1,473 L497.4,474.8"/><path d="M519.6,472.6 L516.2,470.1 L515.4,468.5 L512.3,465 L508.7,463.8"/><path d="M497.4,474.8 L497.8,473.2 L501.4,469.4 L505.1,467.8 L506.7,465.9 L508.7,463.8"/><path d="M586.6,345.6 L585.3,349 L582.6,353.7 L582.7,356.1 L580.7,358.9"/><path d="M586.6,345.6 L586.4,345"/><path d="M567.9,356.2 L571,355.8 L574.8,357.3 L576.9,357.3 L580.7,358.9"/><path d="M567.9,356.2 L569.1,352.9 L567.6,350.7 L568.1,347.2"/><path d="M597.6,354.5 L595.1,351.6 L592.9,348.8 L589.3,347.2 L586.6,345.6"/><path d="M584,364.6 L582.6,363.9 L580.7,358.9"/><path d="M572.9,376.4 L568.4,376.3 L568.5,372.2 L564.6,372.8"/><path d="M564.5,359.7 L563.5,363.1 L563.6,366.5 L565.1,369.8 L564.6,372.8"/><path d="M564.5,359.7 L567.9,356.2"/><path d="M546.9,354.9 L549.4,354.5 L554.5,355.8 L554.6,357.5 L559,357.3 L560.2,360.2 L564.5,359.7"/><path d="M546.8,344.8 L548.5,350.4 L546.9,352.2 L546.9,354.9"/><path d="M466.8,400.9 L468.5,404.2 L467.8,408.6 L468.1,410.7"/><path d="M456.7,398.7 L459.9,400.2 L462.3,399.8 L466.8,400.9"/><path d="M449.7,415.9 L453.5,417.6 L457.6,418.1"/><path d="M468.1,410.7 L465.9,411.8 L460.2,416.6 L459.7,416.1 L457.6,418.1"/><path d="M442.7,350.4 L446.7,349.4 L449.7,347"/><path d="M449.7,347 L450.5,341.8"/><path d="M522.7,320.6 L526.9,321.7 L529.4,323.3"/><path d="M447.1,384.4 L446.7,381.4 L448.6,378.5 L449.6,376.6 L447.8,372.2 L450.5,369.5 L449.7,366.2"/><path d="M463.2,382 L461,383.2 L457.2,386 L454.6,386.8"/><path d="M463.2,382 L464.8,379.4 L462.1,374.6 L461.6,371.6"/><path d="M461.6,371.6 L458.6,370.4 L454.3,369.3 L453.3,367.8 L449.7,366.2"/><path d="M445.7,364.2 L449.2,365.6"/><path d="M449.7,366.2 L449.2,365.6"/><path d="M198.2,408.3 L199.5,405.2 L200.5,403 L202.6,398.3 L202,395.5"/><path d="M198.2,408.3 L195.3,409.8 L191.6,410.5 L189.2,410 L184.3,409.4 L181.8,411.1 L178.1,412.5 L175,412.2"/><path d="M202,395.5 L200,396.4 L195,392.4 L193.2,390.3 L190.4,389.6 L189.7,389.2 L186,388.6 L181.5,387.5 L180,386.6 L178.8,382.1 L174.2,384"/><path d="M174.2,384 L173.9,388.3 L173.9,391.1 L174.7,394 L172.2,396.6 L173.2,400.6 L172.6,401.9 L172.7,405.5 L172,409.9"/><path d="M175,412.2 L172,409.9"/><path d="M202.4,418 L199.5,416.1 L200.7,412.3 L198.2,408.3"/><path d="M207.7,391.9 L203.6,394 L202,395.5"/><path d="M207.7,391.9 L210.4,395.1 L214.3,395.6 L214,398.1 L219.7,399.6 L219.1,401.4 L221.8,404.7 L224.2,405 L226.3,407.3 L228.4,409.4"/><path d="M220.3,421 L221.5,417.7 L226.3,417.4 L228.4,414.8"/><path d="M228.4,409.4 L228.4,414.8"/><path d="M196.9,428.7 L193.3,428.2 L189.6,430.6 L187.7,430.8 L183.7,432.4 L180.6,431.7"/><path d="M180.6,431.7 L178.7,428.2 L179.3,425.5 L179.5,421.2 L178.6,416.7 L176.5,417 L175,412.2"/><path d="M180.6,431.7 L178.6,435.2 L177.3,437.8 L177.1,439.8 L174.2,442.8"/><path d="M158.3,434.2 L160.8,436.2 L163.4,437.1 L164.8,438.5 L168.6,440.7 L170.8,440.7 L174.2,442.8"/><path d="M156,414.1 L157.6,413.9 L161.6,413 L164,411.3 L168.5,409.3 L172,409.9"/><path d="M235.3,349.1 L237.7,346.3 L241.3,347 L243.4,346.5 L247.9,342.9 L251.4,342.7 L254.8,342"/><path d="M235.3,349.1 L233.4,347.8 L228.3,347.2 L226.1,343.9 L223.4,342 L220.6,342.7 L217.6,339.4 L212.8,336.5 L213.5,337.4 L209.3,334.6"/><path d="M228,313.4 L224.6,314.8 L224.2,317.2 L220.8,320 L219.7,321.3 L216.5,326.3 L214.4,327.2 L211.1,328.7 L209.3,331.3"/><path d="M229.4,313.4 L228,313.4"/><path d="M255.2,332.1 L253.9,334.7 L254.9,338.9 L254.8,342"/><path d="M229.4,313.4 L233.8,315.9 L236.1,317.9 L235.6,321 L240.7,321.4 L240.3,321.7 L245.9,323.9 L246.6,326.5 L249.5,328.6 L251.6,330.4 L255.2,332.1"/><path d="M209.3,334.6 L209.3,331.3"/><path d="M224.7,267.3 L227.9,264.7"/><path d="M236.9,265.2 L238.9,268.8 L240.4,271.2 L243,274.2"/><path d="M243,274.2 L241.7,277.1"/><path d="M226.4,276.3 L228.1,279 L233.1,281.2"/><path d="M241.7,277.1 L239.1,278.9 L235.5,279.2 L233.1,281.2"/><path d="M218.2,280.6 L218.7,284.1 L217,287.3"/><path d="M224.8,293.6 L222.7,291.4 L219.7,287.8 L217,287.3"/><path d="M224.8,293.6 L227.9,291 L229.4,286.9 L232.5,285.6"/><path d="M233.1,281.2 L232.5,285.6"/><path d="M261.3,247.1 L258.9,249.7 L257.9,255 L256.9,256.1 L254.7,259.6"/><path d="M272.7,256.8 L268.9,259.9 L267.8,259.4 L263.6,262.8"/><path d="M263.6,262.8 L259.6,260.1 L257.9,261.1 L254.7,259.6"/><path d="M243,274.2 L247.4,270.7 L250.2,270.1"/><path d="M244.2,254.5 L247.5,256.9 L249.6,258.1 L252.7,260.2"/><path d="M250.2,270.1 L250.8,267 L252.7,262.4 L252.7,260.2"/><path d="M252.7,260.2 L254.7,259.6"/><path d="M263.6,262.8 L263,267.3 L264.2,267.5 L265.5,271.6"/><path d="M250.2,270.1 L253.4,271.5 L254.7,273.5 L258.1,275.4"/><path d="M258.1,275.4 L261.7,274.4 L265.5,271.6"/><path d="M278.4,269.8 L275.8,271.8 L272,274.2"/><path d="M272,274.2 L267.2,272.2 L265.5,271.6"/><path d="M216.6,251.2 L214.1,254.3"/><path d="M216.6,251.2 L217.6,249.3 L216.4,245.6 L216.1,241.9"/><path d="M214.1,254.3 L210.7,254.1 L208.1,255.3 L205.1,257.2 L201.5,256.5"/><path d="M201.5,256.5 L200.2,252.9 L200.5,251.2 L203.3,245.9 L204.9,243.7 L203.9,240.5"/><path d="M203.9,240.5 L206.7,240.6 L211.1,239.7 L214.2,240.1"/><path d="M216.1,241.9 L214.2,240.1"/><path d="M229.4,252.1 L226.1,251.2 L223.2,250.2 L219.1,252.1 L216.6,251.2"/><path d="M220,265.8 L217,262.6 L215.6,259.3 L214.3,257.2 L214.1,254.3"/><path d="M231.3,236.9 L228.3,238.3 L225.7,239.2 L221.9,239 L220.2,241.5 L216.1,241.9"/><path d="M207.3,273.2 L203.8,274.6 L200.1,271.1 L198.6,272.7 L194.7,272.9 L191.3,273.2"/><path d="M189.8,265.2 L193.5,263.2 L196.5,261.4 L197.9,259.2 L201.5,256.5"/><path d="M191.3,273.2 L190.4,268.4 L189.8,265.2"/><path d="M182.6,257.5 L185.5,259.2 L186.7,261.3 L189.8,265.2"/><path d="M197.1,233.5 L198,236.1 L203.7,238.7 L203.9,240.5"/><path d="M214.2,228.1 L212.7,232.2 L214.1,236.1 L214.2,240.1"/><path d="M234.3,595.2 L236,594.3 L237.7,591.9 L242.8,590.1"/><path d="M250,615.8 L251.6,612.5 L253.1,609.2 L256.8,609.3 L257.7,605.4"/><path d="M257.7,605.4 L255.9,601.1 L255.8,597.7"/><path d="M246.5,616.3 L250,615.8"/><path d="M242.8,590.1 L246.8,591.4 L249.5,592.9 L253.1,595.9 L255.8,597.7"/><path d="M259.8,347.8 L259.8,352.4 L260.7,356.1 L261.5,358.3 L263.2,360.3 L261.6,363 L263,368 L262.6,370.4 L263.6,373.9"/><path d="M254.8,342 L256.8,346 L259.8,347.8"/><path d="M226.8,374 L230.3,376.1 L232.7,377.1 L233.1,378.1 L237.1,380.5 L239.4,381.5 L243.1,384"/><path d="M226.8,374 L226.9,371.7 L230.1,369.2 L229.6,365.2 L231,364.5 L232.4,359.2 L232.5,355.6 L233.7,351.4 L235.3,349.1"/><path d="M243.1,384 L244.7,382.9 L250.1,380.7 L251.7,380.7 L254.5,379.9 L259.3,377.5 L259.4,374.5 L263.6,373.9"/><path d="M226.8,374 L223,374.6 L221.9,375.8 L219.7,374.9 L214.8,375.8"/><path d="M214.8,375.8 L214.6,379.5 L212.3,382.1 L210.8,385.8 L207.8,389.3 L207.7,391.9"/><path d="M228.4,409.4 L229.5,405.2 L230.5,404.4 L233.6,401.9 L235.9,398.1 L237.6,398.1 L240.8,392 L242.7,391.5"/><path d="M243.1,384 L244.2,387.3 L242.7,391.5"/><path d="M294.2,388.1 L290.4,391.1 L289.5,395.1"/><path d="M291,369.8 L291.3,372.3 L292,376.2 L292.1,379.5 L292.7,380.5 L293.7,384.9 L294.2,388.1"/><path d="M289.6,368.2 L286,369.4 L283.9,369.3 L279,370.9 L277.2,371.3 L272.8,373.4 L271.5,373.5 L267.8,373.3 L264.4,374.4"/><path d="M291,369.8 L289.6,368.2"/><path d="M289.5,395.1 L287,393.2 L282.3,392.6 L280.3,391.1 L277.2,390.9 L272.8,389.3"/><path d="M272.8,389.3 L270.2,386.3 L268.7,383.7 L268.1,380.2 L266.5,378.5 L264.4,374.4"/><path d="M293.1,356.1 L291.3,351.4 L290.8,348.3 L290.5,345.5"/><path d="M293.1,356.1 L290.5,358.9 L291.7,362.9 L290.9,365.7 L289.6,368.2"/><path d="M290.5,345.5 L288.7,344.6 L284.3,345 L281.6,346 L279.7,346.4 L274.1,346.1 L270,346.8 L269.8,348.1 L265.4,348.6 L262.7,346.4 L259.8,347.8"/><path d="M264.4,374.4 L263.6,373.9"/><path d="M272.8,389.3 L270.3,392.2 L270.9,393.2 L268.9,398.9 L268.4,400.5 L266.9,403.7 L268.2,407 L265.2,408.7 L263.4,412.2"/><path d="M289.5,395.1 L290.5,399.2 L291,401.7 L293.6,404.8 L293.5,407.5 L294.6,409.6"/><path d="M294.6,409.6 L293.6,412.6 L288.9,412.9 L286.3,414.2 L284.4,417.1"/><path d="M284.4,417.1 L281.7,415.9 L278.2,417.2 L275.5,415.7 L272.9,414.9 L270.4,413.1 L267,413.3 L263.4,412.2"/><path d="M241.7,435.5 L245.2,438 L249,438 L251.6,438.6 L255.7,439.3"/><path d="M241.7,435.5 L241.9,432.1 L239.8,428.9 L239.1,425 L238.3,421.1"/><path d="M238.3,421.1 L239.7,420.9 L243.9,418.7 L248.2,416.6 L251.3,415.3 L254.1,415.5 L258,414.6 L260.8,412.9"/><path d="M255.7,439.3 L259.8,437.8 L261.5,435.1"/><path d="M261.5,435.1 L261.8,432 L261.9,428.3 L258.7,426.6 L261.8,421.9 L261.5,420.1 L260.2,414.1 L261.4,413"/><path d="M260.8,412.9 L261.4,413"/><path d="M255.3,458 L252.3,460.9 L247,461.2"/><path d="M255.3,458 L256.3,455 L255.6,451.3 L254.8,447.1 L254.1,446.8 L257,440.6 L255.7,439.3"/><path d="M231.2,445.4 L234.4,440.8 L236.5,441.1 L241,436.7 L241.7,435.5"/><path d="M228.4,414.8 L232.7,417.2 L236.3,419.1 L238.3,421.1"/><path d="M242.7,391.5 L246.7,394.7 L246.7,396.7 L249.2,399.7 L253.8,400.4 L252.8,404.7 L254.9,404.8 L257.3,407.2 L258.1,410.7 L260.8,412.9"/><path d="M263.4,412.2 L261.4,413"/><path d="M242.8,590.1 L245.1,588.4 L247.1,583.7 L248.3,580.5 L248.7,577.9 L249.5,575.4"/><path d="M249.5,575.4 L248.5,571.2 L247.3,568.7"/><path d="M231.8,559.9 L233.6,559.1"/><path d="M247.3,568.7 L244.7,566.1 L241.5,564.9 L239.5,564.5 L235.9,564.1 L233.6,559.1"/><path d="M266.1,522.3 L271,523.7 L272.1,525.8"/><path d="M272.1,525.8 L274.3,525.4 L277.3,522.9 L282.4,521.1"/><path d="M271.1,502 L274.3,501.6 L279.2,500.7 L281.1,502.6 L284,503"/><path d="M282.4,521.1 L283.1,518.2 L283.1,515.7 L282.5,513.1 L283.1,506.8 L282.5,505.1 L284,503"/><path d="M284.4,417.1 L284.4,419.3 L284.3,423.8 L284.1,426.7 L283.9,429.2 L283.6,433.2 L284.7,435.1 L283.4,438.6"/><path d="M261.5,435.1 L265.4,436.8 L269.1,436.9 L271.3,438 L273.6,439.2 L277.4,440.1 L281.3,440.8"/><path d="M281.3,440.8 L283.4,438.6"/><path d="M294.6,409.6 L298.3,410.8 L301.9,410.1 L305.6,410.7 L307.6,412.7"/><path d="M307.6,412.7 L311.7,417.5 L312.3,419.9"/><path d="M312.3,419.9 L312.5,422.5 L309.6,425.1 L308.9,428.2 L305.8,429.9 L304.6,432.9 L302,436.6 L301.2,438.7"/><path d="M283.4,438.6 L286.5,438.5 L291.1,438.6 L294.2,439.1 L297.4,439.7 L301.2,438.7"/><path d="M312.3,419.9 L315.3,421.1 L318.1,423 L322.8,422.4 L323.8,424.6"/><path d="M326.8,452.5 L322.9,454.9"/><path d="M322.9,454.9 L319.2,454.4 L314.5,453 L312.3,452.5 L309.4,451.5"/><path d="M301.2,438.7 L301.5,442 L304.9,444.4 L305.3,447.5 L307,450.8 L309.4,451.5"/><path d="M322.9,454.9 L324.7,458.5 L320.8,460 L321.1,464.5 L318.1,467.6 L319.5,471.3"/><path d="M351.2,470.3 L349,470.9 L346.1,474.3 L343.9,475 L339.7,478.5 L337.3,478.2 L334.6,481.9 L332.2,484.1"/><path d="M319.5,471.3 L320.7,473.7 L323.7,476.2 L324.1,478.4 L328.3,481.3 L331.6,482.8 L332.2,484.1"/><path d="M360.1,619.7 L358.5,617.8"/><path d="M358.5,617.8 L355.5,619.2 L351.7,617.4"/><path d="M351.7,617.4 L350.5,619.6 L344.9,621.7 L344.6,626.2"/><path d="M313.3,654.3 L316.4,651.2 L316.7,649.5 L319.8,647.9 L322.2,645.5"/><path d="M321.4,664.2 L318.7,660.7 L316.3,659.5 L315,657.4 L313.3,654.3"/><path d="M321.4,664.2 L325.7,662.4 L328.6,661.1 L330.6,660.2 L334.1,658.1"/><path d="M333.6,650.8 L329.7,650.9 L327,648.4 L325.5,646.7 L322.2,645.5"/><path d="M334.5,612.7 L335.1,618.1 L336.1,619.5 L336.8,620.9 L337.9,626.9 L338.6,629.6"/><path d="M334.5,612.7 L338.4,612.4 L340.1,609.6 L342.8,610.2 L346.5,608.9"/><path d="M346.5,608.9 L346.3,612.6 L350.8,613.7 L351.7,617.4"/><path d="M269.9,675.2 L270.5,672.7 L269.2,670 L267.3,665.8 L266.3,663.7 L266.8,657.4 L266.8,656.7 L264.6,653.6"/><path d="M269.9,675.2 L267.6,676.8 L263.8,675 L260.6,676.5 L257,677.1 L252.9,676.2 L251.5,677.9"/><path d="M251.5,677.9 L249.1,674.4"/><path d="M249.1,674.4 L249.6,670.7 L252.2,668.3 L250.5,664.4 L252.2,662.2 L251.5,660.9 L253.3,656.7"/><path d="M253.3,656.7 L256.7,653.8 L260.2,654.2 L264.6,653.6"/><path d="M234.1,669.1 L237.3,669.8 L240.2,671.9 L243.5,671.8 L246.2,671.3 L249.1,674.4"/><path d="M247.6,691.1 L247.9,687.2 L249.2,685 L251,681.4 L251.5,677.9"/><path d="M239.9,650.4 L243.1,651.8 L246.9,654.5 L250.6,655.5 L253.3,656.7"/><path d="M262.4,637.3 L263.1,640.6 L264,643.4 L264,647 L264.2,649.5 L264.7,653.4"/><path d="M262.4,637.3 L259.5,637.5 L258.5,635.6 L251.8,637.1 L249.4,638.3 L246.1,637.6 L244,637.7 L239.1,638.3"/><path d="M264.7,653.4 L264.6,653.6"/><path d="M286.9,653.7 L288.4,655.5 L289.2,661.1 L290.2,664.7"/><path d="M286.9,653.7 L289.7,651.2 L293.2,650.9 L297.3,647.8 L299,646.9 L302.4,644.7"/><path d="M290.2,664.7 L294.6,664.9 L298.4,664.7 L302,664.8"/><path d="M302,664.8 L305.8,661.2 L306.1,659.9 L310.1,655.9 L310.9,654.2"/><path d="M302.4,644.7 L303.9,647.1 L307,650.6 L310,649.8 L310.9,654.2"/><path d="M271.8,676.4 L273.3,676.9 L278.8,673.8 L280,673.5 L284,672.6 L287.2,670.6"/><path d="M287.2,670.6 L287.6,668 L290.2,664.7"/><path d="M271.8,676.4 L269.9,675.2"/><path d="M264.7,653.4 L267.2,655 L273.1,652.6 L273.9,653.5 L277.9,650.6 L281.2,651.7 L284.1,651.4"/><path d="M284.1,651.4 L286.9,653.7"/><path d="M267.5,605.5 L270.9,607.3 L272.3,610.9"/><path d="M272.3,610.9 L275.4,608.6 L279.2,609.3 L281.4,606.1 L284.3,606.8"/><path d="M285.5,599 L282.2,597.3 L278.9,597.5 L277.7,595.9 L273.2,594.1"/><path d="M267.5,605.5 L268.8,603.7 L271.1,599.4 L273.7,597.3 L273.2,594.1"/><path d="M285.5,599 L285.7,599.4"/><path d="M285.7,599.4 L283.9,604.4 L284.3,606.8"/><path d="M285.5,599 L287.9,594.3 L287.5,591.9 L288,588.6 L289.6,584.6"/><path d="M302.2,589.5 L298.6,589.4 L295.3,588.2 L293.1,586.3 L289.6,584.6"/><path d="M302.2,589.5 L302.9,594.7 L299.1,595 L301.2,600.2"/><path d="M285.7,599.4 L289,597.8 L291.5,600.6 L295.6,598.4 L297.5,600.5 L301.2,600.2"/><path d="M263.8,634.8 L266.9,634.8 L268,633.6 L273.9,634.1 L276.2,633.2 L279.9,633.9 L282.8,632.8"/><path d="M263.8,634.8 L261.8,630.6 L262.6,626.5 L261.3,624.2"/><path d="M261.3,624.2 L264.9,622.5 L265.9,619.8 L270.2,619.9 L271.8,616.9"/><path d="M271.8,616.9 L274.5,620.3 L277.2,621.8 L279.1,623.3 L283.4,625.4"/><path d="M283.4,625.4 L285,630"/><path d="M282.8,632.8 L285,630"/><path d="M262.4,637.3 L263.8,634.8"/><path d="M284.1,651.4 L283.2,648.5 L283.7,643.3 L283.9,641.9 L284.2,640.7 L282,635.4 L282.8,632.8"/><path d="M250,615.8 L254,618.4 L255.3,620.6 L258.9,620.1 L261.3,624.2"/><path d="M257.7,605.4 L260.8,603.6 L264.4,606.1 L267.5,605.5"/><path d="M272.3,610.9 L273.6,613.6 L271.8,616.9"/><path d="M284.3,606.8 L287.3,611.7"/><path d="M287.3,611.7 L286.5,616.7 L286,618.9 L285.3,622.7 L283.4,625.4"/><path d="M202.6,452.7 L200.9,453.5"/><path d="M174.2,442.8 L174.5,444.7"/><path d="M200.9,453.5 L199.1,453.3 L197.1,451.5 L192.3,451.1 L188.1,449.9 L186.7,447.2 L183,447.2 L182.5,444.9 L179.3,446.3 L174.5,444.7"/><path d="M214.8,482 L211.3,481.3 L211,480.1 L204.1,478.5 L203.4,477.9 L198.8,477 L196.4,475.3 L194,476 L190.2,474.3"/><path d="M200.9,453.5 L199.7,456.6 L196.2,458.9 L196.3,464.6 L195.8,463.9 L194.8,467.1 L191.5,470.6 L190.2,474.3"/><path d="M203.1,503.5 L201,501.1 L198.1,500.3 L195.9,497.9 L193.2,496.7 L189.1,495.5 L188.2,493"/><path d="M188.2,493 L188.8,490.3 L189.2,488.5 L189,483.3 L189.1,479.8 L189.2,476.6 L189.5,474.7"/><path d="M190.2,474.3 L189.5,474.7"/><path d="M189.6,518.9 L192.7,516.7 L197.5,516.4"/><path d="M189.6,518.9 L188,522.5 L185.4,524.3 L186.9,528.3 L183.8,530.7 L183,532.8 L181.6,538.6 L180.4,540.2"/><path d="M197.5,516.4 L200.2,518.6 L200.8,520.8 L205.2,523.2 L205,526 L207.5,531.6 L209.9,532.4"/><path d="M209.9,532.4 L208.7,535.5 L206.1,537.7 L205.1,540.6 L203.8,544.7 L203.2,546.6 L201.5,550"/><path d="M201.5,550 L199,549.9 L195.2,547.3 L192.1,547.1 L188.7,544.2 L186.6,541.9 L183,541.2 L180.4,540.2"/><path d="M188.2,493 L184.9,494.6 L182.8,495.9 L179.3,496.9 L176.6,497.6 L173.4,499.3"/><path d="M175.4,511.1 L176.8,512.7 L181.9,513.3 L184.5,516.7 L186.6,517.8 L189.6,518.9"/><path d="M203.3,504.6 L203.3,509.1 L199.9,510.5 L199,512.3 L197.5,516.4"/><path d="M177.6,540.9 L180.4,540.2"/><path d="M225.5,528.8 L221.3,528.9 L218,530.6 L216,530.8 L212.2,532.1 L209.9,532.4"/><path d="M237.1,539.6 L237.8,544.7"/><path d="M233.6,559.1 L235.4,557 L236.5,550.1 L236.8,546.4 L237.8,544.7"/><path d="M202.4,552.6 L201.5,550"/><path d="M383.7,600.3 L380.5,599.9"/><path d="M374.8,611.7 L373.3,608.4"/><path d="M373.3,608.4 L373.7,606.3 L377.6,603.4 L380.5,599.9"/><path d="M321.6,731.3 L320,728.1 L319.9,724.1 L318.1,720.5 L317.7,718.5 L315.4,715.6"/><path d="M315.4,715.6 L318.2,716.7 L320.9,710.8 L324.2,710.8 L328.9,710.6 L329.7,709.4 L332,707.8"/><path d="M297.8,723.3 L299,721.8 L302,720 L305,717.6 L308.2,718.4 L311.6,716.6 L313.9,715"/><path d="M315.4,715.6 L313.9,715"/><path d="M334,703 L332.4,700.6 L328.3,699 L325,697.1 L324.4,695.4 L321.7,693.7"/><path d="M335.9,677.5 L333,676 L329.1,677.6 L326.9,677.3 L323.8,678.7"/><path d="M321.7,693.7 L324.1,690.1 L322.6,687.4 L323.7,685.7 L322.9,679.9 L323.8,678.7"/><path d="M313.3,654.3 L310.9,654.2"/><path d="M321.4,664.2 L320.2,668.1 L319.9,670.1 L319.2,674.3"/><path d="M302,664.8 L302.9,666.8 L307.8,669.7 L307.7,671.7 L311,674.9"/><path d="M311,674.9 L316,673.1 L319.2,674.3"/><path d="M323.8,678.7 L323.6,676.6 L319.2,674.3"/><path d="M278.3,709.4 L276.4,706.3 L273.7,703.6 L269.3,702.9 L268.1,701.3 L266.6,700.5 L264.3,697.4"/><path d="M278.3,709.4 L282,706.2 L282,703.9 L283.1,702.4 L283.6,697.1 L286,695"/><path d="M286,695 L281.8,691.8 L280.1,692.4 L278.8,690.1 L274,688.1 L272.9,686.3"/><path d="M264.3,697.4 L263.7,694.4 L268.9,691.9 L269.2,689.6 L272.9,686.3"/><path d="M258.2,698.8 L261.8,697.8 L264.3,697.4"/><path d="M278.7,712.4 L278.3,709.4"/><path d="M271.8,676.4 L272.4,680.2 L273.7,682.7 L272.9,686.3"/><path d="M341.4,525.5 L343.4,522.7 L346.4,521.5 L348.6,519.9"/><path d="M341.4,525.5 L340.3,522.4 L337.8,518.7 L333.6,518.6 L334,516.1 L330.7,513.2"/><path d="M348.6,519.9 L348.2,518.4 L346.8,514.4 L345.4,509.5 L344.6,508.7 L344.5,504.9 L343.3,501.6"/><path d="M330.7,513.2 L330.9,510.5 L330.5,505.7 L331.5,501.8 L331.1,500"/><path d="M343.3,501.6 L341.9,500.7 L338.4,503.2 L334.4,500.4 L331.3,499.8"/><path d="M331.3,499.8 L331.1,500"/><path d="M339.9,532.8 L340,530.4 L341.4,525.5"/><path d="M339.9,532.8 L337,532.2 L333.3,531.3 L330.2,532.7"/><path d="M323.6,523.3 L326.6,526.1 L326.4,529.4 L330.2,532.7"/><path d="M323.6,523.3 L324.9,520.8 L328.4,519.1 L328.4,517.5 L330.7,513.2"/><path d="M363,505.7 L362.2,509.8 L361.3,512.7 L360.5,516.2 L359.7,519.1 L358.5,521.5"/><path d="M358.5,521.5 L355.4,520.4 L352.3,519.7 L348.6,519.9"/><path d="M355,498.1 L351.4,498.3 L349.1,500.7 L346.8,500.1 L343.3,501.6"/><path d="M332.2,484.1 L332.4,487.8 L331.8,489.9 L331.6,493.2 L331.5,497.2 L331.3,499.8"/><path d="M361.2,531.3 L362,527.1"/><path d="M361.2,531.3 L361.5,534.5 L363.8,537.1 L365.8,539.5 L366.8,542.2"/><path d="M362,527.1 L366,526.4 L367,524.4 L372.2,524.3 L373.7,523.5"/><path d="M366.8,542.2 L370.1,542.9 L372.7,539.5 L375.2,538.6 L378.3,539.1 L380.3,536 L384.1,536.1 L386.6,535.1"/><path d="M373.7,523.5 L377.3,526 L378.3,527.3 L381.6,530.6 L383.5,532.8 L386.6,535.1"/><path d="M343.6,538 L342.7,536.1 L339.9,532.8"/><path d="M343.6,538 L345.1,537.9 L349.2,537.6 L354.6,533.1 L355.1,532.8 L357.3,534 L361.2,531.3"/><path d="M358.5,521.5 L359.8,525.3 L362,527.1"/><path d="M355.8,551.5 L353,549.7 L350.3,548.6 L347.2,546.6 L343.7,544.6"/><path d="M343.7,544.6 L345.5,541.4 L343.6,538"/><path d="M355.8,551.5 L358.3,549.6 L361.3,547 L365.4,545 L366.7,542.7"/><path d="M366.7,542.7 L366.8,542.2"/><path d="M378.3,508.1 L379.4,512.7 L377.1,514.4 L375.6,517.4 L375,519.6 L373.7,523.5"/><path d="M468.1,410.7 L470.3,412.7 L473.5,413 L478.3,415.3"/><path d="M478.3,415.3 L476.4,418 L476.9,422.6 L475.5,425.5 L475.1,425.7 L474.2,430.3"/><path d="M457.6,418.1 L459.1,420.9 L462.6,423.9 L463.7,426 L463.9,430.1 L465.8,431.7"/><path d="M474.2,430.3 L469.5,433.4 L465.8,431.7"/><path d="M397.7,361.6 L396.2,359.4"/><path d="M416.5,354.6 L413.3,354.6 L409.6,351.8 L406,350.7 L402.6,349.1 L399.6,348.7"/><path d="M399.6,348.7 L399.6,352.5 L397.6,356.1 L396.2,359.4"/><path d="M337,321.2 L342.5,323.2"/><path d="M327,326.1 L330.4,324.7 L332.8,324 L337,321.2"/><path d="M330.6,340.7 L334.1,341.6 L338.7,341.4 L342.2,341 L343.9,342.2"/><path d="M343.9,342.2 L346.1,337.5 L348,334.6"/><path d="M348,334.6 L345.7,332.5 L344.8,329.8 L343.4,326.3 L342.5,323.2"/><path d="M396.2,359.4 L393.4,357.5 L390,360.5 L388.3,359.6 L383.3,360.7"/><path d="M397.7,376.2 L395.9,377.1"/><path d="M395.9,377.1 L392.1,374.9 L387.1,374.6 L385.5,373.8 L382,371.7"/><path d="M382,371.7 L384.1,366.8 L382.6,364.1 L383.3,360.7"/><path d="M307.6,412.7 L310.9,409.2 L311.3,407.3 L312.5,402.9 L314,401.3 L315.6,398.2 L318.7,395.7 L320.4,392.8 L321.7,389.9"/><path d="M294.2,388.1 L298.5,387.8 L302.2,387 L305,385.9 L308.7,384.9"/><path d="M321.7,389.9 L317.6,388.9 L314.5,387.3 L311,385.4 L308.7,384.9"/><path d="M341.3,410.7 L341.8,408.1"/><path d="M341.8,408.1 L339.4,406.3 L339.2,403.7 L335.7,400.6 L333.9,399.2 L331.8,396.1 L332.5,392.5 L329.3,390.6"/><path d="M329.3,390.6 L325.3,390.2 L322.5,389.6"/><path d="M321.7,389.9 L322.5,389.6"/><path d="M291,369.8 L292.9,369 L299.5,371.1 L299.9,370.6 L304.4,372.5"/><path d="M308.7,384.9 L307,382.2 L305.5,379.5 L306.7,374.8 L304.4,372.5"/><path d="M360.4,386.7 L356.8,386.1 L353.7,385.2 L352.5,380.9"/><path d="M360.4,386.7 L363.2,383.1 L363.3,379.9 L365.2,379.3 L368.8,377.2 L370.1,373.1"/><path d="M352.5,380.9 L352,377.3 L352.6,371.6 L352.9,370.1"/><path d="M352.9,370.1 L356,367.5 L360,366.9 L360.7,363.5 L365.6,362.4"/><path d="M370.1,373.1 L368.2,369.6 L367.6,364.6 L365.6,362.4"/><path d="M362,352.4 L357.6,352.7 L356.4,352.7 L352.6,353.3 L349.5,351.1 L345.9,352.8"/><path d="M343,358 L345.9,352.8"/><path d="M366.1,360.7 L365.6,362.4"/><path d="M362,352.4 L363.1,356.6 L365.4,357 L366.1,360.7"/><path d="M343,358 L345.9,362.5 L348.3,363 L348.5,365.1 L352.1,368.7 L352.9,370.1"/><path d="M381,358.6 L383.3,360.7"/><path d="M366.1,360.7 L368.9,358.5 L371.2,360.5 L372.5,360.1 L377.3,357.9 L381,358.6"/><path d="M380,373.5 L382,371.7"/><path d="M380,373.5 L376.2,373.7 L373.6,372.3 L370.1,373.1"/><path d="M370.8,409.7 L373.6,409.1 L376.9,408.8 L382.1,409 L383.3,410.2"/><path d="M370.8,409.7 L369.4,406.5 L364.8,403.6 L364.8,400 L361,398.4"/><path d="M361.9,389.9 L361,394.8 L361,398.4"/><path d="M361.9,389.9 L365.2,390.6 L368.8,388.5 L372.2,389.9 L374.6,387.2 L376.1,388.3 L380,387.3"/><path d="M380,387.3 L385.2,388.7 L385,393 L387.9,392.1"/><path d="M383.3,410.2 L387.7,408.3 L390.1,403.9 L392.4,402.7"/><path d="M392.4,402.7 L389.9,398.1 L389.2,394.8 L387.9,392.1"/><path d="M363.2,423.2 L364.7,421.7 L365.6,418.5 L368.7,417 L369.2,411.3 L370.8,409.7"/><path d="M387.8,435.1 L387.3,431.7 L387.2,428.8 L385,426.9 L384.4,423.1 L385.9,419.4 L384.3,415.6 L384.1,413.4 L383.3,410.2"/><path d="M341.8,408.1 L343.7,406.6 L346.9,405.6 L350.6,403.8 L352,402.4 L354.7,401.8 L358.1,401 L361,398.4"/><path d="M329.3,390.6 L331.3,388.4 L336.1,387.5 L335.2,386.2 L338.9,383.1"/><path d="M338.9,383.1 L342.1,382.3 L347,381.9 L350.9,380.8 L352.5,380.9"/><path d="M360.4,386.7 L361.9,389.9"/><path d="M380,373.5 L381.1,377.6 L379.6,380.7 L379.8,383.6 L380,387.3"/><path d="M395.9,377.1 L395,378.6 L393.4,382.3 L390.7,386.5 L389.5,390 L387.9,392.1"/><path d="M401.2,403.6 L396.7,404 L392.4,402.7"/><path d="M321.3,271.9 L323.9,270.4 L328.7,270.7 L329,270.3 L335,270.6 L336.8,268.6 L339.6,267.2"/><path d="M321.3,271.9 L319.3,267.4 L320.9,265 L320.4,259.7 L318.8,257.3"/><path d="M340.9,265.5 L339.3,261.5 L335.3,259.8 L334.8,259 L332.4,253.1 L330.5,252.4 L329.4,249.6"/><path d="M318.8,257.3 L321,255 L322.4,252 L325.1,249.3"/><path d="M325.1,249.3 L329.4,249.6"/><path d="M318.9,238.9 L321.7,240.3 L322.4,243.4 L324.5,248.2 L325.1,249.3"/><path d="M304.8,256.3 L307.3,255.4 L314.3,256.9 L315.6,256.9 L318.8,257.3"/><path d="M338.6,243.3 L334.9,245.3 L333.4,246.4 L329.4,249.6"/><path d="M350.8,316.8 L347.6,319.2 L344,319.9 L342.5,323.2"/><path d="M337,321.2 L336.7,316.5 L335.2,313.4 L334.7,310.1"/><path d="M350.8,316.8 L352.3,314.2 L350.8,309.9 L351.4,306.6 L352.4,303.5"/><path d="M334.7,310.1 L337.3,306.9 L340.7,306.7 L342.2,302.1 L347.1,302.4 L347.8,300.3"/><path d="M294.8,296 L299.8,294.7 L302.3,293.3"/><path d="M294.8,296 L292.1,295.1 L290.2,291.9 L285.4,289.2 L284.5,287.8"/><path d="M290,273.7 L289.6,275.6 L288.6,278.2 L286.4,281.2 L287,283.9 L284.5,287.8"/><path d="M297.4,270.5 L298.5,273.2 L303.1,275.2 L305.2,277.1"/><path d="M305.2,277.1 L305,279.2 L304.3,282.4 L303.9,286.6 L303.7,290.4 L302.3,293.3"/><path d="M321.3,271.9 L318.9,276"/><path d="M305.2,277.1 L310.2,276.6 L312.3,277.7 L316.4,277.6 L318.9,276"/><path d="M294.8,296 L293,297.9 L292.9,300.8 L292,304.5 L288.4,307.8 L288.7,311.2"/><path d="M307.1,312.1 L308.8,309.6 L309.7,305.3 L309.2,300.7 L310.6,299.1"/><path d="M302.3,293.3 L305.3,295.3 L307.6,297.3 L310.6,299.1"/><path d="M608.4,389.6 L609.5,386.3 L610.9,381.7 L611.9,378.2"/><path d="M624.4,391.1 L625.9,387.1 L628.1,384.4"/><path d="M628.1,384.4 L625.5,382.6 L623.5,380.5 L621.9,378.7 L620,375.5"/><path d="M620,375.5 L615.7,375.6 L611.9,378.2"/><path d="M578.6,386.9 L578.5,388.3"/><path d="M592.5,378.9 L595.3,380.5 L597.3,384.9 L599.9,386.5 L601.9,389.3"/><path d="M631.5,401.1 L631.3,398.2 L628,397.8 L625,393.8"/><path d="M605.2,370.6 L607.6,371.3 L608.3,375.8 L611.9,378.2"/><path d="M633.6,383.3 L628.1,384.4"/><path d="M623.7,368.5 L621.4,374.4 L620,375.5"/><path d="M471.7,361.9 L471.4,363.5"/><path d="M471.4,363.5 L474.4,366.1 L475.8,370.2 L476.4,372.6 L479.1,375.9"/><path d="M487.3,360.1 L485.7,360.4 L480.3,359.4 L478.4,363.6 L477.2,360.9 L471.7,361.9"/><path d="M487.3,360.1 L486.8,363.8 L489.6,365.9 L487.2,370.7 L489.6,372.2"/><path d="M489.6,372.2 L485.1,373.1 L482.4,374.2 L479.1,375.9"/><path d="M463.2,382 L464,383.9 L469.6,382.6 L470.9,385 L474.6,386.3"/><path d="M471.4,363.5 L469.2,365.5 L465.7,366.5 L464.1,371.3 L461.6,371.6"/><path d="M479.1,375.9 L477.2,378.7 L476.6,384.5 L474.6,386.3"/><path d="M466.8,400.9 L468.9,398.9 L470.6,396 L473.7,394.4"/><path d="M473.7,394.4 L473.4,391.5 L474.8,386.7"/><path d="M474.6,386.3 L474.8,386.7"/><path d="M508.3,395.9 L511.4,398"/><path d="M508.3,395.9 L505.7,396.8 L502.8,397.7 L498.5,398.1 L497.3,399.8 L493.4,400.6"/><path d="M511.4,398 L511.4,400.6 L512.2,405.4 L511.6,408.2"/><path d="M511.6,408.2 L509.5,410.2 L505.1,411.9 L503.5,414.6 L499.8,417.2 L496.9,418.5"/><path d="M493.4,400.6 L491.7,401.6 L489.6,406.8 L488.6,408.4"/><path d="M496.9,418.5 L495.2,414.1 L493,413.6 L488.6,410.3"/><path d="M488.6,410.3 L488.6,408.4"/><path d="M522.2,398.3 L516.8,396.4"/><path d="M533,409.3 L529.8,411.6 L528.2,412.8 L525.7,415.4 L522.2,417.3"/><path d="M522.2,417.3 L519.2,415.6 L516.8,412.4 L514.7,409.8 L511.6,408.2"/><path d="M516.8,396.4 L511.4,398"/><path d="M497.6,421.3 L501.1,424.3 L504,424.3 L508.4,425 L510.6,426.8"/><path d="M521.5,421.1 L518.3,422.8 L515.3,423.3 L513.5,425.8 L510.6,426.8"/><path d="M522.2,417.3 L521.5,421.1"/><path d="M497.6,421.3 L496.9,418.5"/><path d="M489.7,388.8 L487.3,388.2 L483.3,388.8 L481.9,386 L477.7,386.8 L474.8,386.7"/><path d="M473.7,394.4 L476.6,396.7 L477.3,398.9 L479.8,401.4 L484.1,402.6 L484,407 L488.6,408.4"/><path d="M489.7,388.8 L491.1,392.3 L492.4,394.3 L491.4,397.9 L493.4,400.6"/><path d="M478.3,415.3 L481.8,413.3 L486,411.8 L488.6,410.3"/><path d="M508.7,457.9 L507.4,456.1"/><path d="M508.7,457.9 L512.4,456.5 L514,457.7 L517.7,456.2 L521.7,454.8 L524.2,454.3 L527,454.4 L529.1,452.7"/><path d="M507.4,456.1 L507.2,452.7 L507.5,449.7 L508.7,445.5 L509.3,441.5"/><path d="M525.1,441 L521.2,439.9 L518.1,439.7 L515.7,441.5 L511.4,439.8"/><path d="M525.1,441 L529.1,443.2 L528.8,446.1 L530.5,449.5"/><path d="M509.3,441.5 L511.4,439.8"/><path d="M530.5,449.5 L529.1,452.7"/><path d="M508.7,463.8 L508.7,457.9"/><path d="M531.7,468.2 L530.3,466.4 L531.6,463.7 L530.2,458.7 L529.1,456.8 L529.1,452.7"/><path d="M527.7,430.3 L524.6,428 L521.8,424.9 L521.5,421.1"/><path d="M527.7,430.3 L526.4,433.3 L526.8,438.4 L525.1,441"/><path d="M510.6,426.8 L510.2,430.9 L510.2,433.8 L509.6,436.6 L511.4,439.8"/><path d="M536.8,428.7 L535.2,429.3 L529.1,428.4 L527.7,430.3"/><path d="M543,446.6 L538.8,447.2 L535.7,447.7 L534.3,447.8 L530.5,449.5"/><path d="M459,351.8 L462.6,348.7 L463.2,345"/><path d="M459,351.8 L459.4,354.1"/><path d="M459.4,354.1 L462.4,356 L465.9,356.7 L469.5,358.9 L471.5,361.2"/><path d="M475,349.1 L472.6,350.7 L473.5,356 L472.7,357.5 L471.5,361.2"/><path d="M449.7,347 L452.2,347.9 L454.4,348.5 L459,351.8"/><path d="M449.2,365.6 L449.6,363.7 L453.3,360.2 L455.9,359.9 L456.5,355.4 L459.4,354.1"/><path d="M471.7,361.9 L471.5,361.2"/><path d="M492.4,352.5 L490,354.2 L489,355.8 L487.3,360.1"/><path d="M214.8,375.8 L211.8,373.3 L207.8,370.7 L206.9,367.7"/><path d="M209.3,334.6 L206.7,336 L205.6,339.8"/><path d="M206.9,367.7 L205.2,366.5 L206.3,361.8 L207.1,358.3 L204.8,354.4 L205.8,352.3 L205.2,348.3 L205.7,346.7 L205.6,342.9 L205.6,339.8"/><path d="M224.4,306.7 L221.5,304.3 L219.6,305.4 L216.7,302.3 L212.2,302.2 L210.3,301.2 L208.6,299.3 L204.5,298.7 L202,296.2"/><path d="M228,313.4 L226.9,310.4 L224.4,306.7"/><path d="M209.3,331.3 L207.6,329 L205.5,326.9 L202.3,323.9 L199.5,322.1 L198.7,319.3 L192.7,316.2 L192.1,314.7"/><path d="M192.1,314.7 L192.3,311.4 L196.1,310.3 L196.4,305.4 L198.9,303.6 L200.3,300.8 L199.8,298.3 L202,296.2"/><path d="M191.3,273.2 L191,274.8"/><path d="M217,287.3 L213.4,285.7 L209.8,288.4 L207.7,288.6 L203.8,293.1 L201.7,292.5"/><path d="M191,274.8 L193.8,276.6 L192.5,282.2 L195.7,283.3 L198.4,288.4 L199.4,288.5 L201.7,292.5"/><path d="M224.4,306.7 L225.4,303.5 L224.4,301.4 L225,297.8 L224.8,293.6"/><path d="M201.7,292.5 L202,296.2"/><path d="M241.7,277.1 L243.2,279.7 L246.8,282.6 L248.4,285.4"/><path d="M232.5,285.6 L234.9,287.7 L237.2,290.2 L238.9,293.2 L242.7,296.4"/><path d="M248.4,285.4 L247.5,289.2 L246,290.8 L244.6,293.4 L242.7,296.4"/><path d="M258.1,275.4 L258.2,280.7 L258.8,283.4 L258.2,286.1"/><path d="M248.4,285.4 L252.3,286.2 L254.6,286.6 L258.2,286.1"/><path d="M229.4,313.4 L232.8,310.4 L234.5,309.7 L234,306.3 L240.2,305.2 L241.3,303.5 L243.3,300.5"/><path d="M243.3,300.5 L242.7,296.4"/><path d="M276.7,289.7 L274.3,286.4 L271.9,285.4"/><path d="M276.7,289.7 L273.8,292.6 L274.6,295.6 L275.6,298.3 L274.1,302.1 L273.2,305.3 L272.3,307.6 L269.8,311.8 L270.5,314.4"/><path d="M271.9,285.4 L268.4,286.4 L265.8,288 L262,286.9 L259.1,287.1"/><path d="M259.1,287.1 L257.6,291 L260,291.4 L257.2,295.3 L259.1,299.7 L257.8,302.3"/><path d="M257.8,302.3 L259.7,305 L263.8,306.5 L264.5,310.7 L266.5,312.6 L269.2,314.7"/><path d="M270.5,314.4 L269.2,314.7"/><path d="M284.5,287.8 L279.7,288.2 L276.7,289.7"/><path d="M272,274.2 L269,277.6 L270.7,281.6 L271.9,285.4"/><path d="M282.4,316.3 L277.5,315.1 L276.9,314.2 L273.1,314.5 L270.5,314.4"/><path d="M258.2,286.1 L259.1,287.1"/><path d="M243.3,300.5 L247.2,302 L250.1,302.3 L255.9,301.2 L257.8,302.3"/><path d="M255.2,332.1 L256.7,330.3 L258.6,326.7 L261.5,323.2 L263.5,323.4 L265.7,318.9 L267.3,316.5 L269.2,314.7"/><path d="M291.7,343.5 L290.5,345.5"/><path d="M258.6,532 L262.1,535.8 L260.8,538.4 L264.1,541.6 L265.4,544.7"/><path d="M237.8,544.7 L241.6,543.3 L243.7,545.6 L246.3,544.1 L252,544.3 L254.2,546.8 L256.3,546.5 L261.5,545.2 L263.3,546.8"/><path d="M265.4,544.7 L263.3,546.8"/><path d="M247.3,568.7 L250.6,566.7 L253.4,564.5 L256.2,564.6 L261.8,563.4 L262.6,560.1"/><path d="M263.3,546.8 L263.6,550.9 L264.1,554.7 L262.5,555.7 L262.6,560.1"/><path d="M255.8,597.7 L257.2,594 L261.4,592.5 L263.4,589.4"/><path d="M249.5,575.4 L251.4,577.7 L255.6,577.6 L258.7,579.5"/><path d="M258.7,579.5 L260.5,584.3 L259.6,585.2 L263.4,589.4"/><path d="M273.2,594.1 L272,591.6"/><path d="M263.4,589.4 L268.6,588.4 L272,591.6"/><path d="M303.8,570.7 L300.6,571.2 L298.1,572.5 L292.1,572.4 L289.9,574.3"/><path d="M303.8,570.7 L306.7,574 L309.9,575.1 L310.5,580"/><path d="M302.2,589.5 L302.9,588.2 L307,585 L310.3,582.9"/><path d="M310.5,580 L310.3,582.9"/><path d="M289.6,584.6 L287.3,579.7"/><path d="M289.9,574.3 L287.3,579.7"/><path d="M272,591.6 L274.1,588.4 L277.1,584.4 L277.4,580.9"/><path d="M287.3,579.7 L282.9,581.5 L280,578.4 L277.4,580.9"/><path d="M258.7,579.5 L262,578.1 L263.8,577 L266.1,576.1 L271.1,574.8"/><path d="M277.4,580.9 L275.5,577.4 L271.1,574.8"/><path d="M262.6,560.1 L265.9,561.6 L269.6,564.9 L271.7,564.9"/><path d="M271.1,574.8 L270.6,572.7 L271.3,569.2 L271.7,564.9"/><path d="M309.4,451.5 L305.8,452.9 L305.5,454.4 L300.3,455.8 L297.4,461.6 L295.1,462"/><path d="M319.5,471.3 L318.1,473.1 L314.4,474.5 L312.5,475.7 L308.1,476.3 L305.7,479.6 L303.4,481"/><path d="M303.4,481 L302,478.3 L299.9,474.7 L300.7,471.5 L297.7,471.1 L296.9,464.3 L295.1,462"/><path d="M281.3,440.8 L280,443.6 L280.6,447.5 L280.6,452.5 L280.5,452.9 L280.2,458.2"/><path d="M295.1,462 L292.6,460.4 L289.2,460.8 L286.1,460.6 L281.7,457.5 L280.2,458.2"/><path d="M255.3,458 L258,461.4 L259.8,461 L263.2,464.6 L266.4,463.8 L269.1,464.1 L272.2,465.8"/><path d="M280.2,458.2 L278.2,461.3 L273.4,462.2 L272.2,465.8"/><path d="M257.7,492.2 L259.9,488.6 L260,487 L263.9,485.2 L264.3,480.8 L264.4,478.5 L268.4,477.3 L271.1,473.5 L272.2,471.3"/><path d="M272.2,465.8 L272.2,471.3"/><path d="M282.4,521.1 L285.1,522.4 L288.2,525.5 L289.6,527.2"/><path d="M284,503 L284.5,502.7"/><path d="M289.6,527.2 L292.1,525.8 L294.2,521.9 L296.8,521.4 L299.9,519.1"/><path d="M284.5,502.7 L285.8,505.3 L289.6,506.4 L289.8,508.9 L293.5,511.4 L295.5,512.8 L297.7,515.5 L299.9,519.1"/><path d="M272.2,471.3 L272.9,474.2 L276.3,474.9 L279.6,477.3 L280.5,478 L284.3,482.2 L285.4,482.5 L290.1,483.9 L292.3,484.9 L293,488 L295.8,490.9"/><path d="M284.5,502.7 L288.4,501.3 L289,497.8 L292,495.9 L293.3,493.2 L295.8,490.9"/><path d="M303.4,481 L302.6,484.4 L301.7,486.4 L299.7,489.8"/><path d="M295.8,490.9 L299.7,489.8"/><path d="M331.1,500 L327.8,501 L323.6,501.5 L319.3,498.1 L316.9,500.2 L313.2,500.6"/><path d="M299.7,489.8 L303.6,491.7 L305.8,494.2 L306.5,497 L310.6,500.6 L313.2,500.6"/><path d="M325,572.6 L329,576"/><path d="M325,572.6 L325.7,569.5 L324.6,565.4"/><path d="M329,576 L333.4,574.5 L336.5,575.1 L339.9,573.5 L343,572.6"/><path d="M324.6,565.4 L328.8,563.9 L330.5,560.8 L334.9,560.8 L337.9,559.8"/><path d="M337.9,559.8 L341.8,560.9 L342.3,561.9 L344.3,566.5"/><path d="M344.3,566.5 L343.1,570.1 L343,572.6"/><path d="M319.6,592.4 L324.4,592.1 L326.4,589.3 L330.5,589.5"/><path d="M330.5,589.5 L330.2,586.8 L328.3,581.3 L329.2,579.4 L329,576"/><path d="M310.3,582.9 L312.9,586.1 L314.4,589.3 L318,591.1 L319.6,592.4"/><path d="M310.5,580 L312.1,578.2 L316.9,577.7 L317.8,577.5 L321,573.2 L325,572.6"/><path d="M322.7,563.3 L319.9,562.9 L315.6,562.7 L311.7,562.4 L309.5,562.8"/><path d="M304.8,566.9 L307.7,564.1 L309.5,562.8"/><path d="M304.8,566.9 L303.8,570.7"/><path d="M322.7,563.3 L324.6,565.4"/><path d="M338.4,592.3 L339.3,589.4 L342.1,586 L341.3,582.8 L345.7,581 L345.4,577.2"/><path d="M345.4,577.2 L343,572.6"/><path d="M336.3,592.5 L333.1,589.2 L330.5,589.5"/><path d="M336.3,592.5 L338.4,592.3"/><path d="M322.4,547.4 L322.9,550.4 L322.9,551.9 L322.7,557.3 L322.7,561.2 L322.7,563.3"/><path d="M337.9,550.2 L334.9,551.3 L331.8,549.2 L329.9,548.8 L325.7,547.8 L322.4,547.4"/><path d="M337.9,550.2 L338.9,554.6 L337.7,556.9 L337.9,559.8"/><path d="M396.2,531.8 L400.4,535.4 L401.4,536.3 L402.2,539.6 L406.5,541.2 L408.6,542.2 L411.4,544.1 L412.7,547.7"/><path d="M396.2,531.8 L392.9,535.9 L389.9,535.7"/><path d="M389.9,535.7 L390.2,539 L388.6,545.8 L388.6,546.6"/><path d="M388.6,546.6 L390.7,548.8 L391.5,552.1 L394.7,555.7 L393.2,557.4 L394.7,559.1 L397.4,562.8"/><path d="M397.4,562.8 L401.8,560.9 L402.3,559.2 L406,557.4 L407.4,555.3 L411.5,554"/><path d="M411.5,554 L413,551.5 L412.7,547.7"/><path d="M425.2,540.5 L423.2,542.1 L419,542.9 L415.5,545.4 L412.7,547.7"/><path d="M399.2,524.5 L398.3,528.7 L396.2,531.8"/><path d="M386.6,535.1 L389.9,535.7"/><path d="M375.3,555.6 L373.1,553.2 L372,550.6 L368.6,547.3 L368.2,544.2 L366.7,542.7"/><path d="M375.3,555.6 L377.1,553.1 L379.4,552.1 L384.1,549.9 L387,548.1 L388.6,546.6"/><path d="M396.1,566.2 L392.6,566.9 L389.2,564.7 L387,563.5 L383.7,562.6 L380.6,562.3 L376.5,560.4 L374.6,560.4"/><path d="M375.3,555.6 L374.6,560.4"/><path d="M396.1,566.2 L397.4,562.8"/><path d="M419.2,562 L416,557.7 L415.2,559.3 L411.5,554"/><path d="M396.1,566.2 L395.2,568.7 L394.9,573.9 L396.5,576.4 L396.7,579.5"/><path d="M400.1,583 L396.7,579.5"/><path d="M287.3,611.7 L290.6,610.8 L292.9,613.3 L297.7,614.6 L300.8,613.5"/><path d="M301.2,600.2 L303.7,603.6"/><path d="M300.8,613.5 L302,611.8 L304.6,606.2 L303.7,603.6"/><path d="M319.6,592.4 L319.5,595.1 L318.3,598 L316.5,602.6"/><path d="M303.7,603.6 L303.3,603.4 L309.3,602.6 L313.5,601.4 L316.5,602.6"/><path d="M330.4,610 L327.8,612.1 L322.3,610.7"/><path d="M330.4,610 L332,607.9 L332.2,605.1 L334.5,600.2 L335,598.1 L335.6,594.6 L336.3,592.5"/><path d="M316.5,602.6 L318.2,606.7 L320.8,608.1 L322.3,610.7"/><path d="M167.9,478 L170.7,478 L173.9,474.7 L178,473.8 L180.1,471.9"/><path d="M167.9,478 L164.4,477.8 L162.8,475.4 L159.1,476 L156.5,473.7"/><path d="M180.1,471.9 L179.3,468.5 L178,465.4 L176.7,465.6 L175.7,457.6 L174.7,456.1 L175.1,453.9 L173.2,452 L173,448.4"/><path d="M156.5,473.7 L155.3,469.9 L156,468.2 L154.8,461.7 L155.2,459.8"/><path d="M155.2,459.8 L157.2,458 L159.9,456.7 L162.5,455.2 L166.4,453.6 L167.3,450.6 L169.8,448.7 L173,448.4"/><path d="M169.6,496.7 L169,494.8 L169.1,489.9 L168.6,488.1 L168.2,483 L169.7,482.1 L167.9,478"/><path d="M189.5,474.7 L186.7,473.1 L182.8,473.5 L180.1,471.9"/><path d="M152.2,476.8 L156.5,473.7"/><path d="M174.5,444.7 L173,448.4"/><path d="M146,454.4 L148.6,457 L153.2,458.1 L155.2,459.8"/><path d="M380.5,599.9 L378.6,597.7 L378.5,593.7 L375.8,591.8"/><path d="M396.7,579.5 L394.1,579.4 L389.1,580.2"/><path d="M389.1,580.2 L384.2,582 L385.1,582.8 L381.2,588.3 L377.2,588.1 L375.8,591.8"/><path d="M360.8,574.2 L365,577.1 L368.7,577.3"/><path d="M360.8,574.2 L360.6,570.9 L359.9,568.7 L357.5,565.8 L357,561.6"/><path d="M374.1,561 L373.5,565.9 L374.2,566.2 L374,570.1 L374,574.1"/><path d="M374.1,561 L370.6,561.7 L367.7,560.6 L364.4,561.4 L362.7,562.2 L357,561.5"/><path d="M368.7,577.3 L372.3,575.4 L374,574.1"/><path d="M357,561.6 L357,561.5"/><path d="M353.6,580.1 L349.9,578.9 L345.4,577.2"/><path d="M344.3,566.5 L347.9,565 L349.9,564.5 L354.1,563.5 L357,561.6"/><path d="M353.6,580.1 L355.1,578.8 L357.4,576.2 L360.8,574.2"/><path d="M389.1,580.2 L386,580.1 L383.7,578.4 L378.6,575.4 L376.1,575.1 L374,574.1"/><path d="M374.6,560.4 L374.1,561"/><path d="M355.8,551.5 L355.1,556.6 L356.6,558.5 L357,561.5"/><path d="M343.7,544.6 L338.9,547.5 L337.9,550.2"/><path d="M355.9,588.8 L351.8,590.2 L350.1,595 L348.2,597.1"/><path d="M355.9,588.8 L358.8,590 L363.6,589.2 L367.7,590"/><path d="M363.7,605 L364.5,604.7"/><path d="M363.7,605 L360.6,605 L356.6,602.7 L352.4,600.2 L349.5,600.3"/><path d="M364.5,604.7 L365.4,601.1 L366.1,596.2 L367.8,593.9 L368.1,590.5"/><path d="M367.7,590 L368.1,590.5"/><path d="M349.5,600.3 L348.2,597.1"/><path d="M338.4,592.3 L341.5,593.3 L344,595.9 L348.2,597.1"/><path d="M353.6,580.1 L354.3,581.9 L356.4,584.9 L355.9,588.8"/><path d="M368.7,577.3 L368,579.9 L369.3,584.3 L368.8,586.9 L367.7,590"/><path d="M358.5,617.8 L360,616.2 L362.6,610.8 L362.4,608.5 L363.7,605"/><path d="M373.3,608.4 L369.9,607.4 L367.2,606.4 L364.5,604.7"/><path d="M346.5,608.9 L348.4,607.7 L349.4,602.4 L349.5,600.3"/><path d="M375.8,591.8 L372.2,591.2 L368.1,590.5"/><path d="M330.4,610 L334.5,612.7"/><path d="M294.9,683.8 L293.9,687.7 L290.5,690.4 L289.5,694.1"/><path d="M294.9,683.8 L297.7,682.9 L301.4,683.5 L304.1,683.7"/><path d="M304.1,683.7 L305.4,687.3 L308.4,689.5 L310.5,692.8 L311.5,696.2"/><path d="M289.5,694.1 L290.9,696 L294.9,697.6 L297.6,700 L299.2,702.4"/><path d="M299.2,702.4 L303.4,701.6 L305,700.5 L308.2,701"/><path d="M308.2,701 L311.5,696.2"/><path d="M287.2,670.6 L288.7,673.8 L288.5,677.5 L290.2,677.6 L293,679.7 L294.9,683.8"/><path d="M286,695 L289.5,694.1"/><path d="M311,674.9 L308.7,678.9 L308.1,680 L304.1,683.7"/><path d="M321.7,693.7 L316.6,694.6 L314.1,695.2 L311.5,696.2"/><path d="M293.2,716.5 L294.6,714 L293.5,711.9 L295.4,707.6 L297.3,706.1 L299.2,702.4"/><path d="M313.9,715 L313.2,710.9 L312.1,711.8 L311.4,706.5 L307.8,704.9 L308.2,701"/><path d="M477.3,451.5 L478.4,447.5 L479.6,445.4 L481.3,441.4 L482,438.6 L481.9,435.3"/><path d="M477.3,451.5 L481.7,452.6 L482.5,456.5 L487,457.5"/><path d="M487,457.5 L489.8,454.2 L493.3,453.3"/><path d="M493.3,453.3 L494.1,450.2 L494.3,446.4 L493,444.2 L494.1,439.4 L493.7,437.5"/><path d="M481.9,435.3 L486,435.4 L486.9,435.6 L491.5,434.6"/><path d="M491.5,434.6 L493.7,437.5"/><path d="M486.8,468 L488,465 L488,461.6 L487,457.5"/><path d="M507.4,456.1 L503.5,455.5 L501.1,456.7 L495.6,454.5 L493.3,453.3"/><path d="M509.3,441.5 L504.9,441.3 L503.2,439.8 L501.2,437.7 L495.6,437 L493.7,437.5"/><path d="M474.2,430.3 L477,432.7 L480.2,434.2 L481.9,435.3"/><path d="M497.6,421.3 L496.6,426.2 L496.5,428.9 L493.1,432.3 L491.5,434.6"/><path d="M466.1,453.7 L464.8,451.1 L463.9,448.6 L463.1,445.2 L461.5,442.6 L460.9,438.5"/><path d="M466.1,453.7 L464,457 L463.5,458.2 L461.1,462"/><path d="M461.1,462 L457.7,463.6 L454.4,463.9 L452.2,464.6 L449,464.8"/><path d="M449,464.8 L448.1,460.6 L447.6,459.1 L447.3,455.2 L445.7,453.3 L446.1,449.2 L444,445.8 L444.3,442.6"/><path d="M460.9,438.5 L456.6,437.5 L453.4,440.1 L449.3,438.5"/><path d="M444.3,442.6 L447.1,441.6 L449.3,438.5"/><path d="M465.8,431.7 L461.6,435.6 L460.9,438.5"/><path d="M477.3,451.5 L472.5,452.8 L469,451.9 L466.1,453.7"/><path d="M473.8,475 L472.6,473.3 L468.6,471 L468.3,468.2 L465.3,464.9 L461.3,464.5 L461.1,462"/><path d="M449,464.8 L449,464.8"/><path d="M433.3,441.2 L438.9,442.2 L440.3,441.6 L444.3,442.6"/><path d="M444.5,420.2 L444.9,423.5 L447,424.7 L446.5,429.6 L448.6,432.1 L449.7,436 L449.3,438.5"/><path d="M414.8,338 L412.2,337.7 L407.4,338"/><path d="M401.2,327.8 L403.8,331.8 L407.6,334.3 L407.4,338"/><path d="M399.6,348.7 L399.4,348"/><path d="M407.4,338 L405.6,339.5 L403,343 L401.8,346 L399.4,348"/><path d="M343.9,342.2 L345.6,345 L344.3,348.1 L345.9,352.8"/><path d="M362,352.4 L363.7,348.1 L365.4,345.3"/><path d="M348,334.6 L351.9,335.9 L356.6,334.5"/><path d="M365.4,345.3 L364.7,342.7 L359.1,338 L359.2,337.7 L356.6,334.5"/><path d="M313.1,365 L315.5,366 L317.7,368.5 L321,372.2"/><path d="M313.1,365 L312.5,360.6"/><path d="M312.5,360.6 L313.9,358.3"/><path d="M313.9,358.3 L318.8,357.5 L321.8,355.7 L324.8,356.4 L328.3,355.3"/><path d="M321,372.2 L324.5,369.8 L327.1,367.4 L328.1,365.7 L334.4,363.8 L335.3,361.5"/><path d="M328.3,355.3 L330.7,356.7 L334.4,360.9 L335.5,361"/><path d="M335.5,361 L335.3,361.5"/><path d="M322.5,389.6 L321.8,387.9 L321.1,382.3 L321.5,378.8 L321.1,375.6 L321,372.2"/><path d="M304.4,372.5 L306.4,371.3 L311.7,365.9 L313.1,365"/><path d="M293.1,356.1 L296.5,356.8 L299.2,358 L302.7,357.7 L305.7,359.3 L309.6,358.4 L312.5,360.6"/><path d="M312.5,343.1 L312.8,347.4 L313.8,346.8 L313.1,352.3 L312.5,354.9 L313.9,358.3"/><path d="M326.3,344.9 L327.6,350.7 L326.7,352.1 L328.3,355.3"/><path d="M338.9,383.1 L338.1,379.4 L336.6,376.5 L337.9,374.9 L336.7,369.6 L336,368.1 L337.7,361.8 L335.3,361.5"/><path d="M343,358 L340.4,358.9 L335.5,361"/><path d="M335.2,293.9 L333,297.3 L329.8,297.9 L328.2,302.4 L326.5,303.6"/><path d="M333.9,286 L331.8,286.2 L325.1,284.6 L322.8,283"/><path d="M322.8,283 L323.2,287.4 L320.3,288.2 L319.6,291.1 L319.7,295.7 L318.4,298"/><path d="M318.4,298 L321.4,299.6 L325.2,303.4"/><path d="M325.2,303.4 L326.5,303.6"/><path d="M334.7,310.1 L330.9,308.3 L330.2,305.4 L326.5,303.6"/><path d="M318.9,276 L323.1,280.4 L322.8,283"/><path d="M310.6,299.1 L315.8,298.5 L318.4,298"/><path d="M318.1,316.7 L319.4,314.5 L320.3,311.6 L322.5,308.7 L324.2,305.9 L325.2,303.4"/><path d="M496.1,381.5 L493.3,377.1 L493.6,374.3"/><path d="M496.1,381.5 L499.3,383.7 L501.6,384 L505.5,385.1"/><path d="M493.6,374.3 L495.3,372.3 L498.3,369.5 L501.4,368.3"/><path d="M501.4,368.3 L505.1,368.7 L508.4,370.5 L511.7,371"/><path d="M505.5,385.1 L509.2,382.2 L511.2,379"/><path d="M511.7,371 L511,375.2 L511.2,379"/><path d="M489.6,372.2 L493.6,374.3"/><path d="M489.7,388.8 L492.6,386.4 L495.7,384.5 L496.1,381.5"/><path d="M508.3,395.9 L507.6,393.9 L505.8,388.2 L505.5,385.1"/><path d="M499.8,354.5 L500.9,357.6 L499.5,360.1 L502.1,364.7 L501.4,368.3"/><path d="M523.3,383.7 L521.8,383.2 L516.9,381.3 L514,379.9 L511.2,379"/><path d="M516.8,396.4 L519.2,393.4 L519.9,389.3 L523.4,386.7 L523.3,383.7"/><path d="M546.9,354.9 L545.5,356.9 L543.4,359.8"/><path d="M534.5,341.7 L532.3,343.4 L528.6,345.1 L525.5,347.2 L523.7,347.8"/><path d="M529.6,358.2 L526.9,356.8 L522.8,353.7 L522.7,351.8"/><path d="M511.7,371 L514.3,368.5"/><path d="M514.3,368.5 L514.7,365.1 L514,361 L513,359.1 L514.7,355"/><path d="M530.2,383 L530.1,385.6 L533,389.4"/><path d="M514.3,368.5 L519.3,370.6 L522.2,369.3 L524.5,370.8"/><path d="M523.3,383.7 L527.4,382"/><path d="M564.6,372.8 L564.6,372.8"/><path d="M289.9,574.3 L287.7,570.7 L286.9,567.7 L285.9,564.7 L283.8,562.3"/><path d="M304.8,566.9 L302.3,564.6 L298.5,560.5 L298.9,558.8 L295.5,555.5"/><path d="M295.5,555.5 L293.3,556.7 L288.6,558.6 L287.9,559.9 L283.8,562.3"/><path d="M271.7,564.9 L273.2,563.8 L277.8,563.3 L280.7,561"/><path d="M283.8,562.3 L280.7,561"/><path d="M274.1,534.9 L276.2,534.1 L281.7,534.5 L283.2,535.8 L286.4,536.3"/><path d="M274.1,534.9 L272,536.6 L273,542.1 L268.2,544"/><path d="M268.2,544 L271,546.4 L271.9,546.4 L276.6,547.1 L279.1,550.2"/><path d="M279.1,550.2 L282,548.9 L283.1,548 L286.4,544.9"/><path d="M286.4,536.3 L288.5,539.5 L286.4,544.9"/><path d="M289.9,532.6 L289.6,527.2"/><path d="M289.9,532.6 L286.4,536.3"/><path d="M272.1,525.8 L272.5,528.9 L274.3,531.2 L274.1,534.9"/><path d="M265.4,544.7 L268.2,544"/><path d="M280.7,561 L279.5,557.2 L279.2,553.9 L279.1,550.2"/><path d="M296.5,550.4 L295.5,555.5"/><path d="M296.5,550.4 L292.1,548.1 L288.7,547.4 L286.4,544.9"/><path d="M289.9,532.6 L293.3,534.2 L296.1,532.7 L300.4,537.2 L301.4,537.1"/><path d="M296.5,550.4 L298.7,547.6 L302.7,545.8"/><path d="M301.4,537.1 L302.6,540.7 L302.7,545.8"/><path d="M309.5,562.8 L309.1,560.6 L309.4,558.3 L311.4,552 L310.5,548.7"/><path d="M302.7,545.8 L306.7,546.8 L310.5,548.7"/><path d="M322.4,547.4 L320.6,545.5"/><path d="M310.5,548.7 L313.6,547.5 L316.9,545.3 L320.6,545.5"/><path d="M330.2,532.7 L328.1,535.5 L324.9,536.8 L322.1,540.4 L320.9,542.9"/><path d="M320.6,545.5 L320.9,542.9"/><path d="M318.6,523.7 L317.7,525.1 L315.4,529.5 L313.8,532.2"/><path d="M318.6,523.7 L317.5,521.7 L312.2,519.6 L310.7,515 L309.2,514.5"/><path d="M309.2,514.5 L306.9,517.2 L302.4,519.2"/><path d="M302.4,519.2 L303.1,523.1 L305.7,524.7 L304.8,528 L305.9,532.1"/><path d="M313.8,532.2 L310.5,532.8 L305.9,532.1"/><path d="M323.6,523.3 L318.6,523.7"/><path d="M320.9,542.9 L319.2,540.7 L317.1,537.5 L314.9,535.3 L313.8,532.2"/><path d="M313.2,500.6 L311.2,504.5 L311.1,507.9 L311.1,511 L309.2,514.5"/><path d="M299.9,519.1 L302.4,519.2"/><path d="M301.4,537.1 L304,532.7 L305.9,532.1"/><path d="M303.3,620.4 L308,621.8 L309.9,622.6 L312.4,622.4 L315.7,623.9"/><path d="M303.3,620.4 L300.5,621 L299.4,624.7 L295.3,625.7 L293.7,629.7"/><path d="M293.7,629.7 L296.6,632.7 L296.5,633.7 L299.5,636.9 L300.7,639.5 L302.9,641.7"/><path d="M302.9,641.7 L305,640.6 L308.3,638 L310.3,635.1 L313,636.6 L315.5,632.4 L319.2,631.4"/><path d="M315.7,623.9 L318.6,628 L319.2,631.3"/><path d="M319.2,631.3 L319.2,631.4"/><path d="M300.8,613.5 L302.6,617.4 L303.3,620.4"/><path d="M322.3,610.7 L320.8,613.6 L319.8,614.7 L316.2,620.8 L315.7,623.9"/><path d="M285,630 L289.5,631.3 L293.7,629.7"/><path d="M302.4,644.7 L302.9,641.7"/><path d="M322.2,645.5 L322.2,643.4 L320.9,638.8 L320.6,634.7 L319.2,631.4"/><path d="M338.6,629.6 L335.1,630.5 L332.8,630.8 L329.1,629.7 L324.8,631.1 L321.9,632.1 L319.2,631.3"/><path d="M399.4,348 L396,346.8 L395.5,343.5 L392.2,343.9 L388.5,340.7"/><path d="M381,358.6 L381.5,354.7 L379,350 L380.7,348.4 L380.2,344.9"/><path d="M380.2,344.9 L383.1,344 L385.2,341 L388.5,340.7"/><path d="M365.4,345.3 L369.9,344 L373.9,342.4"/><path d="M380.2,344.9 L378.2,343.9 L373.9,342.4"/><path d="M399.4,326.4 L396.3,329.8 L394.7,331.1 L392.8,332.5 L389.5,333.6"/><path d="M389.5,333.6 L388.5,336.9 L388.5,340.7"/><path d="M365.6,320.9 L366.1,324.3"/><path d="M365.6,320.9 L366.3,315.4 L369.8,315.3 L370,311.9"/><path d="M366.1,324.3 L370.1,325.3 L372.7,329"/><path d="M372.7,329 L375.8,329.5 L379.3,325.5 L382,326.7"/><path d="M382,326.7 L381.4,322.2 L383.8,318.7"/><path d="M350.8,316.8 L354.8,317.5 L356.6,317.6 L360.4,319.3 L363.5,321.8 L365.6,320.9"/><path d="M356.6,334.5 L360.3,331.9 L361.4,328.2 L363.5,325.7 L366.1,324.3"/><path d="M373.9,342.4 L372.7,338.1 L375.2,336.3 L372.7,333.5 L372.7,329"/><path d="M389.5,333.6 L386.1,331.3 L384.4,327.9 L382,326.7"/><path d="M151.7,327.1 L154,325.1 L157.5,326.6 L161.1,325.2 L164.2,325.6 L167.9,325.3 L169.8,326"/><path d="M151.7,327.1 L149.8,325.6 L148.4,320.9 L146.6,318.5 L144.3,316.3 L142.5,313.6 L140.3,311.7 L139,309.5"/><path d="M168.6,291.9 L170.8,295.1 L172.4,296.7 L174.3,298.7 L174.5,303.7 L178,306.6 L175.7,309.1 L179.4,312.1 L180,314.1"/><path d="M168.6,291.9 L164,291 L162.8,292.1 L158.4,290.3 L155,289.3"/><path d="M180,314.1 L178.6,317.5 L175.6,319.6 L174.1,322.3 L173,325.3 L169.8,326"/><path d="M192.1,314.7 L189.1,314.5 L186.7,313.7 L183.7,314.8 L180,314.1"/><path d="M191,274.8 L188.1,277.1 L186.1,277.5 L182.9,280.2 L180.7,283.3 L177.5,285.3 L174.9,286.8 L173,287.1 L171.2,289.9 L168.6,291.9"/><path d="M205.6,339.8 L202.9,340.9 L200.1,342.5 L197.2,342.4 L194.5,342.6 L190.7,343.1 L189.3,344.5 L185.1,343.1 L182,346 L179.2,347.2"/><path d="M179.2,347.2 L176.9,343.8 L175.2,342.8 L175.8,337.7 L174.5,334.6 L172.1,333.4 L169.4,329 L169.8,326"/><path d="M178.7,369.2 L178.2,366.6 L176.8,362 L174.4,360 L175.2,355.6"/><path d="M178.7,369.2 L178.5,371.7 L178.1,375.5 L176.5,378.2 L173.1,382"/><path d="M175.2,355.6 L173.2,354.4 L168,355.4 L164.9,352.2 L163.1,354.1 L160.1,354.3 L156,351.8 L152.7,353.1 L148.7,352.5 L145.8,350.8 L142.9,351.1"/><path d="M173.1,382 L171.3,382.6 L166.7,381.7 L163.6,381.9 L159.8,380.9 L158.5,382.5 L155.7,380.1 L152,381.9 L148.3,381.1 L144.6,381.8 L144.1,381.8 L139,382"/><path d="M142.9,351.1 L140.2,352.5 L138.8,354.6 L135.4,357.7 L132.4,360.4 L129.8,361.9 L128.9,362.7 L125.3,364.8 L122.7,367"/><path d="M139,382 L136.3,381.7 L134.6,379.7 L131.2,378.1 L127.4,376.6 L124.5,373.6 L121.4,373.2"/><path d="M121.4,373.2 L122.3,370.4 L122.7,367"/><path d="M206.9,367.7 L204,367.7 L202.1,367 L196.6,368.5 L195.2,366.7 L191.2,368.7 L188.3,367.3 L185,367.7 L183.7,367 L178.7,369.2"/><path d="M179.2,347.2 L177.9,351.4 L176.9,350.8 L175.2,355.6"/><path d="M174.2,384 L173.1,382"/><path d="M151.7,327.1 L150.5,329.6 L149.8,332.1 L147.8,336.9 L147.1,339.3 L145.2,342.5 L145.3,345.7 L142.2,349.2 L142.9,351.1"/><path d="M153.7,413.2 L153.9,410.9 L150.6,408.3 L150.9,404.6 L147.6,400.6 L147,399.4 L147.8,396 L143.8,394.1 L142.8,390.2 L142.9,387.5 L139.4,385.2 L139,382"/><path d="M99.5,314.6 L101.2,317.8 L102.2,319.4 L103.1,323.7 L103.8,326.3 L104.2,329.4 L106.8,331.2 L108,334.1 L108.7,337.8 L109.9,339.3 L111.6,342.9 L112.8,345.5 L114.3,346.7 L116.1,351.9 L116.7,352.4 L117.7,355.4 L119.1,359.5 L121.1,362.3 L121.8,362.5 L122.7,367"/><path d="M108.7,384 L111.5,381 L113.7,378.1 L116.2,378.4 L117.7,373.9 L121.4,373.2"/><path d="M181.6,125.4 L185,126.3 L187.2,126.4 L190.2,126.6 L192.4,127.1 L195.8,127 L199.8,128 L205,129.4 L206.1,128.7 L209.7,130.3 L212.9,132.9 L215.5,131.4 L216.6,130.5 L222.7,132 L225.8,133.2 L228.1,133.2 L231,130.8 L234.2,131.4 L235.7,129.8 L240.8,129.3 L244,128 L248,126.2 L251.8,125.5 L252.6,123.8 L256,121.7 L257.6,119.5 L262,119.4 L264.8,117.6 L266.8,115 L269.3,111.8 L272.2,111.6 L274,109.5 L276.6,106.9 L280.1,104.1 L281.7,102"/><path d="M281.7,102 L283.7,104.9 L282.4,108.6 L284.3,110.3 L283.4,114.9 L285.6,117.6 L286.6,120.6 L290.5,123.1 L290.4,127.8 L294.4,130 L293.8,132.7 L296,135.8 L298.1,139.3 L299.6,141.2 L301.3,144.7 L301.9,147 L303.8,148.8 L304.5,154 L303.8,156.3 L303.8,159.2 L305.6,161.5 L307.6,165.2 L309.6,165.7 L312.9,167.6 L316.5,170.5 L316.9,172.2"/><path d="M244,128 L245.2,129.9 L246.5,133.5 L246,138.2 L246.6,141 L245.9,146.3 L244.8,148.4 L244,151.7 L244,154 L245.8,156.6 L247.7,158.1 L249.3,160.4 L250.4,166.6 L252.1,166.4 L254.4,169.6"/>
</g>
<g fill="none" stroke="#808080" stroke-width="1.8" stroke-linejoin="round" stroke-linecap="round">
<path d="M225.8,199.5 L227.5,195.7 L227.5,193.9 L227.8,191.4 L227.9,188.7 L229.1,187.6 L230.4,183.3 L231,180.8 L233.2,179 L235.1,177.7 L238.1,176.3 L240.6,174.9 L242.4,173.5 L245,173.4 L247.8,171.7 L250.1,171.4 L252.8,170.4 L255.8,171.8 L256.9,174 L258.7,175 L261.5,176.9 L263.3,178.5 L265.3,179.8 L266.6,180 L270.1,178.5 L273.2,179.3 L275.7,178.7 L277.9,179.1 L280.6,180.4 L283.6,181.6 L285.5,182.7 L287.8,182.6 L290.3,183.9 L292.6,186.8 L294.4,189.1"/>
<path d="M225.8,200.6 L227.3,202.5 L229,204 L230.8,207.6 L231.3,209.6 L233.1,212.2 L235.1,214.1 L235.6,216.5 L238.2,220.2 L239.3,222.4 L240.7,223.2 L244.1,224.2 L247.1,225 L248.7,226.6 L250.9,229.2 L252.8,232.8 L254,235.9 L253.9,239.1 L256.1,240.4 L259.5,243.6 L261.1,245.3 L264.2,246.5 L266.9,246.4 L269.5,247.4 L272.2,247 L275.7,247.4"/>
<path d="M275.7,247.4 L276,244 L274.8,241.7 L274.7,239.1 L275.8,236.6 L276.2,232.7 L277.8,230.7 L279.9,229.7 L282.3,227.8 L284,226.2 L286.4,226.2 L288.9,226.3 L291.1,225.8 L294,225.9 L296.5,225.5 L299.4,225.6 L302.7,224.1 L304.8,222.4"/>
<path d="M184.2,259.9 L186,260.4 L189.5,261.5 L192.5,262 L194.6,262.5 L198.7,262 L201.9,262.1 L203.8,263 L207,264 L209.1,265.7 L212.1,266.7 L213.3,268.2 L216.4,267.6 L219.6,267.1 L221.6,266.1 L224.7,264.4 L226.5,263.3 L229.8,262.7 L231.5,260.9 L234.1,259.9 L237.1,258.2 L239.2,257.3 L242.4,255.7 L246.3,254.2 L247.7,252.4 L250.7,251.5 L251.5,249 L253.9,246 L254.9,243.2 L253.9,239.1"/>
<path d="M198.7,262 L199.3,264.5 L199.6,266.3 L199.8,269.5 L200,271.7 L200.8,274.4 L203,275.3 L206.4,276.3 L208.5,277.9 L211.2,278.6 L214.3,280.1 L215.8,280.4 L219.5,280.7 L220.7,283.5 L222.7,286.7 L223.7,289 L225,291.6 L226.1,293.9 L226.2,296.9 L226.8,300 L227.9,301.5 L229.9,304.6 L231,305.5 L232.6,308.1 L234.1,309.8 L233.3,312.5 L233,315.6 L232.2,317.9 L232,320"/>
<path d="M269.5,247.4 L267.6,249.6 L266,252.1 L264.8,255.7 L263.2,257.8 L262.7,260.7 L262.9,263.1 L261.7,265.5 L261.1,268.2 L260.4,271 L260.3,273.5 L261.1,276.2 L261.1,277.8 L261.1,280.7"/>
<path d="M275.7,247.4 L275.9,250.3 L275.6,253.7 L275.6,256.7 L275.7,259.9 L276.7,262.6 L277.5,265.4 L279.9,268.2 L281.9,268.7 L285.5,267.3 L287.5,268.1 L289.4,268.4 L292.4,268.2 L294.3,269.5 L296.4,272.3 L298.7,273.9 L300.7,276.5 L303.1,278.9 L304.3,280.4 L306.9,282.5 L309,284.8 L312.4,285.9 L313.7,286.5 L316.8,289 L319.4,289 L321.9,290.1 L324.8,291.1 L328.2,291.9 L329.8,293.2 L332.7,294.3 L335.2,294.7 L338.2,296.2 L340,297.3"/>
<path d="M118.7,403 L121.3,402.3 L123.6,402.8 L126.9,402.6 L129.1,402 L132.1,402.3 L134.1,402.4 L136.9,402 L139.4,402.6 L141.6,402 L144.3,402.9 L147.1,404.9 L149.3,405 L152,406.1 L154.5,407.2 L156.4,407.3 L160.3,407.3 L162.4,408.2 L166.6,410.3 L168.3,413.1 L168.4,415.6 L169,417.8 L170.7,420.7 L173.6,422.3 L174.9,424.8 L177.1,426.9 L178.1,429 L179.1,431.1 L180.9,432.2 L184.7,433.3 L187.4,435.2 L188.9,437.5 L191.2,438.6 L193.6,441.5 L195.4,443.9 L197.8,445.6 L196.9,448.8 L197.1,451.2 L195.7,454 L193.1,455.4 L191.6,458.4 L189.5,460"/>
<path d="M197.8,443.6 L199.3,441.7 L200.4,439.5 L202,437.3 L204.9,435.1 L208.2,433.2 L207.6,429.7 L208,427.1 L208.2,424.8 L207.1,422.3 L206.8,420.6 L206.5,416.2 L205.8,413.9 L204.4,411.5 L204,408.2 L204.1,404.3 L205.2,402.9 L205.9,400.4 L205.1,398.9 L206.1,395.7 L208.2,395.3 L212,394.7 L213.9,394.2 L216.5,393.6 L219,395.3 L220.7,397.8 L223.6,399.1 L226.9,399.7 L228.1,401.3 L231.1,402 L230.9,404.7 L231.2,407.7 L230.8,409.8 L231.1,412.4 L227.9,414.1 L227.6,416.2 L224.8,418.6 L223.5,421.2 L222.8,424.8 L226.2,424.9 L229,424.8 L230.1,422.8 L232.4,420.6 L233.7,418.7 L235.8,415.6 L237.3,413.4 L239.8,413.3 L243.2,413.3 L245.6,413.4 L248.9,414.4 L251.8,415.2 L254,415.5 L254.6,411.5 L255.5,409.6 L256,406.1 L258.1,403.3 L260,399.9"/>
<path d="M229,300 L230.3,301.9 L231.7,304.8 L233.7,306 L235.2,308.3 L233.9,311 L234.5,314 L233.2,316.6 L236,317.8 L239.4,317.7 L242.1,316.4 L243.9,314.8 L245.6,312.5 L248.6,311.4 L250.8,310.4 L254,308.3 L254.8,312 L254.4,314.2 L256,316.6 L258.4,319.6 L260,322.9"/>
<path d="M260,366.6 L257.7,367.5 L255.2,367.4 L252.3,368.6 L249.8,368.7 L249.3,371.5 L247.8,374.3 L246.7,377 L248.9,378.6 L249.6,381.2 L251.9,383.2 L254.1,383.3 L257.3,384.2 L260,384.3"/>
<path d="M261.8,280 L261.6,283.1 L261.5,285.8 L262.5,288.3 L262.2,290.9 L263.3,294.6 L264,297.2 L263.8,299.9 L264.6,302.9 L266.7,304.9 L268.3,307.5 L270.2,309.1 L269.5,311.7 L269.2,315.2 L269.1,317.5 L268,320.1 L266,321.6"/>
<path d="M240,311.2 L242.5,310.7 L245.4,310.2 L247.9,310.3 L249.7,309.5 L252.5,309.1 L253.8,312.7 L256.4,314.7 L256.6,317.5 L256.6,321.6 L259.4,319.9 L262.3,320.2 L265,319.5 L265.6,322.7 L266.4,325 L268.1,327.9 L269.9,329.4 L272,332.5 L273.3,334.1 L273.2,336.6 L274.3,340.3 L272.8,342.4 L270.3,344.4 L269.1,346.6 L271.7,346.1 L274.8,345.9 L278,345.9 L280.1,345.3 L283.1,344.7 L284.7,344.3 L287.9,343.5 L290.4,344.8 L292.9,345 L295.5,346.1 L297.9,345.9 L300.3,346.6 L302.5,348.1 L304.6,350.1 L306.6,351.8 L307.4,355.8 L307.8,358 L308.7,361.1 L307.6,364 L306.1,366 L305.5,369.1 L304.5,371.5 L303.1,373.4 L301.3,375.9 L300.3,377.8 L298.5,379.3 L295.6,380.8 L293.1,382 L291.1,385 L289.9,388.2 L289.3,390.9 L288.9,392.9 L288.9,396.8 L287.9,398.6 L288.3,401.4 L289,404.2 L288.7,407.1 L289.9,409 L292.5,411 L295.5,411.6 L298.3,413.2 L302.4,413.2 L303,410.8 L303.4,407.4 L304.5,404.8 L303.6,401.3 L303.7,399.5 L302.4,396.5 L301.7,394.3 L300.6,390.9 L300.3,388.2 L304.5,386.1 L306.6,388.2 L310.1,388.6 L311.1,386.7 L314.9,388.2 L319.1,386.1 L321.1,386.2 L323.8,385.2 L326.8,384.4 L329.1,384.8 L331.5,384 L333.3,386.3 L334.4,388.4 L336,390.9 L337.8,392.4 L341.7,391.4 L342.4,390.8 L346.1,390.3 L349,391.5 L352.1,391.3 L354.4,392.4 L357.2,391.4 L360.7,389.2 L363,390.8 L366.1,391.7 L369,392.4 L371.4,394.3 L373.5,395.1 L375.4,397.1 L377.3,398.6 L380.2,400.6 L382.7,401.1 L385.6,402.8 L388.1,402.7 L391.5,402.4 L394,402.8 L395,405.5 L394.9,407.4 L395.6,410.9 L396,413.2 L394.5,416.5 L395.4,418.9 L394,421.5 L391.4,423.3 L389,422.5 L385.6,423.6 L382.7,423.1 L379.7,421.7 L377.2,422.1 L374.1,421.9 L371.1,421.5 L370.8,424.1 L369.3,427.3 L369,429.8 L370.7,432.2 L371.7,435 L371.9,438.1 L373.2,440"/>
<path d="M269.1,346.6 L267.1,349.1 L265.6,351 L263.6,352.5 L262.9,355 L260.8,357 L258.7,358.9 L256.9,360.5 L254.1,363.2 L252.5,365.3 L250.5,367.1 L249.3,369.4 L247.7,372.3 L246.2,373.6 L247.4,377 L247.6,379 L248.3,382 L250.4,383.2 L252.9,384.5 L256.6,386.1 L259.5,386.3 L262.2,384.7 L264.6,384.2 L267,384 L266.7,386.7 L266.1,390.8 L265,392.4 L262.6,394.8 L259.5,395 L256.6,396.5 L256.5,400 L255,402.1 L254.6,404.8 L254.6,407.5 L256.3,410.4 L256.6,413.2 L253.2,413.6 L250.4,415.2 L248,415.1 L245.5,414.3 L242,414.5 L240,413.2"/>
<path d="M420.6,330 L421.9,332.7 L423.7,334.6 L424.7,338.3 L425.5,340.8 L426.5,344.1 L427.3,345.3 L427.9,348.7 L431,350.8 L428.4,351.9 L426.2,352.3 L423.7,353.9 L423.7,357 L425.4,359.6 L425.2,363.3 L426.8,365.4 L427.9,367 L432.6,368.8 L434.1,370.6 L436.8,371.6 L439.3,373.7 L437.5,373.8 L434.5,375.2 L432,375.8 L428.9,377.2 L426.2,377.5 L424.2,378.7 L421.6,379.9 L419.7,381.8 L417.3,382.6 L415.1,384.1 L413.6,385.6 L411.2,387.2 L410.3,389.8 L409.1,392.4 L409.2,395.4 L409.7,397.6 L411.3,399.7 L411.2,402.8 L413.3,405.9"/>
<path d="M411.2,403.9 L414.1,403.2 L416.8,403.2 L419.8,403.7 L422.9,404.6 L425.8,403.9 L428.7,405.9 L431.3,407.3 L434.1,409.1 L436.3,407.8 L439.3,408.8 L442.1,407.3 L444.5,407 L447.8,406.3 L449.4,405.4 L451.9,405.3 L454.9,404.9 L458.3,403.8 L459.4,402.5 L462.3,401 L465,401.1 L467.4,399.7 L470.3,401 L472.4,401 L475.7,402.8 L479,405 L480.5,406.4 L484,408 L486.8,406.9 L489.7,405 L492.4,403.9 L494.6,401.5 L496.5,398.2 L498.6,396.6 L498.7,393.8 L500.7,391.8 L502.8,389.3 L505.9,388.4 L508.2,387.3 L511.1,386.2 L514.7,387.9 L517.3,390.3"/>
<path d="M523.6,355 L523,357.9 L521.6,360.9 L520.1,363.2 L519.4,365.4 L517.4,367.7 L516.3,370.6 L517.6,373.2 L519.3,375.5 L521.5,377.9 L520,381.1 L520.3,383.5 L518.4,386.2 L518.6,389.6 L517.3,392.4"/>
<path d="M517.3,392.4 L518.3,394.9 L516.6,398.1 L517.2,399.4 L517,401.7 L517.3,404.9 L515.6,406.5 L514.6,409.4 L511.6,410.5 L510.4,412.4 L509,415.3 L506.4,416.8 L503.5,418.2 L501.4,420.6 L498.6,421.5 L496.8,422.4 L494,422.8 L491.3,423.6 L488.9,424.3 L486.1,425.7 L483.2,427 L481.4,427.6 L478.4,429.5 L476.2,430.4 L473.6,432 L471.6,433.9 L469.5,436.1 L471.1,439.5 L471.5,442.4 L473,443 L475.7,446 L477.9,447.4 L479.9,448.6 L482.8,450.1 L486.1,452.8 L488,454.9 L489.6,456.3 L490.9,458.7 L492.4,461.1 L494.8,463.9 L496.5,467.3 L498.3,469.1 L501.2,471.5 L502.4,473.1 L504.8,475.6 L507.1,476.3 L509.6,475.2 L513.2,475.6 L516.3,475.5 L518.7,474.6 L521.5,473.6"/>
<path d="M413.3,405.9 L412.9,408.8 L411.9,411.5 L411.2,413.2 L412.7,416 L413.5,417.8 L415.4,419.5 L416.4,420.9 L418.7,423.3 L420.3,425.3 L421.6,427.8 L424.4,430.9 L425.8,434 L426.1,436.6 L427.9,438.7 L428.5,442.4 L429.5,444 L429.9,446.5 L429,449.5 L427.9,450.7 L427.9,454.8 L425.5,456.4 L423.7,459 L421.7,460.5 L417.7,461.3 L415.4,463.2 L414.8,465.3 L413.5,468.1 L412.9,470.7 L412.1,473.7 L411.2,475.6 L411.6,477.8 L411.6,481.4 L410.5,483.9 L409.7,487.2 L409.1,490"/>
<path d="M417.5,461.1 L420.4,461.3 L423.4,460.3 L425.8,460.9 L428.9,460.2 L431.2,460.1 L434.1,460 L436.6,459.1 L440.7,459.1 L442.9,458.5 L446.4,459.2 L448.7,458 L449.4,460.9 L449.9,464 L451.5,465.5 L451.8,468.4 L455.2,469.1 L457.7,469.6 L460.1,469.7 L463.2,470.4 L466.3,468.7 L468.3,467.9 L471.5,465.2 L473,461.9 L474.7,459 L477.5,458.6 L481.4,457.7 L484,456.9 L487.2,457.7 L489.5,459.5 L492.4,461.1"/>
<path d="M193.7,440 L195.8,444.2 L197.9,448.3 L195.8,452.5 L193.7,454.8 L191.6,456.6 L188.5,458.7 L190.6,460.8 L189.2,464.8 L189.5,466 L189.7,468.8 L190.6,471.2"/>
<path d="M190.6,471.2 L193.6,471.1 L195.8,470.2 L198.9,472.2 L200.1,473.6 L201,477.5 L203.1,478.9 L206.2,479.5 L208.4,480.1 L211.4,481.6 L211.9,484.3 L214.5,485.8 L217.5,485.4 L220,485.8 L222.8,485.8 L225.9,485.7 L230,485.8"/>
<path d="M190.6,471.2 L187.6,472.5 L184.3,473.3 L182.2,476.4 L183.3,480.6 L181.2,483.7 L182.2,486.8 L180.7,489.4 L178.1,492 L181.2,494.1 L183.3,496.2 L183.6,499 L184.3,501.4 L181.2,504.5 L177.8,504.4 L175,505.5 L172.9,507.6"/>
<path d="M343.6,489.5 L345.4,487 L346.3,485.1 L347,482.7 L349,480.1 L350.3,477.4 L350.4,475.3 L352.3,473.4 L354,470.7 L355.7,468.4 L357.1,467.2 L359.2,464.6 L360.4,462.3 L361.7,460.6 L363.3,458.4 L364.4,455.4 L366.4,454.1 L367,451.5 L369.8,449.8 L370.2,446.1 L372.4,444.6 L372.8,442.4 L374.8,439.5 L374.3,437.4 L373.8,434.6 L373.2,431.1 L372.3,428.5 L372.2,425.7 L370.5,423.8 L370.6,420.8 L373.2,419.7 L375.3,416.7 L376.5,415.4 L378.9,412.9 L381,412.3 L383.1,410.4 L385.2,409.2 L388.6,407.9 L391.1,407.1 L393.3,405.6 L395.6,404.2"/>
<path d="M258,635.4 L256.9,638.6 L255.8,640.3 L255.4,642.9 L254.1,645.8 L255.1,648.9 L255.7,651.1 L256.9,653.9 L256.5,655.6 L258,658.8 L258.6,661.6 L257.1,663.4 L258,666.2 L258,669.2 L260.8,670.1 L263.4,670.4 L265.8,671.8 L268.7,670.1 L271,666.6 L273.3,669.8 L276.2,671.8 L279.3,673.4 L281.4,674.4 L284,675.6 L286.2,678.2 L289.2,679.6 L291,682.8 L292.2,685.2 L292.9,686.9 L294.4,690"/>
<path d="M208.6,700.4 L210.8,702.7 L212.8,703.9 L214.6,706 L217,708.3 L219,710.8 L220.9,712.9 L223,715.3 L224.4,715.7 L226.8,718.6 L229.3,720.8 L231.6,721.9 L233.3,723.3 L234.6,724.6 L237.2,726.4 L240,727.5 L242.4,729.1"/>
<path d="M295.7,686.8 L296.1,688.7 L294.7,692.5 L294.4,694.6 L292.2,696.1 L289.9,698.2 L289.2,700.6 L286.6,702.4 L284.2,702.2 L281.8,702.5 L278.4,702.2 L276.2,702.4 L273.7,705.5 L271,707.6 L271.6,710.4 L273.2,712.5 L272.4,715.9 L273.6,718 L271.2,720.6 L268.4,723.2 L265.9,723.8 L263.4,724.6 L261,725 L257.6,726.4 L255.4,727.1 L252.6,727.4 L250.2,726.9 L247.7,726.9 L244.3,726.6 L242.4,727.1"/>
<path d="M294.4,694.6 L296.7,693.8 L299.7,693.7 L302.5,693.5 L304.8,692 L308,690.6 L310.8,690 L312.4,688.3 L315.2,686.8 L318.3,686.6 L320.9,686.3 L323.3,685.7 L325.6,685.5 L327.5,683.2 L329.4,680.4 L330.8,679 L333.6,679.6 L336,679"/>
<path d="M208.6,699.8 L211.2,701.4 L213.4,702.7 L215.1,704.5 L217.7,706.3 L219.6,708.4 L221.2,710 L222.9,710.8 L225.5,712.8 L227.6,714.9 L229.4,715 L231.9,717.5 L233.4,718.6 L235.9,720.6 L237.8,722.8 L240.6,724.3 L242.4,727.1"/>
<path d="M242.4,727.1 L239.8,729.7 L243,731 L244,732.6 L246.3,733.6 L248.3,737.3 L250.2,738.8 L252,741.3 L252.6,743.8 L254.1,746.6 L254.5,749.5 L254.9,752.5 L255.6,754.4 L256.6,756.1 L256.7,759.6 L259.5,761.2 L263.2,762.2 L263.7,764.8 L264.4,767.1 L264.7,769.4 L264.5,773.2 L265.8,775.2 L264.9,777.5 L265.4,780.9 L264,782.8 L263.7,785.2 L263.2,788.2 L263.5,790.9 L263.3,793.8 L263.5,796.8 L263.2,798.6 L263,800.4 L261.9,803.3 L260.6,806.4"/>
<path d="M179.1,626.6 L181,628.2 L184.1,629.1 L186.3,628.6 L189.6,628 L191.6,627.9 L192.2,625.6 L194.2,623.2 L194,620.2 L195.7,618 L195.4,616.3 L195.7,613.2 L195,610.2 L197.6,608.5 L199.4,607.3 L201.2,605.5 L203.1,604.3 L206.2,602.7 L208.6,602.4 L211.1,600.5 L213,600.3 L215.3,598.5 L217.7,596.6 L219.4,596.1 L221.3,594.1 L224.5,592.4 L225.3,590.4 L227,590 L229.3,587.8 L231.6,586.2 L233.6,585.8 L236.7,584.4 L239,583.5 L241.1,582.9 L243.3,581.6 L246.2,580.4 L248.4,579.8 L251.1,578.5 L252.6,576.5 L255.5,574.8 L257.4,572.2 L258.9,569.8 L260.6,567.2 L262,565.3 L263.6,562.8 L267.2,560.9 L270.5,560"/>
<path d="M184.1,629.1 L186,630.4 L188.6,633.4 L190.4,635.4 L192.4,638.2 L192.4,641.3 L192.8,643.4 L192.8,646.9 L192.4,649.9 L188.3,650.7"/>
<path d="M625,341.9 L627.2,341.7 L630.1,341 L632.5,340.9 L635.4,340.3 L637.6,339.8 L640.8,340.2 L643.2,339.3 L645.8,339.7 L648.4,338.3 L651.3,338.1 L653.8,338.7 L656.2,338 L658,336.3 L661.2,334.8 L662.2,333.5 L664,331.5 L666.5,330.2 L669.4,327.8 L672.4,327.1 L674.4,326.3 L676.5,325.9 L679.6,324.4 L682.3,323.8 L684.8,323.7 L687.1,322.1 L689.6,322.1 L692.6,321.2 L695.6,320.2 L697.5,319.2 L700.4,318.5 L704.2,317.2 L706.6,315.8 L709.5,314.6 L710,317.4 L710.4,319.7 L710.8,322.4 L710.4,324.6 L711,327.9 L710.8,330.2 L708.6,332.2 L705.6,334.1 L702.6,335.3 L700.7,335.4 L698.2,337.3 L695.2,338 L693.3,339.2 L689.4,341.8 L687.4,343.2 L684.6,344.8 L683,346.6 L680.7,348.9 L679.6,351 L678.5,353.3 L676.7,355 L675.6,357.5 L673.8,358.6 L671.8,361.4 L670,362.8 L668.1,365.4 L665.4,367.3 L664,369.2 L661.9,371.2 L659.1,372.3 L656.2,374.4 L653.3,376.5 L651,379.6 L650.2,382.7 L649.5,384.8 L648.4,387.4 L646.2,390.2 L644.8,391.7 L643.2,395.2 L641.5,397.6 L640.8,401.1 L640.3,402.5 L639.3,405.6 L639.4,408.9 L639.5,411.1 L640.5,414.1 L640.6,416"/>
<path d="M651,379.6 L653.8,378.4 L656.4,377.6 L659.2,376.5 L662.3,375.4 L664,374.4 L666.8,373.5 L669.3,373.1 L671.9,372.9 L674.4,371.8 L676.8,371.9 L680.1,372.7 L681.9,373.9 L685.2,372.7 L687.4,374.4"/>
<path d="M623.7,410.8 L626.6,410.7 L630.1,409.7 L632.8,409.5 L635.5,410.8 L636.6,412.8 L638.7,414.7 L640.6,416 L643.7,416.6 L646.4,417 L648.3,418.7 L651,418.6 L653.9,419.9 L656.5,420.1 L659.5,421 L662.3,421.7 L665.3,422.5"/>
<path d="M565,370.6 L568.4,369.6 L571.2,367.5 L574.4,367.8 L577.9,367 L580.6,367.5 L583,369 L586.8,369 L590.5,370.1 L593.2,370.7 L596.2,372.1 L598.7,370.7 L602.4,369 L604.1,367.9 L607.1,365.9 L609.9,365.6 L613.3,365.1 L617.3,366.4 L619.6,365.9 L619.8,369 L619.7,370.9 L620.4,373.7 L624.3,376.8 L627.6,379 L630.5,379.9 L632.2,382.9 L634.4,385.4 L632.1,389.3 L629.8,389.9 L627.4,391.6"/>
<path d="M564.2,347.2 L563.9,350.5 L563.6,352.6 L563.4,355 L562.2,357.8 L560.3,361.2 L561.8,364.3"/>
<path d="M523.2,337.2 L526.4,337.5 L529.1,336.9 L531,335.9 L533.4,335.6 L535.9,335.5 L538.5,336.4 L541.4,335.9"/>
<path d="M343.4,480 L343.6,482.3 L342.9,484.6 L342,487.4 L340.9,490.4 L341.3,492.8 L340.8,495.6 L340.5,497.8 L340.5,500.5 L340.6,502.9 L340.4,506.2 L340.8,509.1 L340.2,510.9 L339.2,513.8 L340.5,517.1 L338.6,518.7 L339.5,521.1 L339.5,524.2 L341.2,526.2 L342.5,528.1 L343.7,529.6 L346,532 L346.9,535 L348.6,537.2 L345.3,539.7 L343.4,542.4 L341.8,544.3 L339.9,546 L337.7,548.7 L335.6,550.2 L337.5,553.1 L338,555.4 L338.2,558 L340.4,560 L342.8,561.2 L345,562.9 L347.9,562.8 L349.9,564.7 L351.2,565.8 L352.3,568.4 L353.3,570.5 L353.8,573.6 L356.1,573.9 L359.1,575.3 L361.9,575.7 L364.2,576.2"/>
<path d="M364.2,576.2 L365.9,573.5 L368.3,572.4 L370.2,571 L372,568.4 L374,566.2 L375.1,564.5 L378.2,561.8 L380.5,559.6 L382.4,558 L382.4,556.3 L383.3,553.2 L383.5,550.5 L383.5,548.6 L383.7,545 L383.5,542.7 L383.2,539.7 L382,536.3 L383.5,535.3 L382.4,532 L382.4,529.4 L380.7,527 L379.3,525 L376.2,522.3 L374.6,521.6 L377.9,520.3 L379.8,519 L383.1,519.4 L385.2,520.8 L387.6,521.6 L387.5,519.9 L388.2,517 L386.8,514.2 L387.3,511.5 L386.8,508.8 L386.3,506 L387.2,503.5 L389.6,500.4 L390.2,498.2 L392.8,497.7 L394.8,496.4 L398,495.6 L399.3,493.8 L401.5,492.1 L404,490.8 L406.2,488.3 L408.4,487.8 L410.4,485.1 L410.5,482.3 L412.3,480"/>
<path d="M369.4,573.6 L371.8,571.5 L373.8,570.1 L376.5,568.4 L378.7,567.3 L380.7,566 L383.1,563.3 L385.5,562.3 L387.6,560.6 L390.2,559.8 L393.9,559 L395.6,557.9 L398.6,557.1 L400.2,555.7 L403.2,555.4 L405.4,553.8 L406.4,551.2 L409.3,550 L411,547.6 L413,546.1 L416.2,545 L418.7,546.5 L420.3,548.2 L422.7,550.2 L425.1,550.2 L428.9,549.6 L431.8,550.2 L433.8,549.1 L435.8,547.4 L437.4,545.9 L439.6,543.7 L443.5,541.9"/>
<path d="M320,602.2 L322.2,602.4 L325,600.6 L327.4,600.1 L330.4,599.6 L332.8,596.7 L335.6,594.4 L338.1,594 L341.2,592.8 L344,591.7 L345.5,590.9 L348.9,590 L350.6,590.5 L353.8,589.2 L356.6,588.2 L357.3,586.1 L360.4,584.6 L361.4,582.8 L364.2,581.4 L366,578.2 L369.4,576.2"/>
<path d="M270.5,560 L273,558.2 L273,555 L275.4,553.3 L276.8,551.4 L279.7,550.3 L282,550 L284.3,548.2 L286.9,548 L290.1,547.5 L292.8,547 L295.5,546 L297.7,547.3 L301.6,547.5 L303.4,548.5 L306.2,548.7 L308.4,548.9 L311.1,549.9 L313.2,550.6 L316.9,550.2 L318.9,551.1 L321.4,551.1 L324,550.9 L326.8,552.2 L329.7,551.4 L333.6,551.3 L335.6,550.2"/>
<path d="M266.6,620.5 L268.9,620.1 L272.4,620.4 L274.2,619.2 L275.9,618.7 L279,618.1 L282.4,617.2 L284,617.8 L286.8,618 L288.5,616.5 L291.6,616.4 L294.1,615.6 L296.4,614.4 L299.5,613.4 L301.3,613.7 L304.8,612.6 L306.1,611 L308.6,610 L311.3,610.2 L314.1,608.5 L316.5,608 L317.9,604.6 L320,602.2"/>
<path d="M270.5,560 L270.8,561.7 L270.2,564.5 L269.4,567.1 L269.7,570.4 L270.4,573 L271.4,575.1 L270,578.5 L271,580.7 L271,583.4 L269.7,586.6 L270.5,588.8 L269.6,591.5 L269.2,593.8 L269,596.9 L268.5,598.8 L268.4,601.6 L268.7,604.3 L267.9,606.7 L268.2,609.1 L267.7,612.9 L267.5,614.2 L267.1,617.2 L264.9,619.2 L263.3,620.4 L261.9,622.5 L260.6,625 L260.3,626.9 L260,629.8 L258.7,633.1 L258,635.4"/>
<path d="M267,296.3 L266.3,299.1 L264.2,301.1 L261.5,301.8 L258.8,301.1 L256.7,299.1 L256,296.3 L256.7,293.6 L258.8,291.5 L261.5,290.8 L264.2,291.5 L266.3,293.6 L267,296.3"/>
<path d="M225,487.4 L227.6,487.7 L230,487.5 L232.3,486 L235.3,485.7 L237.9,486.4 L240.8,485.2 L243.1,484.9 L246.2,483.8 L249.2,483.6 L251.8,483.6 L254.2,481.4 L256.5,479.7 L259.7,479.8 L262,479.2 L264.9,479.7 L267.5,478.9 L269.5,481.6 L270.6,484.3 L273.8,485.4 L276.8,485.1 L278.9,485 L282,485.1 L285,484.1 L287.6,483.9 L290.9,483.6 L294,484.1 L295.8,483 L300.8,483.4 L301.8,482.8 L304.4,482.6 L305.8,482.7 L309.7,480.9 L312.7,480.9 L314.3,481 L317.4,480.4 L320.3,480.7 L322.8,480.8 L324.9,482.3 L328.9,482.5 L331.2,482.7 L333.7,482.9 L337.3,483.6 L339.2,484.3 L341.6,486.9 L343.6,489.5"/>
</g>
</g>
<path d="M543.7,453.4 L544.9,461.2 L546.4,469 L546.8,479.9 L543.7,481.5 L532.8,483.1 L525.7,482.3 L521.8,479.9 L523.4,476 L526.5,474.5 L530.4,473.7 L534.3,471.4 L536.7,466.7 L539.8,461.2 L541.4,456.5Z" fill="#7d7d7d"/>
<path d="M61.1,418.9 L58.7,419.7 L55.6,418.9 L50.9,421.2 L48.6,424.3 L47.8,429 L51.7,430.6 L55.6,429.8 L56.4,424.3 L58.7,422Z" fill="#7d7d7d"/>
<path d="M176.4,169.6 L172.5,148.8 L172.5,130.6 L181.6,125.4 L186.8,117.6 L180.3,109.8 L179,99.4 L166,92.9 L153,91.6 L150.4,83.8 L155.6,79.9 L166,69.5 L179,64.3 L181.6,66.9 L202.4,58.3 L215.4,57.8 L220.6,63 L233.6,70.8 L246.6,81.2 L251.8,91.6 L267.4,98.1 L268.7,104.6 L281.7,102 L293.4,94.2 L309.1,90.3 L322.1,94.2 L332.5,96.8 L335.1,105.9 L333.8,120.2 L327.3,128 L322.1,133.2 L319.5,139.7 L311.7,144.9 L306.4,146.2 L302.5,154 L306.4,164.4 L314.3,172.2 L319.5,185.2 L309.1,190.4 L298.6,187.8 L290.8,183.9 L292.5,189 L293.8,199.4 L299,205.9 L300.3,213.7 L302.9,221.5 L308.1,220.2 L312,226.7 L319.8,231.9 L327.6,234.5 L335.4,241 L344.5,247.5 L353.6,252.7 L348.4,259.2 L340.6,265.7 L335.4,273.5 L335.4,282.6 L331.5,291.7 L338,295.6 L343.2,296.9 L348.4,300.8 L356.2,306 L364,309.9 L371.8,312.5 L377,316.4 L384.8,319.1 L395.2,323 L401.7,328.2 L410.8,329.5 L421.2,330.8 L429.1,328.2 L436.9,332.1 L442.1,338.6 L455.6,343.7 L463.4,345 L468.6,350.2 L473.8,348.9 L481.6,350.2 L489.4,351.5 L497.2,354.1 L505,355.4 L512.8,355.4 L519.3,354.1 L523.2,351.5 L524.5,342.4 L523.2,337.2 L521.9,326.8 L523.2,316.4 L531,312.5 L538.8,310.7 L541.4,316.4 L540.1,326.8 L541.4,335.9 L542.7,341.1 L546.6,343.7 L554.4,345 L562.2,346.3 L564.8,347.6 L575.2,346.3 L585.6,345 L596,345 L612,343.2 L625,341.9 L623.7,335.4 L615.9,327.6 L609.4,325 L605.5,318.5 L612,317.2 L618.5,315.9 L630.2,312 L638,306.8 L645.8,301.6 L651,296.4 L658.8,293.8 L664,291.2 L669.2,283.4 L678.3,278.2 L684.8,280.8 L692.6,283.4 L701.7,279.5 L710.8,275.6 L716,275.6 L718.6,283.4 L722.5,286 L725.1,293.8 L721.2,300.3 L729.1,304.2 L739.5,305.5 L744.7,309.4 L743.4,315.9 L736.9,321.1 L734.3,327.6 L739.5,338 L731.7,334.1 L726.4,331.5 L716,331.5 L709.5,332.8 L703,335.4 L695.2,340.6 L692.6,345.8 L690,356.2 L688.7,364 L687.4,374.4 L682.2,379.6 L680.9,390 L678.3,400.4 L674.4,410.8 L669.2,418.6 L665.3,422.5 L651.7,418.2 L649.1,426 L646.4,452 L643.8,465 L636,472.8 L629.5,470.2 L628.2,452 L624.3,433.8 L624.3,426.7 L623.5,418.9 L621.1,426.7 L614.9,429.9 L611.8,436.1 L608.7,442.4 L605.5,446.3 L601.6,440.8 L598.5,434.6 L595.4,428.3 L596.2,423.6 L599.3,418.2 L607.1,415 L613.3,412.7 L618,409.6 L621.1,406.5 L621.1,400.2 L622.7,395.5 L625.8,393.2 L627.4,391.6 L618,390.1 L602.4,389.3 L586.8,389 L571.2,387.7 L564.2,385.4 L565,375.3 L564.2,370.6 L563.4,365.1 L561.8,361.2 L559.5,367.5 L555.6,365.9 L549.4,362.8 L540,358.1 L542.7,356.7 L536.2,358 L529.7,358 L525.8,363.2 L524.5,371 L523.2,378.8 L528.4,382.7 L536.2,384 L542.7,385.3 L541.4,387.9 L533.6,389.2 L525.8,391.8 L521.9,397 L523.2,402.2 L528.4,407.4 L534.9,410 L537.2,413 L538.5,420.8 L535.9,426 L538.5,433.8 L543.7,440.3 L542.4,452 L546.3,462.4 L546.3,478 L542.4,481.9 L532,483.2 L524.2,480.6 L521.6,475.4 L516.4,478 L508.6,480.6 L500.8,485.8 L495.6,493.6 L494.3,501.4 L498.2,504 L493,506.6 L490.4,514.4 L483.9,519.6 L473.4,521.6 L463,525.5 L455.2,529.4 L447.4,535.9 L442.2,542.4 L437,547.6 L429.2,555.4 L421.4,560.6 L413.6,565.8 L409.7,574.9 L403.2,581.4 L392.8,586.6 L386.3,591.8 L383.7,599.6 L383.7,607.4 L377.2,611.3 L369.4,612.6 L361.6,617.8 L356.4,624.3 L351.2,628.2 L346,625.6 L339.5,628.2 L334.3,636 L331.7,646.4 L333.4,647.8 L334.7,666 L336,679 L337.3,692 L333.4,705 L328.2,715.4 L325.6,723.2 L325.6,733.6 L326.9,744 L326.9,759.6 L320.4,759.6 L312.6,762.2 L310,767.4 L306.1,772.6 L304.8,780.4 L310,783 L315.2,785.6 L310,785.6 L299.6,788.2 L289.2,793.4 L285.3,798.6 L284,806.4 L278.8,809.1 L271,813 L265.8,810.4 L260.6,806.4 L255.4,798.6 L250.2,788.2 L245,777.8 L241.1,767.4 L235.9,754.4 L230.7,741.4 L225.5,731 L217.7,718 L211.2,705 L206,692 L202.1,679 L198.2,666 L193,655.6 L189.1,650.4 L185.2,645.2 L183.9,640 L181.6,634.9 L178.3,626.6 L173.3,614.9 L170,601.6 L166.6,585 L163.3,570 L161.6,560 L163.4,564 L162.1,553.6 L160.8,545.8 L159.5,538 L158.2,530.2 L156.9,522.4 L158.2,517.2 L163.4,514.6 L159.5,504.2 L156.8,500.6 L154.9,494.1 L154.2,485 L154.9,481.1 L152.3,477.2 L151.6,472 L152.9,465.5 L147.7,461.6 L145.1,469.4 L145.1,478.5 L142.5,487.6 L138.6,492.8 L133.6,493 L127.4,497.7 L121.1,500.8 L111.8,503.9 L102.4,500.8 L94.6,496.1 L88.4,489.9 L82.1,482.1 L75.9,474.3 L70.4,468 L66.5,463.3 L67.3,459.4 L69.6,457.9 L73.6,460.2 L78.2,460.2 L81.4,458.7 L85.3,457.1 L91.5,454 L96.2,450.9 L100.1,448.5 L103.2,445.4 L102.4,443.8 L100.9,445.4 L94.6,447.7 L88.4,449.3 L82.1,450.9 L75.9,450.1 L68.1,447.7 L61.8,443.1 L57.9,438.4 L56.4,433.7 L55.6,429.8 L51.7,430.6 L47.8,429 L48.6,424.3 L50.9,421.2 L55.6,418.9 L58.7,419.6 L61.1,418.9 L61.8,413.4 L63.4,411.1 L68.1,413.4 L74.3,412.6 L82.1,413.4 L86.8,412.6 L94.6,411.1 L99.3,409.5 L105.5,408.7 L107.1,410.3 L113.3,409.5 L115.7,407.2 L117.2,402.5 L114.1,396.2 L112.6,390 L109.4,386.4 L107.5,380 L106.4,374.9 L99.1,374.4 L95,369.7 L93.9,363.5 L95,358.3 L95,353.1 L90.8,351.5 L85.6,351 L80.4,347.9 L79.4,343.7 L80.4,338.5 L84.6,333.3 L89.8,328.1 L92.9,323.9 L96,317.7 L100.2,314 L104.3,313 L106.9,315.1 L108.5,319.8 L111.6,321.8 L116.8,320.3 L124.1,318.2 L130.3,317.2 L135.5,315.6 L137.6,311.4 L140.7,307.3 L144.9,302.1 L149.7,292.8 L157.5,287.6 L165.3,279.8 L169.2,270.7 L173.1,261.6 L179.6,259 L184.8,256.4 L187.4,246 L192.5,240 L194.6,235.9 L197.7,231.8 L201.3,229.2 L198.7,227.6 L198.7,222.4 L199.2,218.3 L198.7,214.1 L200.3,208.9 L203.4,205.8 L207,202.7 L212.2,201.1 L217.5,198.5 L220.1,195.9 L216.4,193.3 L211.2,191.2 L205,190.7 L201.8,188.1 L202.4,180.8 L200.8,181.8 L190.4,179.8 L180,175.6Z" fill="none" stroke="#808080" stroke-width="2" stroke-linejoin="round"/>
<g fill="#dadada" stroke="#808080" stroke-width="1.3"><path d="M638.8,678.2 L641,683.5 L641,692.1 L638.8,698.5 L638.8,711.3 L635.6,713.5 L633.5,722 L632.4,732.7 L630.3,734.9 L628.1,728.4 L629.2,717.8 L631.3,711.3 L631.3,698.5 L634.5,694.2 L635.6,683.5Z"/><path d="M639.9,711.3 L642.5,713.5 L642,723.1 L639.9,722Z"/><path d="M627.5,745.1 L629.8,746.6 L630.5,749.8 L629.6,753.7 L627.1,755 L624.9,753 L624.3,749.4 L625.3,746.4Z"/><path d="M650.2,809.3 L652.7,810.2 L654,813.6 L653.6,816.1 L649.7,816.6 L646.7,815.7 L648,812.3Z"/></g>
<g fill="#808080"><circle cx="659.1" cy="711.8" r="1.3"/><circle cx="620.6" cy="729.5" r="1.3"/><circle cx="633.5" cy="786.2" r="1.3"/><circle cx="642.5" cy="807.6" r="1.3"/><circle cx="654.4" cy="802.2" r="1.3"/><circle cx="154" cy="752.7" r="1.3"/><circle cx="178" cy="748" r="1.3"/><circle cx="164.3" cy="807.9" r="1.3"/></g>
</svg>
<div id="t">DNA J2 Matang density interactive map</div>
</body></html>
